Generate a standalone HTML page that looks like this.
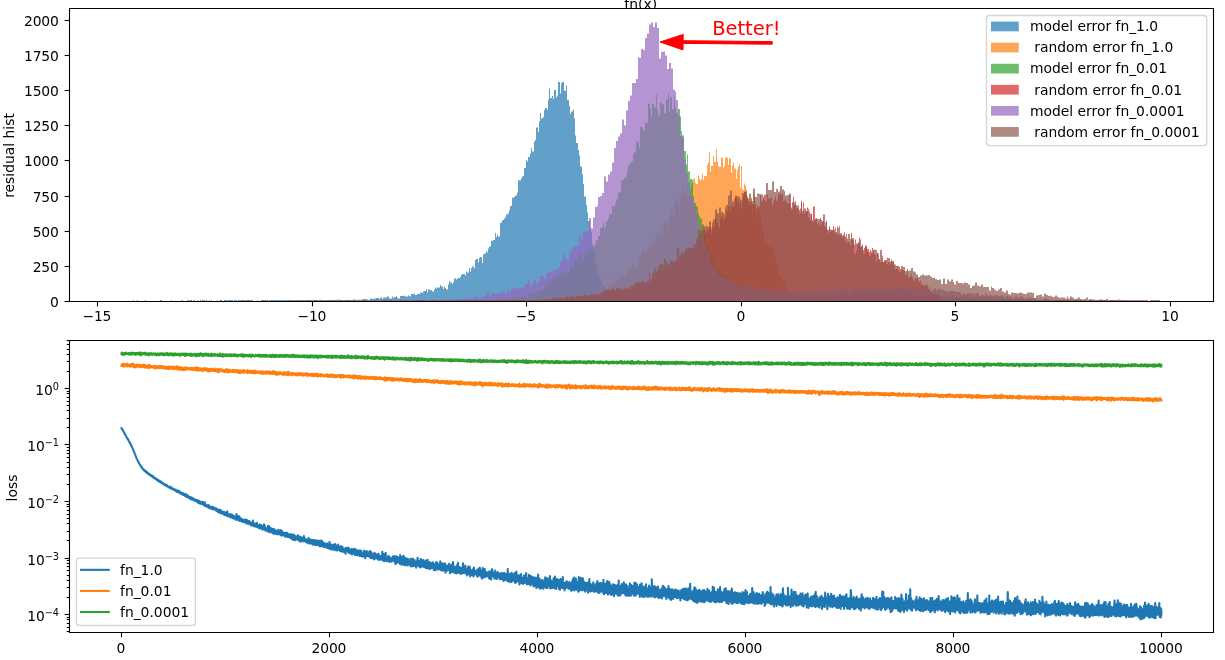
<!DOCTYPE html>
<html lang="en"><head><meta charset="utf-8"><title>residual hist / loss</title>
<style>
html,body{margin:0;padding:0;background:#fff}
svg{display:block}
text{font-family:"DejaVu Sans","Liberation Sans",sans-serif;font-size:13.89px;fill:#000}
.t{letter-spacing:-.15px}
.sp{fill:none;stroke:#000;stroke-width:1.1}
.tk{stroke:#000;stroke-width:1.1;fill:none}
.h{fill-opacity:.7;stroke:none}
.ln{fill:none;stroke-width:2.083;stroke-linejoin:round;stroke-linecap:square}
</style></head><body>
<svg width="1225" height="660" viewBox="0 0 1225 660">
<rect width="1225" height="660" fill="#fff"/>
<clipPath id="c0"><rect x="600" y="0" width="90" height="8"/></clipPath>
<g clip-path="url(#c0)"><text x="640.7" y="9.2" text-anchor="middle">fn(x)</text></g>
<clipPath id="c1"><rect x="69.5" y="8.5" width="1144" height="293"/></clipPath>
<g clip-path="url(#c1)">
<path class="h" fill="#1f77b4" d="M122 301.5H133V300H134V301.5H137V300H138V301.5H145V300H146V301.5H160V300H162V301.5H171V300H172V301.5H181V300H183V301.5H188V300H189V301.5H190V300H192V301.5H197V300H198V301.5H200V300H201V301.5H202V300H205V301.5H206V300H207V301.5H209V300H210V301.5H211V300H212V301.5H220V300H222V301.5H224V300H227V301.5H228V300H233V301.5H235V300H237V301.5H238V300H240V301.5H241V300H244V301.5H245V300H253V301.5H257V300H258V301.5H261V300H268V301.5H271V300H289V301.5H290V300H337V299.5H339V300H348V299.5H349V300H353V299.5H356V300H358V299.5H359V300H361V299.5H363V299H367V299.5H368V300H370V298.5H372V299H374V298.5H376V298H379V299H380V297.5H382V299H383V297.5H387V296.5H389V298.5H392V296.5H393V298H394V297H396V296H397V298H398V298.5H400V296H404V295.5H405V296.5H408V295.5H409V296H410V296.5H411V294H414V293.5H415V295H417V294H420V292.5H422V293H423V291.5H424V291H426V289H427V292.5H428V289.5H430V290.5H431V290H432V291.5H434V289.5H435V287.5H436V288.5H437V287.5H440V285H441V286.5H443V289H444V286.5H445V288H446V289.5H448V284.5H449V281H450V282.5H452V284H453V282.5H454V278.5H456V279.5H457V278.5H458V278H460V277H461V275H462V274H465V275.5H466V271.5H467V272.5H469V268H470V271.5H471V268H472V266.5H474V268.5H475V260H476V259H478V262.5H479V258H480V257H482V263H483V254.5H484V253.5H486V251H487V252.5H488V248.5H489V246.5H491V240.5H492V241H493V240H495V233H496V237H497V234.5H498V236.5H500V223H501V222.5H502V220H504V218.5H505V217.5H506V214.5H508V213H509V210H510V206H512V197.5H513V198H514V197H515V195.5H517V192.5H518V180H519V180.5H521V178.5H522V176.5H523V176H524V168H526V160H527V161.5H528V157H530V153.5H531V148H532V151.5H534V141.5H535V140H536V127.5H538V132H539V121.5H540V113H541V118.5H543V117H544V110H545V108H547V110H548V99.5H549V88.5H550V98H552V96H553V99H554V90H556V97.5H557V95.5H558V82H560V93.5H561V83.5H562V82H564V90.5H565V91H566V85.5H567V100H569V106H570V114H571V111.5H573V109.5H574V118.5H575V135.5H576V143H578V150H579V155.5H580V166.5H582V174.5H583V184H584V196.5H586V205H587V212.5H588V221H590V227H591V232H592V244H593V252.5H595V263.5H596V264.5H597V274H599V277H601V281.5H602V286H604V291H605V292H606V294H608V294.5H609V295H610V298H612V299.5H613V300H622V301.5Z"/>
<path class="h" fill="#ff7f0e" d="M200 301.5H209V300H210V301.5H217V300H218V301.5H240V300H241V301.5H244V300H246V301.5H257V300H258V301.5H269V300H270V301.5H281V300H282V301.5H284V300H285V301.5H289V300H290V301.5H293V300H294V301.5H295V300H299V301.5H302V300H303V301.5H308V300H309V301.5H314V300H315V301.5H318V300H319V301.5H320V300H322V301.5H324V300H325V301.5H338V300H339V301.5H340V300H341V301.5H342V300H347V301.5H351V300H355V301.5H357V300H363V301.5H364V300H368V301.5H370V300H371V301.5H372V300H373V301.5H374V300H377V301.5H378V300H380V301.5H381V300H383V301.5H385V300H387V301.5H388V300H389V301.5H391V300H392V301.5H393V300H397V301.5H399V300H402V301.5H403V300H406V301.5H407V300H419V301.5H420V300H424V301.5H425V300H432V301.5H433V300H498V299H499V300H501V299.5H502V300H504V299.5H506V300H510V299.5H514V299H516V300H519V299.5H522V299H523V300H524V299H527V298.5H529V299.5H531V299H532V300H533V299H534V299.5H537V300H538V299.5H539V299H540V298.5H541V298H542V299H545V299.5H546V298.5H548V298H549V296.5H550V298H552V299.5H553V298.5H554V299H556V296.5H557V297H558V299H560V296.5H561V295.5H562V297.5H564V297H565V296H566V295.5H568V295H569V294.5H571V294H572V295H573V297.5H575V295.5H576V295H577V295.5H578V293.5H579V295H580V295.5H581V292H583V293H584V293.5H585V292H587V292.5H588V296.5H590V293.5H591V293H592V293.5H593V291.5H594V289.5H595V292H596V292.5H598V287H599V290.5H600V291.5H601V288.5H602V288H603V289.5H604V286.5H606V288H607V288.5H608V286H609V284H610V286H611V283.5H612V284H614V277H615V284H616V278.5H617V281H618V280.5H619V277.5H621V276.5H622V274.5H623V276H624V277H625V276H626V272.5H627V271H629V267.5H630V269H631V266H632V263.5H633V266H634V269.5H636V267.5H637V267H638V256.5H639V262.5H640V254.5H641V255H642V250H644V251H645V253H646V252H647V249.5H648V247.5H649V248.5H650V245H652V237.5H653V248.5H654V239.5H655V242H656V236.5H657V232H658V234H660V229H661V237H662V224H663V229H664V222H667V232H668V222.5H669V216H670V208H671V212H672V210.5H673V216.5H675V201.5H676V198H677V205H678V204.5H679V210H680V196.5H682V185.5H683V194H684V189.5H685V191.5H686V198H687V184.5H688V196.5H690V189.5H691V185H692V179.5H694V178H695V183H696V184H698V175.5H699V178.5H700V180.5H701V179H702V173.5H703V180H704V176H706V176.5H707V165H708V162.5H709V152H710V171.5H711V166H713V156H714V162H716V149.5H717V161.5H718V166H719V167H721V157.5H722V158H723V168H724V166H725V157.5H728V165H729V158H730V159H731V173H732V165.5H733V162H734V168.5H736V179H737V170H738V166.5H739V164.5H740V188H741V166H742V190H744V183.5H745V185.5H746V189.5H747V195.5H748V204H749V197H750V205H752V215.5H753V192H754V204.5H755V202H756V217H757V209H759V211.5H760V214.5H761V224.5H762V232H763V231H764V242H765V243H767V239H768V246H770V248.5H771V244H772V249H774V256.5H775V255.5H776V264.5H777V266H779V275H780V275.5H782V281H783V280.5H784V279.5H785V286H787V289.5H788V291.5H790V293H791V290.5H793V294.5H794V297H795V296.5H796V298.5H799V299.5H800V300H805V301.5H806V300H807V301.5H808V301.5Z"/>
<path class="h" fill="#2ca02c" d="M250 301.5H288V300H290V301.5H291V300H292V301.5H298V300H300V301.5H306V300H308V301.5H314V300H315V301.5H327V300H329V301.5H330V300H332V301.5H344V300H345V301.5H346V300H350V301.5H351V300H352V301.5H358V300H366V301.5H370V300H383V301.5H384V300H386V301.5H388V300H390V301.5H391V300H394V301.5H396V300H416V301.5H417V300H420V301.5H422V300H428V301.5H429V300H446V301.5H447V300H495V299.5H496V300H500V299.5H501V300H502V299.5H506V299H507V298.5H510V299H513V298H514V297.5H518V298H519V296.5H520V294.5H522V296.5H524V295.5H525V295H526V297.5H528V294.5H530V295H531V292H532V293.5H536V292H537V291H540V290H542V290.5H543V288.5H544V286H546V283H548V284H549V283H550V280.5H552V279.5H554V277H555V276.5H556V277.5H558V275.5H560V274.5H561V273H562V272H564V272.5H566V274H567V270H568V272H570V266H572V265H573V268H574V261H576V259.5H578V260H579V255H580V253.5H582V260H584V253H586V252H588V248.5H590V251H591V249H592V247H594V244.5H596V239.5H597V240.5H598V236H600V228H602V227H603V222.5H604V227.5H606V221H608V218H609V214H612V206H614V207H615V203.5H616V199.5H618V192.5H620V192H621V181.5H622V180H624V178H626V175.5H627V170.5H628V165.5H630V162.5H632V161.5H633V154.5H634V152.5H636V141.5H638V142.5H639V147.5H640V127H642V129H644V131.5H645V123H646V122.5H648V103.5H650V109H651V117H652V104H654V107.5H656V94.5H657V109.5H658V115.5H660V103H662V104.5H663V104H664V113H666V99.5H668V93H669V112H670V97.5H672V109.5H674V96.5H675V108H676V113H678V109H680V116.5H681V131H682V135.5H684V151H686V164.5H687V154.5H688V171.5H690V179H692V182H693V196.5H694V203H696V206.5H698V213H699V216.5H700V218.5H702V228.5H704V230.5H705V235H706V245.5H708V246.5H710V254.5H711V253H712V258H714V262.5H716V268.5H717V267.5H718V271.5H720V270.5H722V273.5H723V276.5H724V274.5H726V276H728V279.5H729V278H730V281.5H732V282.5H735V284.5H736V285H740V283H741V284H742V287H744V284.5H746V287.5H748V287H750V288.5H752V286H753V289H754V291H756V288.5H758V291H760V294.5H762V290H764V290.5H765V291H768V290.5H770V293H771V292H772V294H776V292.5H777V293.5H778V295.5H780V293.5H782V294.5H783V295H784V294H786V294.5H788V296H789V295.5H790V292.5H792V296H794V294H798V295.5H800V295H801V294.5H802V294H804V295.5H806V296H807V294H808V293.5H810V294.5H812V295.5H813V294.5H816V294H818V296H819V295H822V296H824V294.5H825V295H826V295.5H828V294.5H830V296H831V295H832V294.5H836V294H837V296H838V296.5H840V294.5H843V293H844V294H846V295.5H848V294H849V295.5H850V296.5H852V292.5H854V294.5H855V294H856V294.5H858V293H860V294.5H861V293.5H862V296H866V293.5H868V294.5H872V295H873V295.5H874V293.5H876V294H878V294.5H880V294H882V294.5H884V294H885V296H886V294.5H888V293H890V295.5H891V295H892V294H897V296.5H898V294.5H900V296H902V295.5H903V294.5H904V295H906V294H908V292H909V294H910V294.5H912V296H914V295.5H915V296H916V295.5H918V296H921V295.5H922V296.5H927V295H928V295.5H930V294.5H933V296H934V295H936V297H938V294H939V295H940V296H942V297H944V295.5H945V298H946V297H948V295.5H950V296.5H951V297H952V295.5H954V297.5H956V296.5H957V297H958V297.5H960V296.5H962V297.5H963V295.5H964V297.5H966V295.5H968V298H969V296.5H970V298H972V298.5H974V297.5H975V297H976V298.5H978V296.5H980V298.5H981V297.5H986V299.5H987V297H988V297.5H990V298.5H992V299H993V299.5H996V298H998V298.5H999V299.5H1000V299H1002V297.5H1004V299H1005V299.5H1006V298H1008V298.5H1010V299H1011V299.5H1012V300H1016V299.5H1020V299H1022V299.5H1024V300H1035V299.5H1036V300H1044V299H1046V300H1077V301.5H1078V300H1086V301.5H1089V300H1092V301.5H1095V301.5Z"/>
<path class="h" fill="#d62728" d="M300 301.5H309V300H311V301.5H329V300H330V301.5H342V300H343V301.5H361V300H363V301.5H383V300H384V301.5H389V300H392V301.5H394V300H395V301.5H398V300H399V301.5H400V300H401V301.5H407V300H409V301.5H412V300H413V301.5H415V300H421V301.5H422V300H428V301.5H433V300H436V301.5H438V300H439V301.5H441V300H448V301.5H450V300H454V301.5H455V300H461V301.5H462V300H472V301.5H473V300H490V301.5H491V300H524V299.5H525V300H528V299.5H529V300H530V299.5H531V300H537V299H538V299.5H539V300H543V299H544V300H546V299H547V300H548V298.5H549V299.5H550V300H551V299H552V298.5H554V298H556V298.5H557V299H558V299.5H559V299H560V299.5H561V299H563V300H564V298.5H566V296.5H567V297.5H568V298.5H569V297.5H570V299H572V298.5H573V299.5H574V296.5H575V297H576V298.5H577V297.5H578V296.5H582V297.5H584V296.5H585V295.5H586V297H589V295H590V296.5H591V294.5H592V295H593V294.5H594V293H595V294H598V295.5H599V295H600V293H601V292H603V290.5H604V292.5H607V291H608V292H610V293H611V290H612V292.5H613V290H615V292.5H616V288.5H617V291.5H618V288.5H619V292H620V290H621V287.5H622V290.5H624V288.5H625V289.5H626V292H627V287.5H629V289.5H630V286.5H631V288.5H634V286.5H635V287.5H636V282H637V288H638V283.5H639V282.5H641V287.5H642V286.5H643V281.5H644V283H645V281H646V278.5H647V281H648V281.5H650V284.5H651V277.5H652V279H653V276H654V275H655V278H656V270H657V271H659V270.5H660V274.5H661V272H662V271.5H663V270.5H664V271.5H665V267H666V266.5H668V265.5H669V267H670V261.5H671V263.5H672V270.5H673V264H674V261.5H676V258H677V261H678V260H680V255.5H681V257.5H683V257H685V252H686V254.5H687V257H688V249.5H689V252.5H690V248.5H691V248H692V244.5H694V244H695V248H696V245.5H697V248H698V237H699V239.5H700V235H702V239H703V243.5H704V229.5H705V233H706V231.5H707V230.5H708V227.5H709V226.5H711V233.5H712V222.5H713V227.5H714V226H715V217H716V219H717V222.5H718V227.5H720V218.5H721V216H722V217H723V220.5H724V217.5H725V218H726V211H728V207H729V205.5H730V211.5H731V207H732V204.5H733V208H734V206H735V195.5H737V203H738V199.5H739V204.5H740V202H741V209.5H742V202H743V196.5H744V192.5H746V196H747V198H748V201H749V203.5H750V201.5H751V198H752V204H754V196.5H755V205H756V208H757V205H758V207.5H759V206H760V195.5H761V201H763V199H764V195H765V194.5H766V202H767V194H768V198H769V199.5H770V197.5H772V205.5H773V202.5H774V199.5H775V196.5H776V201H777V199.5H778V194.5H780V193H781V195.5H782V193.5H783V201H784V200.5H785V198.5H786V201.5H787V203.5H789V195H790V203.5H791V207.5H792V202H793V197H794V205H795V201H796V208H798V209H799V210H800V208.5H801V200.5H802V213.5H803V202.5H804V214H805V211.5H807V207.5H808V209H809V211.5H810V220.5H811V213.5H812V220H813V206.5H815V218.5H816V218H817V224H818V222.5H819V226H820V218H821V223.5H822V221H824V226.5H826V220.5H827V229.5H828V233.5H829V226H830V232H831V230.5H833V226H834V233H835V227.5H836V234H837V226.5H838V228H839V235H842V237.5H843V234.5H844V232H845V242H846V234H847V242.5H848V242H850V245.5H851V233H852V240.5H854V244.5H855V239.5H856V250.5H857V244H859V237.5H860V247H861V246H862V244.5H863V250H864V248H865V245.5H867V249H869V252H870V250H871V251.5H872V248H873V251H874V254.5H876V261.5H877V253H878V253.5H879V259H880V262.5H881V261H882V255.5H883V262H885V261H886V260H887V257.5H888V262H889V262.5H890V264.5H891V259.5H892V262H894V265.5H895V269.5H896V269H897V266H898V270H899V267H900V269H902V270H904V271H905V275H906V274.5H907V269H908V277.5H909V277H911V274H912V277.5H913V279.5H914V281.5H915V278H918V281.5H920V280.5H921V285H922V283.5H923V286H924V285H928V289.5H929V287H930V290.5H931V292H933V294.5H934V293.5H935V294H937V295H939V296.5H940V297H941V299H942V298.5H943V300H949V301.5Z"/>
<path class="h" fill="#9467bd" d="M170 301.5H187V300H189V301.5H193V300H195V301.5H220V300H222V301.5H234V300H236V301.5H242V300H244V301.5H248V300H249V301.5H261V300H263V301.5H269V300H271V301.5H273V300H275V301.5H285V300H286V301.5H288V300H290V301.5H292V300H294V301.5H296V300H298V301.5H302V300H304V301.5H308V300H310V301.5H314V300H318V301.5H329V300H337V301.5H341V300H343V301.5H347V300H355V301.5H361V300H450V299.5H452V300H456V299H458V299.5H462V299H464V298.5H466V298H468V299H470V298.5H474V296.5H476V297H478V298.5H480V297.5H483V296H485V295.5H487V292.5H489V296.5H491V293H493V293.5H495V294.5H497V293.5H501V292.5H503V291H505V294H507V289.5H509V291.5H511V288.5H513V289.5H515V288H517V288.5H519V286.5H520V287.5H522V288H524V284.5H526V283.5H528V280H530V286.5H532V283H534V280H536V283.5H538V281H540V275.5H542V276H544V279.5H546V273.5H548V272.5H550V272H552V271H554V269.5H556V270H558V267.5H560V262H561V261H563V254.5H565V258H567V261.5H569V253.5H571V249.5H573V247H575V245.5H577V246H579V235.5H581V239.5H583V231.5H587V231H589V218H591V228.5H593V217.5H595V207H597V205.5H598V197H600V196H602V193H604V176.5H606V181.5H608V174.5H610V171.5H612V162.5H614V148H616V141H618V136.5H620V133.5H622V119.5H624V125.5H626V110.5H628V101H630V95.5H632V83H636V79H638V57H639V58H641V49H643V50H645V38H647V33.5H649V24.5H651V22.5H653V27H655V22.5H657V28H659V58.5H661V52H663V51.5H665V55.5H667V69H669V63H671V68.5H673V89.5H675V91.5H676V100H678V116H680V136H682V138H684V160H686V173H688V182H690V195H692V197.5H694V207H696V213.5H698V224H700V236.5H702V241H704V244H706V253.5H708V250H710V263H712V267.5H714V266.5H716V270H717V274H719V276.5H721V277H723V277.5H725V278.5H727V281.5H729V281H731V281.5H733V282H735V289.5H737V286H739V286.5H741V286H745V285H747V286H749V287.5H753V285H754V289H756V288H758V286.5H760V288.5H762V292H764V289H766V290.5H770V289H772V290H774V291H776V289.5H778V290.5H780V291H786V291.5H788V292H790V291H792V292.5H794V293H795V289.5H797V291H805V290.5H809V291.5H811V289.5H813V291.5H815V289H817V293H819V291.5H821V288.5H823V290H825V290.5H827V289H829V291H831V289H832V292.5H834V289.5H836V290H838V288H840V287.5H842V290H844V286H846V289.5H848V291.5H850V292H852V286H854V288.5H856V289H860V289.5H862V286H864V288H866V285H868V288H870V291.5H872V286.5H873V288.5H877V285.5H879V288.5H881V286H883V288H885V289H887V287H889V289H891V286H893V286.5H895V287.5H897V287H901V288.5H903V286.5H905V288.5H907V287H909V289.5H910V288H912V287.5H914V289.5H916V289H918V289.5H920V287.5H922V290H924V288.5H926V287H928V289H930V292H932V289.5H934V288.5H936V290.5H938V288.5H940V289.5H942V290H944V291H946V291.5H950V291H955V292H961V294.5H963V293.5H965V294H967V293H969V293.5H973V294.5H975V293H977V293.5H979V296H981V294.5H983V295.5H985V293H987V295.5H990V295H992V295.5H996V294.5H998V296H1000V295.5H1004V297.5H1006V295.5H1008V296.5H1012V298H1014V296.5H1016V297H1018V298H1020V296H1022V297.5H1024V298.5H1026V298H1028V297.5H1031V298H1037V300H1039V299.5H1041V300H1043V299.5H1045V298.5H1047V299H1049V300H1082V301.5H1084V300H1086V301.5H1088V300H1107V301.5H1109V300H1117V301.5H1121V300H1123V301.5H1125V301.5Z"/>
<path class="h" fill="#8c564b" d="M300 301.5H314V300H316V301.5H320V300H322V301.5H339V300H341V301.5H364V300H366V301.5H377V300H379V301.5H384V300H388V301.5H390V300H392V301.5H394V300H396V301.5H400V300H402V301.5H404V300H407V301.5H413V300H415V301.5H417V300H424V301.5H430V300H438V301.5H440V300H441V301.5H445V300H449V301.5H451V300H542V299.5H544V299H546V299.5H548V300H550V299H552V298.5H555V297.5H557V298.5H559V298H561V297H563V298.5H565V296.5H569V297H571V296H573V296.5H574V298H576V296H578V296.5H580V296H584V294.5H586V295H588V296.5H590V295H592V294H593V295.5H595V295H597V294.5H601V292.5H603V291H605V289.5H607V290H609V289.5H611V289H612V288H614V290.5H616V288H618V288.5H622V289H624V288.5H626V288H628V289H630V285.5H631V286H633V285H635V283H637V281.5H639V282.5H641V280.5H643V282.5H645V283H647V281.5H649V272.5H650V279H652V272.5H654V268.5H656V272H658V265.5H660V263.5H662V264.5H664V259H666V262.5H668V264.5H670V259.5H671V261H673V262H675V260.5H677V248H679V255H681V252H683V252.5H685V248.5H687V248H688V247.5H690V248.5H692V248H694V244H696V238.5H698V229.5H700V230.5H702V224.5H704V226.5H706V226H708V229H709V221.5H711V228.5H713V219.5H715V209.5H717V213H719V207.5H721V212H723V213.5H725V207.5H726V205H728V195.5H730V190.5H732V201.5H734V198.5H736V196.5H740V199.5H742V193H744V191.5H747V198.5H749V193.5H751V201H753V188.5H755V197H757V193.5H759V194H761V194.5H763V196.5H764V200H766V183H768V190H772V181.5H774V192H776V189H778V191.5H780V186H782V189.5H784V191H785V195.5H787V195H789V193.5H791V210H793V202.5H795V205H797V205.5H799V213.5H801V202.5H802V210.5H804V208.5H806V211H808V217.5H810V214H812V222H814V220H816V219H820V220H822V222.5H823V214.5H825V222.5H827V230H829V229H831V230H833V229.5H835V232H837V234H839V226H840V233H842V235.5H844V236.5H846V238.5H848V234H850V239H852V238H854V254H856V243.5H858V242H860V239.5H861V247H863V253.5H865V247H867V252H869V256.5H871V253.5H873V249.5H875V250H877V253H878V259.5H880V250H882V262H884V260H886V264.5H888V258H890V261.5H892V261H894V264.5H896V266H899V272.5H901V266H903V267H905V271H909V270.5H911V268H913V271.5H915V272.5H916V274.5H918V277H920V275.5H922V274.5H924V275.5H928V275H930V276.5H932V278H934V277.5H935V279H937V280H939V279.5H941V284H943V278.5H945V284H947V279.5H949V281.5H951V279.5H953V282H954V284.5H956V281H958V283H962V283.5H964V282.5H966V283H968V284.5H970V288H972V286H973V285.5H975V282.5H977V285.5H979V286.5H981V284.5H983V287H989V290.5H991V286.5H992V288H994V289.5H996V291H998V289.5H1000V288H1002V291.5H1004V292.5H1006V290.5H1008V294H1010V295H1011V292.5H1013V293H1017V293.5H1019V292.5H1021V293H1023V294H1027V292.5H1032V293H1034V298H1036V295.5H1038V295H1040V294.5H1042V296.5H1044V293.5H1046V295H1048V296H1050V295.5H1051V296.5H1053V297H1055V295.5H1057V297H1059V298H1061V297.5H1065V298.5H1067V296.5H1068V298.5H1070V296.5H1072V297.5H1074V299H1076V298.5H1078V297.5H1080V299H1082V299.5H1084V299H1086V297.5H1088V300H1089V299H1091V299.5H1095V300H1099V299.5H1103V300H1106V299H1108V300H1118V299.5H1120V300H1148V301.5H1150V300H1160V301.5H1162V301.5Z"/>
</g>
<path fill="#f00" stroke="#f00" stroke-width="1" stroke-linejoin="miter" d="M772.2 41.6L683.1 40.7L683.2 34.4L660 42L683 49.9L683.1 43.4L772.2 44.2Z"/>
<text x="712.2" y="34.6" style="font-size:19.444px;fill:#f00">Better!</text>
<path class="sp" d="M69.5 8.5H1213.5V301.5H69.5Z"/>
<path class="tk" d="M97.5 301.5v4.86"/><text class="t" x="96.9" y="321" text-anchor="middle">−15</text>
<path class="tk" d="M312.5 301.5v4.86"/><text class="t" x="311.9" y="321" text-anchor="middle">−10</text>
<path class="tk" d="M526.5 301.5v4.86"/><text class="t" x="525.9" y="321" text-anchor="middle">−5</text>
<path class="tk" d="M741.5 301.5v4.86"/><text class="t" x="740.9" y="321" text-anchor="middle">0</text>
<path class="tk" d="M955.5 301.5v4.86"/><text class="t" x="954.9" y="321" text-anchor="middle">5</text>
<path class="tk" d="M1170.5 301.5v4.86"/><text class="t" x="1169.9" y="321" text-anchor="middle">10</text>
<path class="tk" d="M69.5 301.5h-4.86"/><text class="t" x="58.7" y="306.8" text-anchor="end">0</text>
<path class="tk" d="M69.5 266.5h-4.86"/><text class="t" x="58.7" y="271.8" text-anchor="end">250</text>
<path class="tk" d="M69.5 231.5h-4.86"/><text class="t" x="58.7" y="236.8" text-anchor="end">500</text>
<path class="tk" d="M69.5 196.5h-4.86"/><text class="t" x="58.7" y="201.8" text-anchor="end">750</text>
<path class="tk" d="M69.5 160.5h-4.86"/><text class="t" x="58.7" y="165.8" text-anchor="end">1000</text>
<path class="tk" d="M69.5 125.5h-4.86"/><text class="t" x="58.7" y="130.8" text-anchor="end">1250</text>
<path class="tk" d="M69.5 90.5h-4.86"/><text class="t" x="58.7" y="95.8" text-anchor="end">1500</text>
<path class="tk" d="M69.5 55.5h-4.86"/><text class="t" x="58.7" y="60.8" text-anchor="end">1750</text>
<path class="tk" d="M69.5 20.5h-4.86"/><text class="t" x="58.7" y="25.8" text-anchor="end">2000</text>
<text transform="translate(13.7 155.5) rotate(-90)" text-anchor="middle">residual hist</text>
<rect x="986.5" y="15.44" width="220.2" height="130.16" rx="2.78" fill="#fff" fill-opacity=".8" stroke="#ccc" stroke-opacity=".8" stroke-width="1.39"/>
<rect class="h" x="991" y="21.6" width="27.78" height="9.72" fill="#1f77b4"/><text x="1029.9" y="31.32" xml:space="preserve" style="white-space:pre">model error fn_1.0</text>
<rect class="h" x="991" y="42.69" width="27.78" height="9.72" fill="#ff7f0e"/><text x="1029.9" y="52.41" xml:space="preserve" style="white-space:pre"> random error fn_1.0</text>
<rect class="h" x="991" y="63.77" width="27.78" height="9.72" fill="#2ca02c"/><text x="1029.9" y="73.49" xml:space="preserve" style="white-space:pre">model error fn_0.01</text>
<rect class="h" x="991" y="84.86" width="27.78" height="9.72" fill="#d62728"/><text x="1029.9" y="94.58" xml:space="preserve" style="white-space:pre"> random error fn_0.01</text>
<rect class="h" x="991" y="105.94" width="27.78" height="9.72" fill="#9467bd"/><text x="1029.9" y="115.66" xml:space="preserve" style="white-space:pre">model error fn_0.0001</text>
<rect class="h" x="991" y="127.03" width="27.78" height="9.72" fill="#8c564b"/><text x="1029.9" y="136.75" xml:space="preserve" style="white-space:pre"> random error fn_0.0001</text>
<clipPath id="c2"><rect x="69.5" y="340.5" width="1144" height="292"/></clipPath>
<g clip-path="url(#c2)">
<path class="ln" stroke="#1f77b4" d="M121.5 428.18l0.42 0.74l0.1 0.09l0.42 0.53l0.1 0.16l0.21 0.63l0.31 0.63l0.31 0.38l0.21 0.35l0.31 0.75l0.21 0.38l0.42 0.41l0.2 0.45l0.32 0.88l0.1-0.15l0.42 0.67l0.1 0.15l0.42 0.92l0.2 0.14l0.32 0.61l0.1 0.43l0.42 0.88l0.1 0.14l0.42 0.65l0.2-0.24l0.21 0.93l0.21-0.09l0.42 1.4l0.1-0.13l0.42 0.8l0.1 0.4l0.42 0.71l0.2-0.43l0.32 1.67l0.1 0.01l0.42 0.5l0.1 0.29l0.31 0.62l0.21 0.27l0.31 1.02l0.31 0.12l0.32 0.68l0.2 0.63l0.32 0.8l0.1 0.41l0.42 1.08l0.1-0.44l0.31 1.38l0.42 0.44l0.21 1l0.2 0.4l0.21 0.85l0.21 0.43l0.42 0.67l0.1 0.7l0.31 0.85l0.21 0.17l0.42 0.98l0.1 0.4l0.31 0.77l0.21 0.26l0.42 0.88l0.2 0.46l0.32 0.73l0.1 0.15l0.42 0.83l0.1-0.14l0.31 1.1l0.21 0.22l0.31 0.53l0.21 0.08l0.42 1.07l0.1-0.39l0.42 1.27l0.1-0.05l0.31 0.95l0.52-0.39l0.11 1.13l0.1-0.19l0.42 0.9l0.2-0.21l0.32 0.52l0.31 0.49l0.21-0.17l0.1 0.29l0.21 0.22l0.31-0.03l0.1 0.79l0.42-0.27l0.31 1.01l0.21-0.3l0.42 0.67l0.2 0.17l0.11-0.83l0.41 0.73l0.21 0.67l0.42-0.64l0.21 1.26l0.1-0.39l0.1 0.5l0.42-0.24l0.42 0.89l0.1-0.28l0.1 0.42l0.42-0.11l0.21 0.83l0.31-0.81l0.42 0.83l0.1-0.2l0.42 0.87l0.2-0.71l0.32 0.94l0.31-0.34l0.1 0.89l0.31-0.59l0.21 0.43l0.21-0.2l0.42 0.79l0.2 0.41l0.32-0.69l0.1-0.12l0.21 1.27l0.31-0.89l0.31 1.25l0.42 0.28l0.1-0.44l0.52 0.12l0.11 0.68l0.1-0.33l0.42 0.79l0.2-0.5l0.21 0.73l0.31 0.23l0.21-0.33l0.21 0.27l0.31 0.69l0.52 0.36l0.11-0.87l0.1 0.58l0.42 0.57l0.41 0.75l0.11-1.13l0.31 0.26l0.21 0.75l0.1-0.29l0.31 1.08l0.31-1.05l0.32 0.72l0.2 0.01l0.32 0.67l0.2-0.92l0.32 1.4l0.1-0.88l0.31 0.85l0.21-0.46l0.31 0.77l0.31-0.04l0.32 0.64l0.31-0.9l0.1 1.37l0.31-0.35l0.11 0.52l0.41-0.37l0.32 0.59l0.1-0.01l0.31-0.11l0.21 0.64l0.1-0.76l0.52 0.5l0.21 0.98l0.52-0.61l0.11 0.66l0.31-0.84l0.21 0.78l0.2 0.3l0.32-0.59l0.1 1.05l0.31-0.48l0.42 0.88l0.1-0.51l0.21 0.37l0.31 0.41l0.31-0.32l0.21 0.86l0.42-0.67l0.21 0.75l0.1-0.53l0.42 0.89l0.1 0.29l0.21-1.6l0.41 1.47l0.11-0.83l0.52 0.66l0.21 0.92l0.2-0.76l0.32 1.11l0.2-0.88l0.21 0.68l0.52 0.43l0.11-0.61l0.31 0.02l0.21 0.93l0.1-0.66l0.31 0.63l0.31-0.12l0.32 0.83l0.31-0.45l0.21 0.36l0.2-0.82l0.11 1.07l0.62-0.34l0.11 1.25l0.31-0.91l0.21 0.88l0.31 0.36l0.21-1.3l0.41-0.05l0.11 1.5l0.1-0.01l0.42-1.27l0.1 0.84l0.42 1.01l0.41-1.15l0.11 1.32l0.2 0.3l0.21-1.12l0.42 0.24l0.21 0.8l0.1-0.66l0.31 1.1l0.31 0.49l0.32-0.89l0.31-0.1l0.1 1.04l0.31 0.51l0.11-0.67l0.31 0.85l0.31-1.44l0.42 1.23l0.21 0.6l0.1-0.79l0.31 0.73l0.31-0.66l0.21 1.08l0.21-1.39l0.1 1.52l0.42-1.84l0.1 2.64l0.52-1.15l0.21 1.03l0.21-0.55l0.31 1.21l0.42-1.27l0.21 1.46l0.1-2.09l0.31 2.21l0.21-1.41l0.21 0.76l0.41-0.32l0.32 1.89l0.1-1.38l0.1 1.26l0.63-0.93l0.21 1.13l0.1-1.06l0.31 1.66l0.21-1.56l0.21 1.51l0.41 0.71l0.32-2.17l0.1 1.59l0.1-1.51l0.42 1.16l0.42 0.98l0.41-0.94l0.11 0.81l0.31-0.97l0.1 0.71l0.42-0.08l0.1 1.17l0.31-0.93l0.11 1.28l0.31-1l0.42 1.35l0.2-0.53l0.21-0.73l0.31 0.54l0.11 0.54l0.31 0.35l0.21-1.35l0.52 2.02l0.21-1.5l0.1 0.2l0.21 1.92l0.31-0.3l0.31-1.61l0.42 2.38l0.1-0.91l0.42-0.94l0.1 1.52l0.21-1.4l0.42 1.5l0.2 1.06l0.32-1.08l0.1-0.84l0.42 1.37l0.41-0.11l0.11 0.76l0.31 0.12l0.1-0.93l0.21 0.78l0.1-1.97l0.73 0.36l0.11 1.85l0.2 0.56l0.21-0.23l0.31-0.33l0.21 1.13l0.31-0.05l0.11-1.77l0.31 2.14l0.1-3.08l0.63 3.89l0.21-2.08l0.2 0.77l0.32 0.75l0.2-0.56l0.21 1.38l0.31-0.34l0.32-0.95l0.2 1.21l0.11-0.77l0.41-0.29l0.32 2.29l0.2-0.98l0.21-1.62l0.42 2.59l0.1-1.19l0.31-0.43l0.32 2.18l0.1-0.08l0.42-1.55l0.2 0.12l0.21 1.36l0.21-1.38l0.31 1.89l0.21-0.11l0.42-1.01l0.41-0.72l0.11 2.54l0.1-1.62l0.1 1.64l0.52-0.24l0.11-1.66l0.52 1.92l0.1-1.96l0.21 1.51l0.42 0.61l0.31-0.88l0.21 0.95l0.41-1.29l0.11 1.36l0.1 0.03l0.21 0.63l0.41-0.17l0.21-1.59l0.21 0.83l0.21 1.46l0.31 0.18l0.21-1.82l0.41 2.4l0.11-1.91l0.52 2.67l0.21-2.47l0.2 0.4l0.32 1.63l0.31 0.56l0.21-2.81l0.1 1.45l0.1 1.58l0.52-1.17l0.32 1.48l0.31-2.65l0.1 2.62l0.21-1.33l0.21 1.15l0.31 0.82l0.1-1.71l0.52 0.42l0.21 1.02l0.42-1.69l0.1 1.77l0.31 0.61l0.11-0.99l0.52 0.21l0.1 1.66l0.31-0.6l0.21-2.28l0.42 0.93l0.1 2.06l0.52-1.38l0.11 1.28l0.41 0.74l0.11-2.78l0.31 2.68l0.21-1.33l0.2 1.13l0.11-3.99l0.31 1.61l0.31 3.31l0.52-0.83l0.11-0.81l0.1 0l0.1 0.87l0.42 0.92l0.31-2.14l0.52 2.56l0.11-2.77l0.2 1.37l0.32 1.95l0.2-2.45l0.11 2.16l0.41-0.51l0.32-2.15l0.2 0.65l0.21 2.16l0.42 0.66l0.1-1.66l0.31 1.56l0.11-2.48l0.52 0.86l0.21 2.5l0.1-2.49l0.31 1.74l0.42-0.13l0.1-1.32l0.52 0.85l0.11 1.08l0.31 0.5l0.21-1.91l0.2 2.77l0.21-1.8l0.31-4l0.21 5l0.31-3.34l0.32 3.89l0.2 0.03l0.32-3.56l0.2 0.32l0.11 3.73l0.52 0.39l0.1-1.9l0.42 1.17l0.1-3.55l0.31 3.68l0.11-1.36l0.31 2.51l0.42-2.41l0.31 0.7l0.1 1.09l0.52-1.89l0.11 0.42l0.2 0.84l0.11 1.74l0.52-0.23l0.21-1.82l0.2 2.61l0.21-2.04l0.52 0.08l0.11 1.8l0.31-0.46l0.21-1.63l0.41 0.03l0.11 2.26l0.1 0.17l0.21-1.54l0.62 1.82l0.11-1.16l0.2-1.97l0.32 2.74l0.2 1.24l0.11-2.55l0.52-0.68l0.21 2.29l0.1-1.66l0.21 1.76l0.31-1.54l0.31 2.82l0.21-0.91l0.1-2.02l0.52 2.69l0.32-2.55l0.1 2.66l0.1-1.23l0.42 1.84l0.21-2.38l0.41 0.63l0.32 2.6l0.2-1.24l0.32 1.41l0.2 0.02l0.21-2.14l0.21 0.53l0.42 1.42l0.41-4.7l0.11 4.93l0.1-2.15l0.21 2.48l0.31 0.25l0.31-2.67l0.42 2.36l0.21-1.01l0.41 0.3l0.11 1.6l0.1-3.08l0.21 2.7l0.52 0.28l0.1-2.34l0.52 2.56l0.11-1.95l0.31-1.99l0.21 4.25l0.1-0.36l0.21-2.03l0.31 0.61l0.1 2.03l0.52-1.1l0.11 1.5l0.52-1.59l0.21 1.53l0.31 0.76l0.21-3.93l0.31 1.02l0.21 2.35l0.1-1.88l0.1 2.38l0.52 0.15l0.11-3.49l0.31 3.56l0.42-2.62l0.31 3.32l0.21-3.23l0.2 0.93l0.11 2.76l0.31-1.11l0.31-1.58l0.31-0.2l0.32 2.22l0.2-4.74l0.32 4.95l0.31-0.56l0.1-0.99l0.31-1.06l0.32 4.18l0.31-2.35l0.21 1.42l0.2-0.13l0.11-1l0.31-0.42l0.31 1.91l0.31-2.03l0.32 2.39l0.31 0.92l0.21-5.69l0.2 1.7l0.21 2.12l0.21 2.05l0.21-0.97l0.31-4.39l0.42 5.78l0.31-0.65l0.21-2.9l0.2 2.77l0.11-3.37l0.31 4.03l0.21-1.92l0.62-1.44l0.11 1.88l0.31 1.6l0.21-2.72l0.1 3.5l0.21-3.1l0.31 0.82l0.1-1.9l0.63 0.59l0.1 4.46l0.31-1.01l0.32-3.5l0.31 0.67l0.21 3.27l0.1-3.17l0.1 3.86l0.63-3.27l0.1 2.32l0.52 0.53l0.11-1.63l0.2-0.45l0.32 1.38l0.1 1.49l0.21-3.4l0.41 1.22l0.21 0.64l0.21 1.54l0.31-4.36l0.52 4.07l0.11-2.87l0.31 3.05l0.21-3.53l0.2 2.95l0.11-1.69l0.41 2.3l0.21-1.86l0.21 2.65l0.21-5.01l0.52 5.59l0.1-3.62l0.52-0.79l0.11 3.98l0.1 0.43l0.21-3.06l0.62 2.99l0.11-2.68l0.1 2.19l0.21-2.12l0.41 2.43l0.32-1.73l0.2-0.7l0.32 2.09l0.1-0.2l0.1 1.13l0.42 0.88l0.21-3.89l0.52 1.38l0.21 1.77l0.2-1.77l0.11 2.15l0.52 0.4l0.1-4.05l0.52 3.44l0.11-2.72l0.31 3.6l0.21-2.78l0.1 1.89l0.21-1.88l0.31 0.76l0.1 0.8l0.42 0.03l0.21 1.21l0.31 0.65l0.1-2.8l0.52-0.87l0.11 3.8l0.31-1.83l0.42 2.09l0.31 0.75l0.21-4.1l0.1 1l0.21 2.4l0.41-1.55l0.11-1.71l0.31 4.53l0.1-2.13l0.42 2.66l0.1-5.53l0.63 1.07l0.1 2.67l0.42-2.33l0.1 2.74l0.42 1.64l0.21-3.11l0.2 1.57l0.32-1.94l0.31-0.23l0.21 2.72l0.1-2.87l0.21 2.52l0.31 0.49l0.21-3.21l0.41 2.54l0.11-3.32l0.52 5l0.21-2.76l0.41-1.17l0.11 4.56l0.41-0.96l0.11-3.09l0.1 3.09l0.42-3.29l0.1 3.45l0.21-2.19l0.31 3.56l0.1-2.31l0.42-1.79l0.1 3.44l0.63-2.67l0.1 2.46l0.42-2.54l0.21 2.15l0.41 0.16l0.11-3.32l0.2 4.21l0.32-5.25l0.1 4.93l0.31-1.04l0.21-1.63l0.1 2.8l0.42-2.38l0.42 2.54l0.1-2.07l0.31 2.51l0.21-1.57l0.21 1.6l0.41-2.28l0.11 2.79l0.52 0.52l0.21-2.64l0.31 0.36l0.21 1.08l0.31 0.4l0.21-4.15l0.1 5.46l0.21-4.48l0.41 1.69l0.21 2.77l0.52-1.32l0.11-2.01l0.31 0.15l0.21 3.17l0.1-3.88l0.42 4.08l0.1-0.83l0.42-2.46l0.2 3.06l0.21-3.23l0.31 1.33l0.21 3.09l0.21-1.68l0.31-2.01l0.31 3.93l0.32-5.03l0.1 1.8l0.31 3.31l0.31-1.55l0.32-2.54l0.2 1.4l0.21-1.12l0.21 2.9l0.31-3.53l0.21 4.91l0.21-4.76l0.52-0.08l0.21 4.44l0.31-2.05l0.21 1.51l0.1-0.77l0.31 1.2l0.21-2.28l0.21 2.15l0.41-4.12l0.32 4.91l0.31-4.02l0.21 2.98l0.1-1.26l0.1 3.11l0.63-0.21l0.1-3.74l0.21 3.11l0.1-4.89l0.63 5.61l0.21-4.59l0.2 4.8l0.11-5.57l0.41 4.01l0.21-3.02l0.21 1.04l0.1 3.18l0.42-2.28l0.42 2.13l0.1 1.4l0.31-4.2l0.42 3.14l0.1-2.65l0.21 0.57l0.42 2.61l0.2-1.34l0.11 1.66l0.52-2.87l0.21 3.3l0.2 0.12l0.21-4.31l0.31 0.48l0.11 2.46l0.31-1.3l0.31 3.02l0.31-0.94l0.11-2.46l0.31 0.76l0.31 1.63l0.42-2.32l0.1 4.16l0.21-6.96l0.31 5.54l0.21-3.37l0.42 3.09l0.1-0.6l0.31 2.88l0.31-0.32l0.21-4.37l0.31 4.42l0.21-2.36l0.31 2.65l0.32-4.04l0.41 0.31l0.11 2.6l0.1-0.88l0.42 2.15l0.41-4.87l0.11 5.32l0.31-3.27l0.1 1.32l0.42 1.09l0.21-5.09l0.2 4.24l0.11-2.26l0.52-0.71l0.1 3.28l0.31 1.95l0.21-3.03l0.31-0.84l0.11 2.83l0.52-1.98l0.1 2.79l0.42-2.22l0.1-3.45l0.21 2.65l0.1 1.86l0.52-2.42l0.21 3.13l0.21-1.81l0.21 1.68l0.41-0.31l0.11 1.52l0.31-2.94l0.21 3.21l0.31-5.05l0.21 3.46l0.41 1.8l0.21-4.39l0.31 3.6l0.11-2.27l0.31-1.33l0.42 4.17l0.1 0.69l0.21-2.98l0.31 0.67l0.21 1l0.31 0.93l0.1-2.33l0.52 2.97l0.21-3.55l0.21 1.31l0.21 1.98l0.31 1.92l0.1-5.49l0.42 2.87l0.31-3.22l0.31 0.42l0.21 2.92l0.21 0.02l0.42-2.95l0.1-0.53l0.42 4.12l0.2-4.04l0.21 4.78l0.42 0.07l0.1-4.41l0.21 1.36l0.1 2.9l0.52-3.23l0.21 3.34l0.31 0.85l0.11-2.63l0.31 0.32l0.42 2.37l0.31-0.57l0.21-3.99l0.31 5.31l0.21-4.96l0.2 4.01l0.11-2.14l0.62-1.86l0.11 4.14l0.2-3.81l0.11 2.89l0.41-3.88l0.32 4.68l0.41-1.72l0.11 3.25l0.41-5.6l0.11 4.35l0.2-4.27l0.11 4.83l0.52-0.31l0.21-2.89l0.1 0.18l0.31 3.83l0.42-0.62l0.1-4.24l0.31 5.04l0.11-4.3l0.31 3.44l0.31-2.22l0.42-1.53l0.1 4.02l0.52-4.09l0.11 5.43l0.41-0.08l0.11-3.91l0.41 3.05l0.11-3.89l0.2 3.79l0.11-4.46l0.52 0.94l0.1 4.66l0.21-3.17l0.42 2.14l0.31-0.9l0.1 2.65l0.21-0.96l0.31-2.63l0.21 2.65l0.42-3.49l0.31 3.74l0.1-5.53l0.42 3.96l0.1 1.75l0.42-3.3l0.1 5.13l0.21-5.83l0.31 3.19l0.21-1.94l0.1 2.47l0.52-4.99l0.21 5.47l0.52-1.41l0.11-2.26l0.41-1.01l0.11 4.03l0.1-0.27l0.31-2.4l0.31 0.35l0.11 2.71l0.31-1.7l0.31 2.15l0.31-0.51l0.32-1.14l0.1-3.93l0.21 6.44l0.52-3.87l0.1 2.7l0.21 1.83l0.42-6.02l0.2 5.34l0.11-1.14l0.41 1.37l0.32-2.51l0.2 2.84l0.21-3.85l0.42-0.05l0.21 3.55l0.41-3.99l0.11 5.73l0.2-2.2l0.21-4.37l0.21 4.84l0.1-4.39l0.63 5.1l0.1-4.06l0.21 3.3l0.1-3.69l0.73 4.3l0.11-2.82l0.2 1.09l0.32 1.34l0.41-1.78l0.11 3.01l0.2-4.89l0.32 4.39l0.2-4.98l0.21 6.31l0.21-0.22l0.1-3.15l0.42 2.05l0.21-2.9l0.41 3.29l0.21-2.58l0.42 2.16l0.21-2.02l0.1 3.16l0.42-3.58l0.1-0.24l0.42 3.76l0.1-1.94l0.31-5.93l0.21 5.45l0.21 2.32l0.62 1.04l0.11-4.36l0.1 4.54l0.1-6.71l0.42 0.09l0.1 7.07l0.42-3.52l0.21 1.98l0.52-2.57l0.1 1.43l0.21-5.9l0.42 8.08l0.31-2.36l0.1 2.84l0.21-0.31l0.42-3.18l0.2 2.15l0.21-2.16l0.21-0.44l0.31 3.69l0.21-4.86l0.31 4.84l0.31-2.12l0.32 3.03l0.1-5.37l0.42 4.17l0.2 0.2l0.11-1.96l0.31 0.1l0.21 2.05l0.41-2.81l0.32 3.38l0.2 0.07l0.21-2.88l0.52-1.03l0.11 2.91l0.1-0.44l0.42-4.03l0.1 3.24l0.42-2.15l0.2 3.3l0.32-2.88l0.31 2.27l0.21-2.01l0.1-1.67l0.31 5.76l0.21-5.72l0.1 5.79l0.52 1.92l0.32-5.73l0.2 4.86l0.11-6.91l0.31 1.8l0.42 4.51l0.31-4.78l0.21 3.29l0.1 1.13l0.1-5.27l0.63 4.35l0.21-1.57l0.2-1.5l0.32 4.04l0.1-0.2l0.31-3.11l0.42 4.88l0.21-8.74l0.41 5.99l0.11 2.48l0.1-7.4l0.31 6.69l0.31 1.62l0.32-7.45l0.41 6.92l0.11-4.21l0.41 0.04l0.11 4.72l0.1-4.31l0.21 3.56l0.41-7.96l0.32 6.12l0.31 0.9l0.21-2.1l0.1 4.12l0.42-6.21l0.1-1.18l0.42 7.63l0.1-3.71l0.21 4.03l0.31-5.78l0.21 4.91l0.31-0.37l0.31-4.94l0.21-0.68l0.1 4.88l0.42-3.95l0.42 5.93l0.2-1.9l0.11-4.59l0.41 1.7l0.11 2.7l0.52 0.91l0.1-2.69l0.21 2.02l0.21-2.39l0.31-0.49l0.1 4.27l0.52-6.13l0.11 7.32l0.62-6.97l0.11 6.35l0.1-5.68l0.21 1.73l0.31 4.74l0.21-4.06l0.31-3.7l0.31 6.68l0.21-3.24l0.42 3.95l0.1-6.24l0.21 4.56l0.41 1.41l0.32-5.34l0.2 1.54l0.11 2.3l0.41-2.65l0.11 4.65l0.31-2.68l0.31 4.09l0.42-5.38l0.21 3.5l0.1-1.01l0.31-3.02l0.42-3.93l0.21 6.6l0.41-3.02l0.11 4.34l0.2-3.03l0.32 3.5l0.1-5.24l0.31 4.08l0.21 1.6l0.42-4.77l0.1 1.88l0.21 3.75l0.41-8.31l0.21 6.48l0.42 0.94l0.1-7.2l0.31 2.07l0.21 4.53l0.21 0.6l0.21-2.22l0.31 0.97l0.42-3.35l0.2 2.79l0.32-4.66l0.2 4.78l0.32 2.18l0.31-4.11l0.21 2.9l0.2 1.18l0.11-5.13l0.41 4.85l0.21-2.95l0.21 4.19l0.31-7.43l0.31 6.13l0.32-2.9l0.1 4.42l0.31-5.03l0.52-3.42l0.11 6.42l0.41-3.51l0.11 4.42l0.2 1.2l0.11-3.36l0.52 2.32l0.21-5.28l0.1 7.11l0.42-5.71l0.1 1.92l0.21 2.71l0.52-5.12l0.1 5.51l0.42-2.17l0.21-3.27l0.2 1.29l0.11 3.88l0.41-0.41l0.32-4.67l0.31 4.55l0.21-4.46l0.2-0.93l0.11 2.51l0.31-0.19l0.31 5.55l0.21-3.94l0.1 3.04l0.52-0.82l0.21-2.96l0.21 1.12l0.31-2.85l0.21 6.65l0.31-5.05l0.42-3.12l0.21 5.14l0.41-2.22l0.11 3l0.2-2.8l0.32 3l0.1-5.21l0.42 6.52l0.2-4.88l0.11 4.07l0.31-2.76l0.42 2.83l0.2-3.08l0.21 3.55l0.31-3.73l0.21 3.79l0.21-8.14l0.42 7.95l0.1-0.12l0.42-2.78l0.1 4.18l0.1-5.9l0.52-1.23l0.11 6.36l0.31-5.9l0.21 4.9l0.31-4.8l0.1 6.71l0.42-5.33l0.42 4.99l0.31-3.74l0.1 3.5l0.31-0.63l0.21-6.08l0.31 3.98l0.21-3.6l0.21 9.07l0.31-4.33l0.31-2.61l0.11 3.09l0.62-2.36l0.11 4.34l0.1-3.5l0.1 2.76l0.73-4.61l0.11 3.93l0.41-0.48l0.11-1.42l0.31 1.36l0.1-5.26l0.42 6.4l0.1-4.08l0.42 6.89l0.21-7.88l0.1 8.28l0.31-7.29l0.52 5.38l0.11-2.59l0.2-3.69l0.32 5.78l0.1-0.34l0.31-6.14l0.31 7.71l0.11-7.33l0.31 6.85l0.31-9.47l0.42 6.16l0.1 3.11l0.42-4.61l0.21 4.17l0.1-0.19l0.31 2.13l0.31-6.01l0.11 4.58l0.41-4.21l0.21 4.01l0.21 1.83l0.21-6.26l0.52 1.72l0.21 4.96l0.1-1.84l0.21-6.62l0.52 6.59l0.1-3.31l0.21-5.45l0.1 9.53l0.63-4.2l0.21 3l0.1-4.39l0.31 6.01l0.31-4.09l0.32 2.41l0.1-2.11l0.1 4.4l0.63 0.48l0.1-6.46l0.31 2.35l0.11 3.81l0.52-3.03l0.1 2.67l0.21-5.04l0.42 4.24l0.1-1.39l0.42-7.71l0.2 7.03l0.32 2.69l0.1-4.58l0.21 2.99l0.62 0.54l0.11-1.45l0.1-2.22l0.21 3.97l0.41-6.81l0.32 6.41l0.1 1.42l0.42-3.43l0.2 1.01l0.11 3l0.31-3.76l0.21 1.69l0.31 3.68l0.31-6.98l0.42 5.55l0.21-7.54l0.31 7.25l0.1-3.4l0.52 2.23l0.11-4.39l0.1 4.57l0.21-6.35l0.31 1.79l0.31 8.2l0.21-5.55l0.42 3.74l0.1-2.56l0.31 2.74l0.42-4.34l0.1 4.31l0.31 0l0.32-4.46l0.1-0.91l0.31 4.77l0.31-4.14l0.11 3.42l0.31 3.02l0.31-9.03l0.31 3.18l0.32 3.99l0.31-3.8l0.1 2.8l0.42-1.75l0.1 2.37l0.42-0.86l0.21-1.3l0.1 1.35l0.42-3.05l0.31 1.36l0.21 3.57l0.41 1.35l0.11-3.93l0.2-2.97l0.32 5.13l0.31-6.43l0.1 5.8l0.52 1.04l0.11-2.43l0.2 2.25l0.11-5.17l0.41-2.32l0.21 7.94l0.31-0.24l0.11-2.47l0.41 3.05l0.32-3.48l0.31 5.32l0.1-7.42l0.21 2.15l0.21 6.11l0.41-1.87l0.21-8.75l0.31 8.22l0.32-4.97l0.31-2.08l0.1 8.23l0.31-1.39l0.32-4.65l0.31 5.64l0.1-8.08l0.42 6.8l0.1-4.2l0.42 2.94l0.21 2.24l0.1-3.14l0.42 2.27l0.1-0.74l0.1-2.65l0.63 1.01l0.21 1.77l0.2-0.11l0.11-2.83l0.52 1.73l0.1 3l0.31-5.51l0.32 5.58l0.2 1.22l0.11-4.33l0.52-2.22l0.21 2.82l0.1 4.37l0.42-4.16l0.2-3.05l0.32 3.71l0.1 4.07l0.21-9.14l0.62-1.15l0.11 5.82l0.2 1.06l0.11-5.82l0.62 5.92l0.11-1.29l0.1 1.46l0.42-3.34l0.41 3.34l0.11-3.48l0.2 5.67l0.21-5.01l0.42 3.17l0.21-6.14l0.2 7.78l0.21-5.95l0.42 1.65l0.1 3.38l0.52 1.01l0.11-3.36l0.1 3.86l0.31-4.82l0.42 2.12l0.21-4.14l0.31 4.56l0.1-2.55l0.21 2.74l0.21-3.55l0.62 1.85l0.11 3.16l0.31-2.12l0.1 2.9l0.21-4.63l0.31 3.45l0.42-4.7l0.1 5.86l0.42 0.17l0.1-5.37l0.21-0.92l0.1 5.73l0.52-0.25l0.21-3.99l0.42 1.87l0.1 3.12l0.21-6.11l0.42 7.71l0.2-7.33l0.11 5.64l0.31-0.94l0.1-5.41l0.73 1.51l0.11 5.34l0.41-6l0.11 5.27l0.41-4.09l0.11 3.85l0.2-4.47l0.32 3.42l0.1 0.14l0.31-3.63l0.21 6.93l0.42-12.29l0.1 7.53l0.31 2.65l0.52 1.86l0.11-5.13l0.1-1l0.1 5.33l0.63 1.81l0.1-8.18l0.31 2.44l0.32 4.05l0.2-5.21l0.21 4.91l0.31-3.69l0.32 5.61l0.1-5.01l0.21-4.3l0.31 3.31l0.31 4.43l0.21-0.03l0.31-5.21l0.21 4.86l0.42-4.62l0.2 5.35l0.11-5.98l0.62-1.35l0.11 8.37l0.1-0.1l0.21-5.47l0.41 6.61l0.21-9.94l0.21 3.64l0.42 5.97l0.31-10.95l0.1 9.03l0.21 0.24l0.31-3.58l0.42-0.83l0.21 3.21l0.1-2.59l0.42 4.26l0.2-0.83l0.11-5.36l0.52 6.26l0.1-2.82l0.21-1.02l0.1 7.02l0.42-1.32l0.21-7.65l0.31 6.59l0.42-5.41l0.31-2.66l0.21 8.73l0.2-3.15l0.32 3.12l0.31-4.48l0.1 4.56l0.31-1.04l0.11-4.11l0.41 6.26l0.11-5.45l0.31-0.55l0.31 4.37l0.21-6.71l0.42 6.69l0.31 0.48l0.21-4.05l0.1 3.3l0.1-6.84l0.42 2.52l0.31 5l0.31-9.78l0.32 8.67l0.2-3.82l0.21 6.7l0.31-6.22l0.11 5.35l0.31-0.08l0.21-4.28l0.31 4.54l0.1-6.08l0.63 6.29l0.1-9.17l0.31 1.76l0.32 4.7l0.2-3.02l0.21 3.85l0.42 3.23l0.21-9.6l0.1 3l0.31 5.19l0.42-7.41l0.21 6.88l0.41-6.42l0.11 6.56l0.1 0.34l0.1-5.62l0.42 4.92l0.1-5.93l0.52 9.18l0.21-5.68l0.21-3l0.1 5.6l0.42-4.53l0.21 6.91l0.52-8.28l0.1 6.46l0.52-1.53l0.11 3.17l0.2-3.36l0.32 5.81l0.41-10.32l0.11 6.63l0.31 1.72l0.21-4.55l0.41 5.2l0.11-6.22l0.2-5.91l0.32 9.93l0.2-3.97l0.11 5.11l0.31-3.01l0.42 5.87l0.2-9.69l0.32 9.05l0.1-5.86l0.31 3.51l0.31-4.73l0.32 3.64l0.1 3.93l0.21-6.79l0.62 4.02l0.11-5.28l0.31 6.95l0.1-7.45l0.21 0.83l0.21 6.15l0.41 1.86l0.32-6.44l0.1-0.67l0.31 2.01l0.31 3.32l0.11-5.71l0.31 4.06l0.42-7.88l0.31 4.89l0.21 4.58l0.31-5.66l0.1 6.85l0.21-3.13l0.42-6.76l0.1 8.22l0.21-4.85l0.52 6.38l0.1-8.74l0.21 5.83l0.21-5.57l0.41 0.72l0.21 3.7l0.31 0.69l0.21-6.57l0.42 8.64l0.21-10.53l0.1 3.16l0.31 9.32l0.31-3.37l0.21-5.07l0.21 2.29l0.21 4.68l0.31-4.98l0.1 3.54l0.42 2.33l0.42-5.4l0.2-1.19l0.21 5.38l0.42 0.85l0.1-8.24l0.31 7.79l0.11-9.14l0.31 6.95l0.1 1.71l0.42 1.65l0.42-11.69l0.1 10.61l0.1-3.25l0.52-5.21l0.32 6.28l0.2 3.82l0.21-7.97l0.21-0.09l0.1 5.39l0.42-0.85l0.1-6l0.63 0.17l0.21 5.5l0.1 0.31l0.31-3.4l0.31 6.7l0.11-4.85l0.41-3.64l0.21 8.89l0.31 0.7l0.21-7.95l0.42 4.37l0.21-7.24l0.31 4.85l0.1 3.98l0.31-1.09l0.21-4.02l0.21 4.25l0.31-6.88l0.52-2.93l0.11 11.14l0.2-0.7l0.11-5.03l0.62 1.36l0.11 2.67l0.1 1.41l0.21-4.3l0.31-0.03l0.1 6.91l0.42-7.73l0.1 4.79l0.42 0.79l0.1-2.27l0.73 0.83l0.11-5.65l0.1 6.19l0.31-5.81l0.21 5.17l0.31-4.36l0.42 0.45l0.21 4.77l0.31-4.23l0.1 5.25l0.42-5.55l0.1 3.86l0.31-0.08l0.11-4.77l0.31 6.12l0.42-4.29l0.1 2.9l0.1-2.91l0.42 6.35l0.1-6.79l0.52-0.51l0.21 7.7l0.31-8.75l0.21 5.01l0.31 2.39l0.21-9.57l0.42 1.74l0.21 7.39l0.31-11.27l0.1 10.92l0.42-10.98l0.21 12.95l0.2-2.96l0.32-4.5l0.1-3.24l0.1 9.74l0.42-0.55l0.42-10.51l0.1 10.98l0.31-8.46l0.31 8.65l0.32-7.71l0.1 1.4l0.42 4.88l0.41 1.34l0.11-2.58l0.2-1.07l0.21 5.86l0.21-3.49l0.21-11.25l0.31 14.01l0.1-5.65l0.73-0.19l0.11 2.69l0.1 2.01l0.31-9.59l0.42-2.64l0.1 11.86l0.42-3.7l0.1 3.72l0.21-11.16l0.1 10.6l0.42-5.24l0.1 6.75l0.42-0.4l0.1-11.96l0.73 10.38l0.11-7.3l0.1 1.57l0.1 6.79l0.73-0.32l0.11-6.76l0.1 2.32l0.31 6.75l0.31-1l0.11-5.53l0.41 5.13l0.32-7.48l0.1 1.62l0.31 3.48l0.21 2.29l0.21-6.36l0.62 7.1l0.11-6.71l0.2 8.54l0.21-10.52l0.31 1.17l0.32 5.06l0.2 2.02l0.32-11.45l0.1 11.6l0.42-6.38l0.2-0.75l0.32 8.29l0.1-0.82l0.42-6.38l0.2 5.42l0.32-5.18l0.2 6.18l0.21-6.38l0.31 5.8l0.11-6.11l0.31-0.28l0.1 6.02l0.42 0.61l0.21-8.3l0.31 2.27l0.21 3.91l0.31 3.4l0.42-3.32l0.31-3.05l0.21 5.39l0.1 0.41l0.31-3.45l0.21 1.41l0.21-5.1l0.41 4.28l0.21-4.77l0.42-1.14l0.21 9.02l0.1-10.55l0.31 11.12l0.21 0.52l0.31-7.84l0.52 5.97l0.11-3.52l0.2-3.91l0.32 7.97l0.1 1.58l0.21-3.08l0.62 2.07l0.11-9.19l0.2 7.95l0.11-4.06l0.62-1.82l0.11 4.03l0.1 0.78l0.1-6.21l0.73 0.58l0.11 7.78l0.31-0.29l0.1-3.11l0.52 4.68l0.11-13.18l0.1 5.62l0.42 8.81l0.1-9.46l0.42 6.09l0.1-3.76l0.1 3.95l0.63 1.74l0.1-9.25l0.21 9.11l0.1-7.97l0.52 1.91l0.32 6.2l0.1-0.79l0.21-6.11l0.31-4.98l0.31 12.06l0.21-8.26l0.31 9.92l0.21-9.19l0.21 4.95l0.41 1.57l0.32-10.19l0.31 3.8l0.21 7.25l0.31-0.74l0.21-8.03l0.1 3.74l0.31 6.34l0.21-1.44l0.21-6.46l0.41 8.68l0.11-9.15l0.41 7.91l0.21-7.06l0.42-0.77l0.21 5.32l0.2-6.87l0.11 9.97l0.41-7.55l0.11 3.11l0.31-1.72l0.1 8.03l0.63-11.5l0.21 7.62l0.31 0.14l0.1-4.4l0.21-1.19l0.1 5.14l0.42 1.42l0.31-7.95l0.42 3.57l0.1 4.54l0.31-5.16l0.11 4.99l0.52 1.99l0.21-10.55l0.2 2.17l0.21 5.66l0.31-12.02l0.11 14.72l0.52-0.77l0.21-5.13l0.41 3.31l0.11-6.73l0.2 9.31l0.21-7.02l0.21 5.95l0.1-8.1l0.52 1.88l0.11 4.13l0.31-8.22l0.31 8.87l0.21-6.64l0.42 5.18l0.1 1.12l0.21-6.81l0.31 2.61l0.1 4.95l0.42-10.94l0.31 10.26l0.21 0.02l0.31-4.59l0.42-0.36l0.21 7.33l0.31-1.45l0.21-7.23l0.2-2.01l0.32 9.74l0.1-5.53l0.1 7.44l0.63-0.85l0.21-9.14l0.1 2.7l0.21 4.79l0.52 1.49l0.1-6.12l0.52 1.99l0.11 5.11l0.41-7.33l0.11 5.97l0.41-11.35l0.11 10.47l0.41-2.67l0.11-5.43l0.1 5.4l0.42 4.62l0.1-10.46l0.21 8.93l0.31-8.04l0.42 6.7l0.1-6.98l0.1 7.83l0.42-0.96l0.42-5.13l0.1 6.05l0.31-4.03l0.31 6.08l0.32-7.23l0.31-5.92l0.21 7.36l0.2 5.23l0.11-7.01l0.31-0.8l0.42 8.49l0.1-12.67l0.21 9.55l0.52-7.81l0.21 8.9l0.31-9.03l0.21 9.18l0.2-7.29l0.21 6.27l0.42-0.79l0.21-4.99l0.1 3.27l0.31 3.53l0.31-5.32l0.32 4.61l0.1-3.83l0.42 7.57l0.1-12.32l0.1 9.13l0.52-0.3l0.32-2.97l0.1 4.72l0.1-3.98l0.52-7.73l0.21 8.57l0.31 4.75l0.11-4.62l0.31-2.34l0.42 4.7l0.1-4.12l0.42 3.71l0.31-7.42l0.21 8.82l0.2 1.63l0.32-6.58l0.2-0.72l0.32 2.87l0.1-4.6l0.42 7.72l0.1-0.66l0.42-10.83l0.2 11.35l0.11-3.96l0.41-3.14l0.32 8.07l0.41-5.87l0.11 5.35l0.2-2.46l0.21-5.29l0.31 0.94l0.21 7.56l0.21-0.89l0.31-10.42l0.21 10.67l0.1-9.29l0.52 5.33l0.11 1.71l0.31 0.72l0.1-6.2l0.52-1.12l0.21 9.23l0.52 0.06l0.11-17.36l0.2 15.91l0.11-5.36l0.52-0.54l0.1 2.55l0.52 2.25l0.11-4.66l0.41-3.01l0.11 9.82l0.2 0.25l0.21-6.25l0.21 6.95l0.42-10.82l0.41 0.42l0.11 10.5l0.31-8.36l0.1 5.4l0.31-5.94l0.21 6.87l0.21-7.45l0.42 8l0.2-7.1l0.32 7.89l0.2-1.46l0.21-8.64l0.21 10.21l0.1-7.9l0.42 2.99l0.1 6.41l0.42-1.11l0.21-7.6l0.41 0.41l0.21 7l0.21-1.26l0.21-5.89l0.52 0.54l0.21 4.11l0.1 3.51l0.42-7.86l0.2 8.36l0.32-7.14l0.1-3.64l0.1 9.17l0.52-10.92l0.21 7.02l0.21 3l0.42-9.43l0.41 1.46l0.11 7.07l0.31 0.41l0.21-7.56l0.31 8.67l0.1-5.92l0.52 5.94l0.11-5.17l0.31-1.73l0.21 9.27l0.2-6.02l0.11 3.04l0.62 0.2l0.11-6.24l0.2 6.73l0.11-7.78l0.62 7.72l0.11-10.48l0.2 3.63l0.11 7.26l0.31-6.05l0.21 7.56l0.31-2.33l0.31-7.05l0.21 9.07l0.31-7.72l0.42 3.76l0.1 5.76l0.21-10.15l0.1 7.45l0.52-5.42l0.21 3.62l0.21-6.22l0.21 8.58l0.62-4.4l0.11 5.59l0.2-7.64l0.11 2.52l0.31-1.8l0.42 4.37l0.2 0.22l0.32-7.1l0.1 7.47l0.31-7.13l0.21 7.03l0.21-4.47l0.52-2.67l0.1 5.25l0.31-3.98l0.32 7.05l0.31-7.52l0.21 5.55l0.1-4.82l0.31 5.15l0.42 1.38l0.1-7.23l0.52-0.1l0.11 6.44l0.1-0.22l0.1-4.23l0.63-0.1l0.1 5.03l0.42-4.23l0.21 7.18l0.31-3.34l0.1-4.48l0.42-2.55l0.1 7.47l0.31-7.5l0.21 7.92l0.31-0.32l0.11-7.1l0.31 6.39l0.42-8.24l0.1 2.11l0.31 6.09l0.21-3.59l0.21 5.74l0.31-6.41l0.21 4.92l0.41-0.09l0.11-8.87l0.41 2.55l0.32 8.92l0.1-3.9l0.1-2.23l0.52 2.5l0.32-7.83l0.1 0.97l0.21 4.88l0.41-4.65l0.32 10.69l0.1-1.25l0.1-6.04l0.73-2.28l0.11 3.08l0.1-5.54l0.1 10.5l0.63-2.21l0.1-9.08l0.31 9.17l0.21-12.96l0.31 11.63l0.21 2.74l0.42-5.36l0.21 6.41l0.31-6.46l0.21 4.72l0.41-0.46l0.11-2.52l0.1-3.09l0.31 5.4l0.21 3.28l0.42-9.99l0.1 10.92l0.31-10.29l0.31 7.12l0.32-10.65l0.2 3.28l0.11 9.39l0.31 1.98l0.31-13.94l0.21 13.79l0.31-9.4l0.21 7.11l0.31-9.43l0.21 8.2l0.31-6.42l0.21 11.09l0.1-7.57l0.42 2.58l0.1-6.85l0.63 10.74l0.21-10.79l0.1 0.48l0.21 3.99l0.31-5.67l0.31 10.16l0.52-8.37l0.11 8.52l0.1-9.32l0.1 10.35l0.42-7.72l0.42 8.18l0.31-2.21l0.1-4.76l0.21-3l0.1 8.66l0.63-1.39l0.1-3.79l0.21-4.9l0.31 11.72l0.21-8.45l0.42 4.43l0.1 0.56l0.31-8.34l0.21 12.11l0.42-11.29l0.31 2.75l0.1 7.42l0.52-3.34l0.11-4.46l0.1-1.45l0.31 8.14l0.31-3.98l0.21-4.61l0.52 5.88l0.11-8.62l0.1 5.16l0.31 5.59l0.31 1.54l0.11-6.69l0.52 3.66l0.1-5.44l0.31-2.06l0.32 10.4l0.31 0.69l0.21-6.88l0.1 6.52l0.21-5.92l0.41 6.71l0.32-6.3l0.41-3.37l0.11 8.94l0.31-2.85l0.21-5.49l0.2 6.89l0.32-7.18l0.1-5.96l0.42 9.95l0.2 3.84l0.21-5.72l0.31-7.31l0.32 14.35l0.1-6.06l0.1 3.67l0.73 2.86l0.11-8.57l0.2 6.31l0.11-8.35l0.31 9.12l0.21-2.68l0.31-5.53l0.1 9.57l0.52-3.19l0.11-5.28l0.31-0.34l0.1 5.89l0.42-9.94l0.42 12.11l0.2-0.54l0.11-6.18l0.41 6.47l0.21-7.15l0.31 8.29l0.21-7.65l0.31-7.59l0.11 13.3l0.41-5.51l0.11 4.5l0.62-7.6l0.11 9.8l0.2 0.62l0.21-5.41l0.31-2.83l0.21 5.26l0.52-5.85l0.11 7.34l0.1-1.22l0.21-5.38l0.62-2.62l0.11 8.06l0.31-0.59l0.1-9.91l0.21 10.99l0.21-5.45l0.62 1.53l0.11 5l0.2-12.84l0.32 10.95l0.31-3.96l0.1 8.07l0.21-8.72l0.21 7.05l0.31-6.73l0.31 6.14l0.42-10.08l0.21 10.3l0.31 2.69l0.1-6.19l0.42-0.1l0.21 4.04l0.2-5.87l0.32 5.22l0.31-0.12l0.1-9.65l0.31 7.58l0.32 2.28l0.2-8.22l0.32 7.55l0.1 3.33l0.31-15.3l0.31 5.25l0.11 8.31l0.62-7.37l0.11 8.73l0.2-10.27l0.21 9.29l0.31-8.37l0.21 6.12l0.31-1.1l0.21-5.82l0.31-0.82l0.32 9.71l0.2-9.77l0.11 7.77l0.41 0.4l0.32-5.07l0.31 1.25l0.21 6.15l0.41-3.35l0.11-6.68l0.2 9.71l0.32-8.56l0.41 8.92l0.11-8.9l0.1 3.68l0.42 4.89l0.1-0.88l0.21-8.04l0.62-0.4l0.11 8.42l0.2-1.04l0.32-7.34l0.31 3.86l0.1 4l0.42-6.89l0.1 9.19l0.21-0.9l0.42-6.14l0.2 7.18l0.32-6.79l0.1 4.63l0.1-9.35l0.52 1.57l0.21 7.41l0.31 3.03l0.32-6.08l0.1-5.14l0.21 8.12l0.52 3.04l0.1-6.5l0.52 3.77l0.11-8.16l0.1-3.11l0.1 9.44l0.42-5.35l0.21 7.69l0.41 0.67l0.32-10.37l0.2 9.43l0.11-4.57l0.41-1.21l0.32 6.66l0.41 0.83l0.11-6.74l0.1-0.29l0.1 4.3l0.63-3.4l0.21 4.01l0.41 1.49l0.11-8.65l0.1 7.45l0.31-7.19l0.31 6.23l0.32-2.79l0.2 4.62l0.21-9.04l0.52 5.45l0.11-10.64l0.2 14.85l0.21-5.45l0.31-3.67l0.21 5.36l0.21 1.66l0.31-8.73l0.31 3.8l0.21 5.99l0.21-4.96l0.21 6.99l0.31-2.29l0.31-6.59l0.21 5.94l0.21-5.88l0.31 1.27l0.1 6.34l0.42-9.72l0.42 7.44l0.2-3.55l0.11 7.08l0.41-0.56l0.21-9.76l0.21 9.92l0.21-6.49l0.31-1.08l0.42 7.4l0.2-1.61l0.11-8.03l0.41 2.65l0.21 5.85l0.31-0.22l0.11-1.62l0.31 2.61l0.42-5.53l0.1-1.68l0.21 8.21l0.41-9.06l0.21 4.33l0.42-4.11l0.21 7.26l0.1-2.03l0.1-8.33l0.63 9.31l0.1-4.6l0.21-2.47l0.21 7.46l0.52-3.97l0.21 8.26l0.41-7.71l0.11 3.76l0.41-5.8l0.11 7.69l0.1-3.08l0.42-7.66l0.31 9.47l0.1-4.61l0.52-6.2l0.11 10.6l0.1-0.6l0.21-3.25l0.52 1.74l0.1-7.95l0.31 4.66l0.32 5.6l0.31-2.07l0.1-6.87l0.31 9.09l0.21-4.67l0.31 1.67l0.32 3.61l0.2-16.55l0.11 17.28l0.52-6.96l0.1 3.46l0.21-7.64l0.21 11.4l0.62-0.34l0.11-4.88l0.41-3.5l0.11 6.98l0.1 1.13l0.31-9.37l0.42 9.85l0.21-5.53l0.1 7.63l0.1-6.47l0.63-1.47l0.1 4.5l0.21 0.66l0.31-6.5l0.21 6.15l0.21-2.7l0.62-6.16l0.11 11.45l0.41-4.21l0.11-4.88l0.1 5.41l0.1-6.93l0.63-1.18l0.21 8.74l0.1-5.21l0.1 6.06l0.52 0.52l0.11-5.58l0.52 6.27l0.21-9.43l0.31 9.63l0.1-7.38l0.42 2.76l0.21-6.35l0.1 0.72l0.31 7.64l0.31 3.09l0.11-8.48l0.31 4.71l0.42-4.81l0.31 9.5l0.1-13.03l0.21-5.17l0.42 14.94l0.31-9.05l0.1 10.04l0.31-4.38l0.32 3.5l0.2-1.29l0.32-5.42l0.2 7.15l0.32-6.49l0.2-1.29l0.21 8.17l0.31 1.33l0.21-6.84l0.52 6.68l0.11-7.84l0.1 7.55l0.1-5.41l0.63 3.69l0.1-15.54l0.42 17.52l0.21-8.7l0.2 7.69l0.32-5.04l0.1-1.97l0.21 7.22l0.31-8.25l0.1 6.56l0.63-2.27l0.21 3.63l0.1 2.95l0.21-9.84l0.31 7.55l0.21-15.33l0.52 11.29l0.1 3.82l0.21-10l0.31 9.4l0.52 1.83l0.11-7.96l0.1 4.86l0.42-4.03l0.1-7.04l0.31 11.82l0.21-4.26l0.21-6.36l0.31 2.06l0.1 9.21l0.42-0.14l0.1-11.98l0.42 5.95l0.1 7.73l0.52-5.55l0.21 4.45l0.21-9.1l0.31 7.16l0.21 2.7l0.31-6.69l0.42-2.57l0.21 6.71l0.1-2.97l0.1 5.41l0.73-1.48l0.11-8.41l0.31 0l0.1 6.6l0.52 1.16l0.11-9.68l0.2 4.78l0.11 3.12l0.31-5.69l0.21 9.18l0.31 0.3l0.1-10.27l0.73 10.76l0.11-12.27l0.1 3.66l0.21 8.09l0.31-5.93l0.31 7.3l0.31-3.61l0.32-5.06l0.1 6.87l0.21-3.54l0.52-5.65l0.1 7.56l0.21-7.96l0.42 8.29l0.41-8.53l0.11 8.78l0.1-9.17l0.31 12.92l0.31-10.76l0.21 7.69l0.31 0.85l0.21-11.66l0.31 11.67l0.11-3.9l0.31-0.61l0.1 7.32l0.42-8.64l0.1 5.74l0.42-3.95l0.31 3.78l0.31-6.24l0.11 5.21l0.31-6.63l0.1 8.68l0.42-0.89l0.42-6.33l0.2-2.2l0.21 9.9l0.52-0.94l0.11-7.73l0.1 6.18l0.42-5.11l0.41-2.74l0.11 8.59l0.31 1l0.1-7.9l0.31 5.58l0.32-4.93l0.1 5.33l0.31-9.8l0.21 13.15l0.1-9.27l0.42-6.13l0.1 14.64l0.42-1.87l0.21-8.6l0.41 0.57l0.21 8.15l0.21 1.85l0.42-6.28l0.1 5.55l0.42-5.75l0.2 2.06l0.32 4.38l0.1-3.86l0.42-4.08l0.1 9.15l0.1-10.38l0.42 7.69l0.31-2.31l0.42 0.28l0.21-5.51l0.1 7.48l0.21-5.58l0.41-3.57l0.21 10.53l0.21 2.78l0.21-11.13l0.62 2.13l0.11 3.43l0.2-5.1l0.32 8.14l0.2-2.4l0.21-2.79l0.52-3.64l0.11 8.51l0.31-7.95l0.1 8.7l0.31-14.31l0.11 11.9l0.52-4.62l0.21 3.31l0.31-5.27l0.1 5.49l0.21-5.8l0.21 5.49l0.31-3.61l0.21 9.64l0.41-4.28l0.21-11.11l0.42 4.51l0.1 6.78l0.31-0.69l0.21-7.47l0.31 7.47l0.32-4.58l0.2-0.98l0.32 7.84l0.2-0.52l0.32-10.29l0.2 9.71l0.32-11.76l0.31 4.78l0.21 7.94l0.41-1.14l0.11-3.83l0.41 5.71l0.11-5.65l0.31 3.11l0.1-6.31l0.31-2.53l0.32 8.38l0.31-8.52l0.1 10.15l0.31-6.05l0.21 4.03l0.52-5.5l0.11 6.57l0.1 1.36l0.1-7.51l0.42 1.17l0.42 7.79l0.1-0.59l0.21-3.33l0.62 1.86l0.11-3.75l0.1-4.67l0.21 10.65l0.31-3.45l0.1-6.52l0.73 9.6l0.11-8.55l0.41 7.77l0.11-8.64l0.41-3.21l0.11 7.63l0.2 3.23l0.21-4.31l0.21 7.44l0.21-12.6l0.52 5.2l0.1 2.23l0.42-2.98l0.1 2.1l0.31-1.3l0.11 4.46l0.31-9.76l0.1 9.38l0.52-1.12l0.32-6.19l0.1 0.83l0.21 9.85l0.41-9.45l0.21 5.59l0.31-8.75l0.32 8.68l0.1-2.87l0.1 3.8l0.42-1.04l0.31-7.89l0.31-2.86l0.32 11.88l0.1 2.5l0.1-7.65l0.63 7.49l0.21-6.01l0.41 6.1l0.11-7.11l0.1-2.89l0.42 7.12l0.1-0.22l0.42-6.2l0.1-0.84l0.31 10.92l0.42-9.82l0.1 6.6l0.31-2.05l0.11-14.07l0.41 3.34l0.32 14.01l0.2 0.12l0.32-8.05l0.1-0.83l0.31 8.8l0.52-2.08l0.11-1.64l0.2-2.3l0.32-4.34l0.31 0.84l0.1 11.44l0.21-8.24l0.31 4.46l0.21-7.19l0.42 7.17l0.31-4.35l0.21 7.5l0.2-8.72l0.21 5.36l0.31 0.58l0.32-9.22l0.31 4.18l0.1 4.26l0.52 2.02l0.11-5.43l0.31-2.88l0.1 4l0.31-2.27l0.32 8.29l0.31-0.17l0.21-4.82l0.31-2l0.1 3.81l0.31-2.24l0.11-4.5l0.31 4.86l0.31 6.8l0.31-6.72l0.32-6.45l0.31-3.11l0.1 13.5l0.21-8.12l0.42 7.87l0.1-5.85l0.42 4.3l0.1-8.61l0.31 7.72l0.31-1.8l0.21 3.51l0.31-0.51l0.32-6.15l0.1 8.26l0.21-5.36l0.31 1.46l0.31-6l0.21 0.29l0.31 6.97l0.21-7.13l0.1 8.81l0.42-2.26l0.21-2.27l0.31 2.94l0.31-8.07l0.42 8.89l0.1-6.32l0.42 8.01l0.21-8.74l0.1 4.01l0.42 5.29l0.31-7.85l0.21 6.28l0.2 0.07l0.21-9.09l0.31 9.54l0.32-6.17l0.2 5.86l0.21-6.77l0.31 2.6l0.11 3.43l0.62 0.04l0.11-5.1l0.2 5.28l0.11-5.06l0.52-4.08l0.21 10.17l0.31-0.62l0.21-8.59l0.1 5.35l0.42-5.17l0.41 6.72l0.11-4.59l0.2 1.21l0.32 6.51l0.1-7.43l0.42 6.52l0.2-0.48l0.32-10.75l0.41 12.84l0.11-8.83l0.2 7.56l0.21-8.46l0.21 7.31l0.21-6.02l0.31 1.36l0.31 4.64l0.21 2.35l0.21-9.81l0.31-0.56l0.21 5.76l0.52-6.77l0.21 8.91l0.1-0.52l0.42-6.98l0.31 1.03l0.21 9.74l0.1-3.6l0.21-8.24l0.31 4.42l0.21 5.63l0.31-16.91l0.31 15.77l0.31-10.23l0.11 10.43l0.31-15.44l0.1 11.98l0.63 2.03l0.21-4.83l0.1 4.9l0.21-8.89l0.31 3.63l0.21 8.93l0.31-2.88l0.1-3.84l0.52-1l0.32 6.85l0.31-10.5l0.1 9.86l0.21-1.84l0.42-8.36l0.2 8.42l0.21-4.86l0.31 0.74l0.21 4.63l0.21-9.02l0.42 8.44l0.1-5.62l0.31 4.56l0.21 3.48l0.31-7.85l0.31 5.99l0.32-7.68l0.2 12.89l0.11-13.58l0.52 6.88l0.1-8.16l0.31 5.4l0.32 8.09l0.2-8.9l0.32 7.59l0.31-0.76l0.1-7.6l0.42 6.36l0.21-6.61l0.2 2.29l0.32 4.59l0.2-5.14l0.32 4.5l0.2 1.13l0.32-11.34l0.41 5.3l0.11 6.06l0.1-8.93l0.42 5.38l0.31-1.87l0.1 4.55l0.21 0.17l0.21-9.09l0.31 10.32l0.31-4.74l0.21 3.08l0.21-8.53l0.31 12.23l0.42-12.76l0.2 4.54l0.32 5.92l0.1-7.76l0.1 7.39l0.63-8.65l0.1 12.41l0.42-9.66l0.1 8.76l0.21-2.59l0.42-13.96l0.41 6.36l0.11 5.89l0.1-3.58l0.42 6.5l0.1-10.87l0.21 7.97l0.41-3.83l0.21 7.18l0.42-4.64l0.21 6.44l0.1-10.24l0.1 6.3l0.52-2.04l0.32-2.79l0.2-2.11l0.21 8.08l0.31-0.29l0.32-14.85l0.31 6.54l0.21 9.28l0.1-4.47l0.42 5.36l0.1-8.16l0.1 3.57l0.42-3.56l0.21 5l0.52-6.81l0.1 7.44l0.21 0l0.21-12.75l0.41 7.36l0.11 5.03l0.41-0.93l0.32-17.76l0.2 20.27l0.11-11.64l0.41 11.55l0.21-10.86l0.21 3.21l0.21 5.02l0.52 4.09l0.21-6.54l0.1 0.99l0.31-4.2l0.52 4.12l0.11-3.15l0.2 5.47l0.11-5.57l0.31-0.17l0.42 5.79l0.31-2.8l0.21 3.27l0.31-3.24l0.1-4.29l0.21-0.66l0.31 10.39l0.31-2.08l0.32-11.37l0.2 11.31l0.11-7.75l0.52 8.83l0.21-6.6l0.41 5.49l0.11-5.35l0.41-2.45l0.11 8.58l0.1-5.32l0.31 6.33l0.42-2.51l0.21-10.08l0.1 10.28l0.42-3.12l0.1 0.08l0.21 6.49l0.52-8.01l0.21 6.46l0.1-3.29l0.31-7.47l0.52 5.69l0.11 6.27l0.2-7.86l0.32 5.74l0.2 0.99l0.21-6.43l0.31 8.13l0.11-8.88l0.41-4.04l0.11 9.24l0.31 0.29l0.31-6.2l0.21 0.2l0.21 8.27l0.41-3.84l0.11-5.66l0.31 5.3l0.21 3.94l0.41-0.62l0.21-9.12l0.42 5.85l0.21-3.97l0.1 6.57l0.21-5.31l0.41 0.99l0.21 4.81l0.42 1.06l0.21-8.79l0.2 7.88l0.21-7.43l0.31 0.53l0.32 3.9l0.31 6.03l0.1-14.1l0.21 11.47l0.1-4.31l0.73 5.65l0.11-11.62l0.2 6.38l0.21-6.68l0.31-1.03l0.11 12.43l0.52-3.18l0.1-5.32l0.42 7.83l0.1-7.78l0.21 5.86l0.42-5.77l0.1-0.62l0.1 8.27l0.52 2.58l0.32-11.82l0.2 1.34l0.21 7.07l0.42-0.87l0.21-6.09l0.41 4.19l0.11-7.04l0.31 10.54l0.21-6.47l0.2 7.34l0.11-9.76l0.31 3.09l0.1 5.8l0.42-0.27l0.21-13.39l0.41 13.66l0.21-9.27l0.31 7.61l0.11-4.05l0.52 4.4l0.1-6.67l0.31 7.52l0.21-7.31l0.42 6.63l0.21-5.57l0.2 8.11l0.21-5.41l0.21 3.38l0.42-8.55l0.31 6.79l0.1-5.56l0.31 8.66l0.32-8.95l0.31-1.2l0.1 8.05l0.52-7.09l0.11 7.33l0.1-7.66l0.42 9.26l0.1 2.11l0.42-7.32l0.1 3.77l0.31-9.67l0.52 6.03l0.11 4.95l0.2-9.5l0.21 7.06l0.21-6.67l0.31 9.85l0.31-0.44l0.11-12.26l0.62 11.3l0.11-5.05l0.31 7.42l0.21-9.14l0.31 2.66l0.21 3.99l0.41 4.97l0.11-12.83l0.31 9.92l0.1-8.56l0.52 6.31l0.11-4.92l0.1-7.64l0.21 14.65l0.31-6.75l0.42 3.83l0.31 3.41l0.1-10.25l0.21 10.25l0.21-13.61l0.31 5.95l0.31 5.24l0.52-3.97l0.11 4.42l0.41-12.16l0.11 7.69l0.2 7.52l0.21-11.2l0.42 5.96l0.21-3.79l0.41 6.69l0.11-5.22l0.2 3.23l0.32-4.15l0.41-8.79l0.11 14.47l0.2 0.35l0.21-7.82l0.42 2.63l0.1 4.87l0.31-7.79l0.32 7.56l0.2 2.81l0.21-13.83l0.42 6.41l0.21 4.85l0.1 3.75l0.42-7.55l0.1 2.15l0.21-5.07l0.31-1.03l0.42 7.31l0.2 1.82l0.11-4.74l0.62-2.17l0.11 4.32l0.1-5.77l0.1 9.02l0.42-10.54l0.21 11.48l0.52-9.4l0.1 7.17l0.21 2.34l0.1-6.42l0.52-3.02l0.32 9.04l0.1-7.75l0.42 6.14l0.2-3.09l0.11-7.07l0.31 12.26l0.31-7.43l0.52-1.29l0.11 7.91l0.41-19.1l0.11 17.93l0.31-10.15l0.21 7.81l0.31 0.89l0.1-9.47l0.42 5.07l0.1 3.33l0.52-0.66l0.11-4.71l0.2 1.28l0.21 8.3l0.21-13.31l0.21 8.48l0.62 1.36l0.11-5l0.1-2.94l0.21 10.29l0.41 0.63l0.11-8.67l0.31 5.51l0.42-3.01l0.31 5.51l0.21-3.54l0.1-2.33l0.42 3.82l0.41-1.59l0.11-7.13l0.2-1.5l0.21 13.17l0.21-8.58l0.42 7.97l0.41-2.63l0.11-3.31l0.2 3.27l0.11-3.98l0.31 4.57l0.42-14.13l0.2 7.46l0.11 7.28l0.62 0.18l0.11-5.72l0.1 5.73l0.31-4.83l0.42-2.8l0.21 6.11l0.1-2.24l0.1 3.52l0.42 0.48l0.1-7.45l0.42 2.78l0.1 6.74l0.73-0.94l0.11-8.57l0.2 7.98l0.32-3.73l0.1-2.62l0.42 6.94l0.1-5.41l0.42 1.42l0.31-4.24l0.21 7.42l0.2-8.62l0.11 9.88l0.62-0.04l0.11-11.86l0.2 10.26l0.11-6.54l0.52-2.03l0.1 9.95l0.52-9.74l0.11 6.9l0.2-10.72l0.21 12.11l0.21-3.96l0.1 3.95l0.42-7.28l0.21 10.87l0.31-8.66l0.1 3.94l0.42 3.35l0.31-4.37l0.52-0.03l0.11-13l0.1 18.41l0.31-12.77l0.52 1.27l0.11 9.9l0.41-0.75l0.11-4.71l0.31 4.75l0.1-6.45l0.52 6.11l0.11-8.3l0.1-2.42l0.21 9.19l0.31 1.41l0.42-9.54l0.1 1.49l0.42 7.59l0.2-2.24l0.11 4.34l0.31-11.6l0.42 7.91l0.1-4.78l0.1 5.43l0.42-1.35l0.31-7.8l0.52 6.7l0.11-7.42l0.1 13.53l0.31-10.45l0.31 7.22l0.32-6.51l0.41-3.99l0.11 10.19l0.1 1.51l0.42-14.81l0.1 11.21l0.21 2.75l0.41 3.27l0.11-8.65l0.52-0.38l0.21 5.85l0.2-8.34l0.11 7.1l0.31-6.85l0.1 9.54l0.42 0.43l0.21-10.88l0.31 2.54l0.31 9.45l0.21-3.91l0.1-4.16l0.42 0.22l0.1 4.7l0.52-8.94l0.11 9.39l0.52-6.09l0.1 5.87l0.21-4.85l0.42 8.66l0.2-3.27l0.32-3.45l0.2 0.34l0.32 5.11l0.2 0.65l0.32-10.89l0.1 9.34l0.42-7.94l0.1 1.2l0.31 6.67l0.21-7l0.21 5.93l0.52-19.09l0.21 21.04l0.2-7.24l0.21 6.43l0.21 1.29l0.21-7.46l0.41-5.77l0.11 12.42l0.52 0.62l0.1-11.87l0.21 9.17l0.1-9.75l0.42 11.72l0.21-9.83l0.31 7.62l0.21-5.53l0.41 4.56l0.11 3.63l0.41-10.38l0.11 10.53l0.62-6.73l0.11 3.63l0.31 3.63l0.21-6.15l0.2 4.89l0.21-12.1l0.21 7.04l0.42 8.1l0.1-1.26l0.21-16.24l0.31 4.49l0.1 6.24l0.42 3.29l0.21-5.8l0.62-2.56l0.11 9.15l0.2-2.95l0.32-13.5l0.31 15.62l0.21-7.09l0.31-1.48l0.1 5.2l0.31 0.59l0.21-5.37l0.42 6.6l0.21-10.09l0.41 1.78l0.11 10.57l0.1-8.35l0.42 8.23l0.1-7.91l0.21 9.46l0.41-2.02l0.21-8.63l0.31 2.21l0.11 8.02l0.31-9.44l0.42 7.66l0.2 1.36l0.32-6.85l0.1-1.22l0.1 3.91l0.52 2.29l0.21-4.94l0.21 4.41l0.42-4.83l0.31-4.48l0.1 7.33l0.42-0.13l0.21-9.54l0.2 7.76l0.21 4.87l0.31-8.2l0.21 7.03l0.21-3.75l0.1 7.59l0.73-4.78l0.11-3.61l0.31-3.95l0.1 10.21l0.21-7.78l0.1 8.87l0.52 0.66l0.11-9.43l0.52-0.26l0.21 9.54l0.31-2l0.21-4.3l0.41-5.53l0.11 8.65l0.2 4.41l0.32-7.87l0.1 0l0.1 7.06l0.42-7.98l0.1 6.24l0.42-1.91l0.42-8.87l0.41 6.07l0.11 4.89l0.1 1.22l0.21-10.81l0.31 6.97l0.42-3.67l0.2 5.25l0.32-12.3l0.2 6.32l0.21 7.14l0.21 0.78l0.31-11.01l0.21 6l0.31 3.55l0.42-0.19l0.21-8.08l0.31 3.03l0.1 4.2l0.42-6.67l0.21 5.67l0.2 1.66l0.32-3.3l0.31-3.58l0.1 8.22l0.21-1.54l0.1-10.96l0.52 12.63l0.11-7.33l0.52 8.34l0.21-11.78l0.31 1.66l0.1 5.46l0.21-3.05l0.31 5.43l0.21-1.97l0.31-3.42l0.21-9.92l0.31 13.9l0.21-7.69l0.31 8.06l0.31-0.1l0.21-8.26l0.31 9.89l0.11-8.14l0.41 7.84l0.32-7.14l0.1 2.03l0.21 9.2l0.62-11.77l0.11 6.07l0.2 3.2l0.21-12.51l0.31 3.82l0.11 5.57l0.52-2.75l0.21 7.23l0.1-9.53l0.42 8.28l0.31 0.72l0.21-10.12l0.1 1.77l0.21 7.1l0.31-7.57l0.21 2.49l0.31-1.69l0.31 5.46l0.31 2.6l0.11-9.88l0.62 6.71l0.11-5.03l0.2 4.74l0.11-4.37l0.41-2.98l0.11 9.62l0.31 0.15l0.21-7.05l0.31 2.05l0.42-3.57l0.31 8.19l0.21-2.43l0.2 2.03l0.21-10.87l0.42 2.74l0.21 7.91l0.1-11.94l0.21 11.61l0.62 2.79l0.11-10.4l0.1 10.72l0.21-9.7l0.52 7.99l0.21-10.23l0.1 1.54l0.1 7.88l0.52-0.59l0.21-7.25l0.52 0.39l0.11 9.46l0.1-4.82l0.1-9.23l0.63 3.07l0.21 7.66l0.1-6.3l0.31 8.6l0.21 1.28l0.1-5.1l0.63 3.8l0.21-8.67l0.2 6.22l0.21-9.17l0.31 0.68l0.11 6.45l0.41 1.84l0.32-8.65l0.31 11.75l0.1-9.02l0.52-1.53l0.11 9.39l0.1-0.05l0.1-7.66l0.63 0.41l0.1 7.59l0.21-7.73l0.31 8.49l0.31-0.61l0.11-6.08l0.31 6.54l0.1-8.09l0.52 7.13l0.32-7.25l0.41 0.29l0.11 9.47l0.1-11.73l0.21 9.3l0.31 1.41l0.21-8.94l0.62 0.08l0.11 5.67l0.1-5.39l0.31 6.6l0.21-0.17l0.1-6.13l0.52-3.36l0.32 5.91l0.1-2.63l0.42 5.4l0.1-6.1l0.31 8.23l0.42-2.01l0.1-3.51l0.31 5.06l0.32-6.96l0.1 0.69l0.42 5.53l0.1-3.11l0.42 4.82l0.1 0.59l0.1-6.56l0.73-1.83l0.11 9.27l0.1-2.34l0.42-11.24l0.41 6.24l0.11 5.01l0.31 0.49l0.1-8.7l0.21 8.06l0.31-5.25l0.21-3.68l0.31 8.76l0.21-5.8l0.42 5.49l0.1-7.98l0.31 8.52l0.21-9.84l0.31 9.48l0.31-5.29l0.32 6.41l0.2-8.17l0.21 9.5l0.31-2.45l0.21-4.61l0.31 7.69l0.11-9.75l0.41 8.63l0.32-5.3l0.31 3.48l0.21-6.5l0.31 9.28l0.21-6.52l0.2-2.93l0.21 7.62l0.21 1.45l0.31-6.37l0.21 0.85l0.42 1.98l0.31-5.63l0.21 5.55l0.1-2.78l0.42 8.44l0.2-14.66l0.21 13.5l0.21-5.59l0.1 5.86l0.42-14.08l0.21 12.34l0.62-0.25l0.11-8.11l0.41 8.41l0.11-5.43l0.2-6.47l0.21 9.76l0.31-8.01l0.11 6.36l0.31 2.4l0.31-6.62l0.21-1.26l0.21 11.33l0.31-8.58l0.31 7.68l0.31-0.22l0.32-9.73l0.2-0.84l0.11 5.86l0.31 1.28l0.21-6.64l0.52-1.92l0.21 10l0.1-4.28l0.1 5.13l0.42-8.24l0.21 8.96l0.52-10.04l0.1 6.78l0.31-0.41l0.11-2.97l0.52-1.57l0.21 7.79l0.1-8.05l0.42 7.79l0.31-3.4l0.1 3.34l0.21-5.74l0.21 4.41l0.31-8.59l0.42 10.13l0.2-9.92l0.21 9.4l0.21-8.14l0.1 7.1l0.52-1.45l0.11-6.82l0.41-4.69l0.21 12.1l0.21 2.88l0.21-8.21l0.52 1.11l0.1 5.88l0.31-9.01l0.32 8.62l0.1-4.09l0.21 3.91l0.31-8.11l0.42 6.67l0.1 3.13l0.42-9.35l0.2 7.27l0.11-8.67l0.41 6.02l0.32 3.96l0.2-2.66l0.32-7.91l0.1 2.46l0.1 5.35l0.42-9.9l0.1 14.92l0.52-3.84l0.21-5.62l0.21 6.5l0.21-11.9l0.31 13.96l0.31-3.61l0.21-6.49l0.21 7.91l0.62-0.64l0.11-5.49l0.1 9.01l0.1-9.34l0.63 9.52l0.1-10.45l0.31-2.94l0.11 12.83l0.52-9.12l0.21 9.18l0.31-14.5l0.1 12.34l0.31-7.27l0.21 6.02l0.42-6.57l0.21 3.98l0.1-2.57l0.1 7.13l0.42 0.97l0.31-8.47l0.52-0.26l0.11 7.22l0.1-5.04l0.31 2.88l0.52-4.12l0.11 5.2l0.1-4.6l0.1 5.59l0.73-13.91l0.11 15.02l0.1-3.3l0.1 3.75l0.42-2.63l0.42-9.38l0.2 3.24l0.21 9.35l0.52-2.99l0.11-4.37l0.2-2.36l0.21 5.87l0.21 1.35l0.42-13.78l0.31 13.58l0.1-6.54l0.21 8.58l0.42-13.26l0.31 3.41l0.1 9.89l0.21-1.06l0.31-9.29l0.31 0.06l0.11 8.65l0.41 2.28l0.32-13.01l0.1 12.44l0.31-6.83l0.31 4.99l0.21-3.97l0.31 5.12l0.21-4.02l0.42 2.47l0.21-5.64l0.31-2.81l0.21 9.88l0.2-2.31l0.32-8.15l0.2-0.09l0.32 9.23l0.2-8.01l0.32 9.48l0.31 0.09l0.1-4.54l0.42-2.72l0.21 9.19l0.1-1.9l0.21-10.71l0.62 8.84l0.11-1.6l0.1-6.82l0.31 9.48l0.21-3.38l0.42 3.08l0.2-3.39l0.21 5.8l0.21-0.97l0.1-8.23l0.63 2.28l0.1 6.92l0.21-1.3l0.31-5.09l0.52-2.51l0.11 9.13l0.31-13.25l0.1 9.59l0.21-0.44l0.1-2.79l0.52-2.53l0.32 8.56l0.2-8.03l0.11 8.78l0.52-7.63l0.21 5.12l0.2-8.01l0.32 8.14l0.41-8.27l0.11 9.77l0.31-4.21l0.21-7.59l0.41 1.88l0.11 5.75l0.2 3.62l0.32-2.32l0.31-0.71l0.1-8.66l0.52 5.27l0.11 5.65l0.2 0.92l0.11-7.38l0.41 0.2l0.21 6.39l0.31 1.4l0.11-5.77l0.31-0.55l0.42 7.57l0.2-7.35l0.21 7.66l0.21-3.94l0.42-7.49l0.1 8.27l0.21-4.14l0.31 8.89l0.21-12.33l0.41 9.48l0.32-5.47l0.41 2.84l0.11-3.64l0.31 0.57l0.1 7.9l0.52-1.71l0.11-8.37l0.1 8.11l0.31-7.98l0.21 9.44l0.21-12.19l0.41-0.46l0.32 11.38l0.2-1.54l0.11-12.82l0.52 5.59l0.1 7.48l0.52-7.4l0.11 3.88l0.1 3.63l0.21-9.29l0.31 3l0.21 5.78l0.41-9.74l0.21 10.09l0.21-8.11l0.42 9.53l0.1-2.82l0.21-10.47l0.41 8.28l0.32-3.77l0.31 9.61l0.21-8.93l0.1-2.94l0.1 9.58l0.42 1.09l0.42-10.42l0.31 4.37l0.21 1.95l0.1 1.45l0.42-7.94l0.31 11.09l0.1-8.48l0.52 7.22l0.11-8.7l0.1 9.76l0.21-4.48l0.41-0.75l0.21 6.37l0.42-6.02l0.1 3.49l0.52 0.51l0.11-13.06l0.2 2.68l0.21 12.49l0.21-5.49l0.21-2.33l0.41 4.97l0.21-8.1l0.31 6.8l0.11-6.48l0.52 0.27l0.1 6.47l0.31 0.42l0.21-3.91l0.21 1.71l0.42-5.43l0.2 6.93l0.32-10.83l0.2 8.39l0.21 5.37l0.31-6.72l0.21 4.73l0.31-5.27l0.21 7.74l0.31-9.22l0.11 7.41l0.31-3.27"/>
<path class="ln" stroke="#ff7f0e" d="M121.5 365.79l0.1-1.36l0.21 1.48l0.94-1.99l0.21 2.36l0.62 0.19l0.31-2.36l0.63 0.24l0.1 2.04l0.31-2.39l0.42 1.56l0.31-0.03l0.62-1.32l0.42 0.9l0.52 1.43l0.1-3.03l0.52 2.72l0.42-1.34l0.31 0.9l0.52-1.11l0.42 1.8l0.31-0.49l0.21-1.34l0.62 1.99l0.31-2.41l0.52-0.23l0.42 1.8l1.04-2.32l0.1 3.06l0.21 0.29l0.52-2.11l0.73 2.72l0.1-2.7l0.21 0.01l0.63 2.12l0.52-1.78l0.1 2.16l0.73-0.65l0.41-2.19l0.11 2.16l0.73-1.34l0.41 1.56l0.42-1.02l0.31-0.94l0.1 1.92l0.63-1.08l0.41 1.57l0.32-2.34l0.1 2.31l1.04-1.79l0.31 1.16l0.42 0.26l0.41-1.19l0.42-1.01l0.31 2.34l0.42 0.3l0.21-1.75l0.62-0.35l0.42 2.28l0.62-1.95l0.1 1.99l0.73-1.78l0.11 2.01l0.72-1.96l0.11 1.35l0.73-2.12l0.2 3.1l0.52-0.82l0.32-2.3l0.31 1.33l0.62 1.21l0.31 0.23l0.32-1.62l0.83-0.02l0.1 1.07l0.52 0.31l0.11-1.23l0.72 0.16l0.11 0.91l0.83-1.61l0.42 2.81l0.2-0.92l0.11-1.06l0.93-0.23l0.32 1.17l0.31 1.01l0.52-2.25l0.31-0.07l0.31 1.19l0.42 0.09l0.73-1.16l0.1 1.92l0.73-1.84l0.1-0.56l0.63 2.12l0.52-0.14l0.1-2l0.73 1.76l0.1-1.17l0.73 2.03l0.42-2.25l0.2 1.83l0.32-1.02l0.93-0.32l0.21 1.47l0.52 0.64l0.1-1.91l0.63 0.34l0.21 1.19l0.31-0.28l0.21-1.21l0.62 2.15l0.21-2.35l1.04 2.32l0.1-2.71l0.31 0.88l0.32 1.97l0.72-2.08l0.32 1.56l0.41-0.36l0.63-1.69l0.41 0.67l0.31 0.7l0.21-0.72l0.31 1.78l0.63 0.14l0.21-2.5l0.83 0.44l0.31 1.56l0.52 0.27l0.1-2.14l0.42 0.12l0.42 1.66l0.62 0.32l0.21-2.63l0.41 1.43l0.21 1.71l0.83-2.57l0.42 2.15l0.62 0.82l0.21-2.63l0.52 2.26l0.31-1.78l0.52-0.52l0.32 1.97l0.2 0.33l0.11-1.9l0.73 2.7l0.52-2.32l0.31 1.89l0.62-1.66l0.52 2.11l0.11-2.09l1.04 1.4l0.1-2.15l0.42 1.79l0.2-1.82l0.63 1.48l0.1-0.94l0.52 1.74l0.52-1.7l0.31 0.86l0.42-0.92l0.52 0.04l0.42 1.44l0.72-0.25l0.11-1.18l0.73 1.94l0.2-2.13l0.42 1.99l0.21-1.63l0.93 2.02l0.11-1.73l0.62-0.62l0.21 1.65l0.1-1.37l0.11 1.38l0.73-1.37l0.52 2.29l0.41-0.92l0.63-2.23l0.41 1.41l0.31 1.45l0.21-2.46l0.52 3.02l0.94-2.31l0.1 1.12l0.11-0.98l0.62 1.81l0.21-2.18l0.31 2.23l0.52-0.68l0.62-1.13l0.32 2.05l0.2-1.65l0.84 2.15l0.1-2.41l0.42-0.09l0.62 1.51l0.21-0.12l0.73-2.08l0.31 2.66l0.52-1.99l0.41 1.38l0.21-0.88l0.63 0.07l0.1 1.46l0.42-2.18l0.2 1.65l0.73 1.44l0.11-2.4l0.83-0.06l0.31 1.13l0.31 1.25l0.52-2.6l0.73 0.6l0.1 1.44l0.42-1.98l0.52 1.73l0.42-1.54l0.52 1.81l0.41 0.08l0.21-1.26l0.83-0.62l0.11 2.11l0.31-2.53l0.31 2.47l0.94-0.8l0.2-0.72l0.11 1.19l0.73-1.98l0.1 0.27l0.52 3.33l0.62-1.06l0.11-1.64l0.41-0.6l0.42 1.75l0.42 0.86l0.2-2.55l1.04 1.57l0.11-1.36l0.31-0.25l0.1 1.65l0.73-0.73l0.42 1.33l0.83-1.39l0.31 1.64l0.21-1.69l0.52 1.82l0.52 0.58l0.31-2.61l0.73 0l0.21 2l0.52-0.18l0.21-2.58l0.31 2.79l0.31-2.05l0.42 2.88l0.1-2.49l0.83 1.51l0.52-1.94l0.63 2.14l0.1-1.39l0.73 0.17l0.21 0.97l0.2 0.17l0.63-1.38l0.62 1.44l0.21-1.94l0.42 1.97l0.31-1.25l0.31 1.59l0.62-2.08l0.42 0.3l0.42 1.44l0.72 0.18l0.21-2.04l0.52 0.52l0.11 1.78l0.41-2.14l0.11 1.82l0.93 0.9l0.11-2.23l0.93 2.3l0.21-2.39l0.42 2.36l0.2-1.87l0.42-0.59l0.52 2.23l0.21-1.73l0.52 1.53l0.62-0.02l0.21-2.09l0.52 1.87l0.52-1.8l0.1 2.21l0.42-2.34l0.94 0.7l0.1 1.42l0.31-0.27l0.21-1.21l0.94 0.06l0.2 1.15l0.52-2.04l0.32 3.05l0.62-2.04l0.21 0.88l0.21-0.19l0.72 0.86l0.11 0.06l0.31-2.2l0.94 0.99l0.2 1.42l0.52-1.73l0.21 1.73l0.94-2.2l0.1 2.16l0.63-1.56l0.2 1.96l0.32-2.23l0.41 2.09l0.52 0.09l0.31-2.78l0.21 2.83l0.31-2.1l0.73 1.6l0.21-1.32l1.04 0.98l0.1-1.12l0.63 1.7l0.1-1.32l0.52 1.26l0.21-1.42l0.83 0.06l0.11 1.85l0.72-1.21l0.11 1.08l0.52-2.11l0.31 2.4l0.42-0.13l0.31-2.01l0.31 2.36l0.21-2.29l0.73 2.02l0.41-1.71l0.83 0.75l0.21-1.12l0.11 1.21l0.41 1.13l0.94-2.14l0.21 1.88l0.52-2.1l0.2 1.52l0.32-1.51l0.52 2.06l0.31 0.27l0.31-2.19l0.94-0.04l0.1 2.04l0.31-1.61l0.63 1.59l0.31-1.43l0.52 1.79l0.62-2.66l0.21 2.65l0.1-0.68l0.21-0.93l1.04-1.08l0.31 2.69l0.21 0.1l0.11-1.75l0.62 1.86l0.52-2.03l0.42 2.82l0.62-2.45l0.1 1.12l0.11-0.78l0.93 1.68l0.42-2.03l0.52-0.38l0.21 1.54l0.31-0.78l0.1 1.3l0.94-1.93l0.42 1.68l0.52-1.11l0.2 1.32l0.32 0.15l0.72-1.51l0.52 2.43l0.21-2.96l0.42 2.35l0.21-2.3l0.93 1.99l0.21-1.29l0.31-0.37l0.52 2.37l0.42-0.88l0.1-1.3l0.52-0.74l0.31 2.45l0.52 0.63l0.11-2.23l0.62-1.03l0.21 2.56l1.14 0.27l0.11-1.53l0.41 0.11l0.52 1.25l0.11-1.53l0.73 2.3l0.1-2.31l0.42 1.52l0.41-0.25l0.11-1.38l0.72 0.32l0.32 1.43l0.72 0.36l0.32-1.23l0.31 1.36l0.52-1.94l0.52 0.35l0.1 1.65l0.52-0.57l0.73-1.43l0.42 2.17l0.1-1.89l0.42 1.4l0.31-1.27l0.73-0.45l0.31 2.03l0.31-0.67l0.21-1.48l1.04 0.23l0.21 1.76l0.83 0.68l0.1-1.89l0.63-0.2l0.1 1.46l0.52 0.39l0.42-1.6l0.1 1.27l0.52-1.46l0.31 1.06l0.63-1.29l0.2 0.15l0.63 2.09l0.21-2.55l0.52 2.2l0.62-1.23l0.21 1.67l0.41-0.74l0.32-0.88l0.93 1.15l0.11-1.1l0.52-0.44l0.41 1.93l0.31-1.18l0.42 1.09l0.62-1.85l0.21 2.13l0.21-2.02l0.42 1.79l0.52-1.86l0.52 2.54l0.2-1.69l0.11 0.82l1.04-0.02l0.31-1.78l0.21 0.1l0.73 1.79l0.31 0.93l0.52-2.58l0.1 0.47l0.11 2.14l0.93-0.37l0.31-1.64l0.84 0.21l0.2 1.19l0.42-1.5l0.1 1.95l0.52-2.28l0.11 1.3l0.62-0.91l0.73 1.71l0.62-0.49l0.21-0.38l0.42 0.92l0.1-1.27l0.42 1.4l0.31-1.68l0.62 0.16l0.42 1.62l0.52-2.01l0.52 1.71l0.52-1.58l0.31 1.99l0.11-2.04l0.41 2.45l0.94-1.77l0.1 1.36l0.73 0.06l0.21-1.86l0.73 2.19l0.1-2.37l0.31 0.97l0.42 1.46l0.21-0.92l0.62-1.46l0.31 0.34l0.42 1.62l0.41-1.5l0.11 1.88l0.73-1.83l0.2 2.17l0.73-0.07l0.11-1.57l0.52-0.23l0.31 1.34l0.93 0.15l0.11-1.63l0.52 1.25l0.1-0.54l0.73-1.03l0.52 1.87l0.52-1.95l0.1 1.85l0.52-1.02l0.32 2.14l0.41-2.82l0.11 1.61l0.62 0.57l0.42-2.54l0.83 0.86l0.21 1.15l0.31-1.34l0.1 2.34l0.63-0.79l0.1-1.45l0.83 1.49l0.52-1.2l0.73-0.08l0.21 1.07l0.73-0.31l0.1 0.95l0.21-1.93l0.41 1.41l0.52-1.64l0.21 1.99l0.83 0.14l0.32-1.49l0.31 0.06l0.41 1.83l0.32-1.3l0.41 1.14l0.42-1.68l0.62 1.78l0.21-2l0.62 2.78l0.21-0.21l0.52-3.09l0.21 1.48l0.73 1.42l0.52-2.14l0.1 1.36l0.73 0.46l0.21-1.92l0.41 0.58l0.42 1.88l0.52 0.28l0.42-1.73l0.2-0.71l0.11 2.14l0.73-2.25l0.62 2.74l0.1-0.65l0.11-1.66l0.83-0.14l0.1 2.6l0.63-2.5l0.21 1.4l0.62 0.33l0.21-1.44l0.83 1.91l0.1-1.74l0.84 2.14l0.1-2.4l0.42-0.3l0.72 2.39l0.42-0.6l0.42-1.09l0.72 1.45l0.11-1.77l0.41 1.88l0.42-1.86l0.1 0.32l0.11 1.91l0.93-0.4l0.52-1.38l0.11-0.07l0.73 1.42l0.31-1.81l0.31 1.78l0.31-1.2l0.63 1.89l0.52-0.52l0.31-1.6l0.31 0.32l0.52 1.5l0.42-1.75l0.1 2l0.52 0.35l0.73-2.43l0.1 2.13l0.42-1.31l0.52 0.98l0.21-0.99l0.62 1.18l0.52-1.54l0.31-0.21l0.11 1.78l0.72-0.6l0.52-1.34l0.42 0.5l0.21 1.72l0.62-1.35l0.21 0.99l0.52-1.07l0.31 1.37l0.73-1.16l0.42 1.47l0.41-0.02l0.42-1.33l0.1 2.29l0.73-3.27l0.21 3.34l0.1-2.02l1.04 1.36l0.11-1.94l0.31-0.08l0.31 2.36l0.73-2.24l0.1 1.69l0.52 0.1l0.21-2.15l0.83 0.84l0.31 1.14l0.42-0.16l0.42-1.48l0.41 2.45l0.52-2.28l0.31 1.57l0.11-1.24l0.62-0.49l0.42 2.82l0.93-0.74l0.11-0.98l0.52 0.75l0.31-1.58l0.21 0.78l0.21 1.16l0.62-1.53l0.1 1.02l0.73 0.48l0.63-0.71l0.31-1.16l0.62 1.99l0.11-1.08l0.52 1.38l0.31-1.84l0.31 1.23l0.62 0.46l0.52-2.06l0.32 1.85l0.31-1.9l0.41 0.65l0.73 1.17l0.11 0.52l0.1-1.6l1.04 1.49l0.42-1.51l0.41 1.17l0.42-1.81l0.21 1.11l0.31 1.76l0.52-1.87l0.41 1.44l0.73-2.06l0.11 1.82l0.52 0.76l0.52-2.48l0.31-0.16l0.21 1.53l0.62-1.08l0.1 2.03l0.63-1.61l0.52 1.17l0.21-1.72l0.62 1.48l0.21-0.94l0.41 1.89l0.94-1.74l0.21 2.33l0.21-0.95l0.1-1.69l0.83 2.09l0.11-1.9l0.83 2.62l0.31-2.99l0.62-0.03l0.21 2.51l0.21-1.92l0.62 1.74l0.32-0.43l0.41-1.39l0.52 2.25l0.52-2.24l0.63-0.7l0.1 2.28l0.21-1.18l0.41 1.64l0.63-1.71l0.1 1.23l0.94 0.39l0.21-1.56l0.2 1.67l0.42-1.6l0.73 1.51l0.41-1.39l0.52-0.52l0.21 1.4l0.21 0.13l0.62-1l0.52-0.25l0.21 1.5l0.31 0.48l0.11-1.94l0.73 1.83l0.41-1.93l0.42 0.2l0.1 1.47l0.94-0.86l0.1 1.43l1.04-1.51l0.21 1.65l0.1-0.04l0.32-1.3l0.52 1.27l0.31-1.67l0.73 1.32l0.41-1.82l0.31 0.51l0.21 2.42l0.73-2.83l0.42 2.14l0.31-0.14l0.31-1.66l0.42 1.52l0.52-0.95l0.52-1.15l0.1 1.63l0.94 1.05l0.31-1.78l0.21 0.25l0.41 1.84l0.42-0.31l0.41-1.48l0.94 1.79l0.1-1.99l0.32-0.12l0.52 1.89l0.31-1.42l0.41 1.32l0.42-1.8l0.52 1.45l0.21 0.42l0.62-1.33l0.21-0.36l0.31 1.8l0.63-1.53l0.2 2.32l0.42-2.12l0.1 1.87l0.73 0.04l0.52-2.57l0.63 0.14l0.41 2.83l0.42-0.81l0.1-1.13l0.83 1.53l0.32-1.55l0.41-1.02l0.31 2.93l0.63-0.2l0.31-1.8l0.21 1.59l0.31-1.81l0.62 1.55l0.52-1.48l0.32 1.83l0.41-1.53l0.31 1.56l0.21-1.81l0.83 1.24l0.21-1.73l0.31 0.04l0.73 2.38l0.52-2.1l0.21 1.57l0.31 0.95l0.11-1.28l0.62 1.45l0.73-2.74l0.31 0.79l0.1 2.4l1.15-3.38l0.1 2.5l0.73-1.98l0.1 2.41l0.52-2.21l0.32 1.68l0.1 0.17l0.73-1.46l0.31-0.07l0.42 1.57l0.2 0.18l0.42-1.96l0.62 0.37l0.11 1.88l0.73-0.41l0.1-1.42l0.52 1.77l0.62-1.56l0.21 1.42l0.63-2.27l0.52 0.94l0.41 1.49l0.11-0.32l0.41-0.75l0.94-1.05l0.1 2.55l0.21-0.34l0.52-1.37l0.52-0.58l0.31 2.3l0.31-0.14l0.11-1.69l0.83-0.3l0.31 2.2l0.42-1.96l0.21 1.16l0.83 1.46l0.21-3.5l0.41 2.33l0.52-1.06l0.42 0.04l0.62 1.17l0.31 0.18l0.11-1.85l1.14 0.26l0.11 1.41l0.31-0.01l0.1-2.44l1.04 0.3l0.21 2.65l0.52-1.8l0.21 1.75l0.21-1.76l0.62 2.69l0.52 0.53l0.31-3.71l0.21 0.73l0.62 0.72l0.73-0.65l0.21 1.05l0.1 0.57l0.21-2.25l0.73 2.12l0.42-1.91l0.31 0.43l0.31 1.67l0.73-1.82l0.52 1.44l0.41-2.09l0.42 2l0.42-1.91l0.1 2.65l0.94-0.37l0.2-2.58l0.42 2.75l0.21-1.57l0.83 1.32l0.21-1.74l0.1 2.08l0.11-1.57l0.72 1.07l0.52-1.14l0.42-0.36l0.52 2.15l0.31-2.35l0.21 1.67l0.83-0.99l0.31 1l0.42-0.15l0.52-1.09l0.21 2.55l0.62-2.58l0.52-0.41l0.11 1.93l0.52-0.12l0.2-1.4l0.42-0.13l0.31 2.13l0.73 0.35l0.42-2.21l0.72 1.99l0.21-2.34l0.11 0.55l0.2 2.7l0.63-2.27l0.62 1.17l0.52-1.18l0.21 1.99l0.52-0.6l0.52-2.26l0.21 1.12l0.21 1.34l0.52-1.94l0.72 1.69l0.32 0.97l0.41-3.09l0.21 2.46l0.52-1.79l0.31-0.26l0.21 1.66l1.25 0.48l0.1-1.08l0.42 1.08l0.41-1.85l0.63-0.19l0.1 1.45l0.42-0.8l0.1 1.17l0.94 0.05l0.21-1.68l0.2 1.83l0.52-1.25l0.63 1.47l0.1-1.97l0.52 1.77l0.52-1.08l0.21-0.29l0.62 1.55l0.32-0.08l0.1-1.21l1.04-0.69l0.21 2.14l0.31-2.81l0.21 3.17l0.83-0.34l0.21-1.21l0.83-0.41l0.21 1.84l0.52-1.74l0.1 1.16l0.63-1.84l0.41 2.18l0.52-1.82l0.21 1.8l0.31-2.6l0.42 2.13l0.62 1l0.11-2.12l0.72 0.98l0.32-1.36l0.31-0.12l0.1 1.64l0.63-0.17l0.41-1.39l0.52 1.9l0.21-1.1l0.52 1.12l0.73-2.15l0.21 0.44l0.41 2l0.31-0.17l0.21-1.53l0.63 1.4l0.2-1.31l0.73-0.33l0.21 2.02l0.52 0.15l0.1-2.58l0.84 1.91l0.31-2l0.93 0.52l0.21 1.84l0.31 0.1l0.32-1.17l0.62 0.88l0.1-1.04l0.94 2.34l0.21-3.41l0.1 2.71l0.21-1.57l0.62 1.22l0.63-2.77l0.31 2.95l0.52-1.73l0.62 1.61l0.21-1.49l0.52-0.02l0.11 0.86l0.41 0.51l0.52-1.56l0.31 0.07l0.21 1.46l0.63-0.98l0.1 1.14l0.73 0.6l0.52-1.47l0.52-1.4l0.41 2.72l0.21 0.76l0.73-2.39l0.73 1.55l0.1-2.16l0.31-0.47l0.42 3.2l0.31-2.39l0.31 1.74l1.04-1.5l0.11 1.35l0.1-1.64l0.52 2.17l0.63-0.49l0.41-0.86l0.11 0.65l0.72-1.25l0.42-0.19l0.21 1.81l0.62-1.26l0.42 1.27l0.73 0.62l0.1-1.85l0.21 1.17l0.41-1.84l0.32 1.93l0.62-1.88l0.31-0.4l0.31 2.7l0.63-1.78l0.21 1.18l0.72-0.23l0.11-1.61l0.93 2.16l0.11-1.83l0.52 0.39l0.41 1.53l0.63-1.79l0.1 2.32l0.31-0.28l0.32-1.41l0.41-0.32l0.73 1.66l0.31-1.99l0.42 2.1l0.31-2.25l0.62 1.67l0.21-1.68l0.11 3.05l0.72-2.49l0.32 2.78l0.41-1.2l0.52-2.02l0.94-0.72l0.1 2.35l0.11-1.32l0.72 1.52l0.11 1.14l0.1-3.11l0.73 1.2l0.52 1.41l0.73 0.39l0.1-3.02l0.42 2.54l0.62-1.58l0.21-0.22l0.21 1.09l0.62-0.97l0.11 1.8l1.04-2.7l0.1 2.78l0.62 0.55l0.32-2.58l0.31 2.07l0.52-2.34l0.31 0.52l0.52 1.12l0.31 0.07l0.63-1.13l0.72 1.72l0.11-2.16l0.52 1.76l0.31-1.12l0.31 1.94l0.42-1.95l0.52 1.43l0.1-1.53l0.52 1.14l0.52-1.66l0.21 0.51l0.31 1.45l1.04-1.09l0.21 1.22l0.21 0.6l0.52-3.45l0.41 2.83l0.11-1.5l0.73 0.15l0.52 1.47l0.1 0.04l0.73-2l0.21 0.74l0.31 1.61l0.73-2.39l0.1 1.48l0.83 0.03l0.11-1.02l0.62-1.01l0.31 1.96l0.52 0.69l0.31-2.05l0.32-0.21l0.41 2.15l0.52-1.46l0.42 1.54l0.41-2.72l0.42 2.6l0.31-0.36l0.42-1.35l0.62 1.6l0.21-1.39l0.73 0.2l0.31 1.34l0.42 0.38l0.2-2.1l0.42 2.24l0.62-2.79l0.11 0.29l0.21 1.68l1.24-1.3l0.11 2.3l0.41-2.6l0.42 2.29l0.21-1.77l0.52 1.88l0.31-0.41l0.52-0.87l0.21 0.57l0.31-1.05l0.62-0.72l0.52 2.38l0.42-0.49l0.42-0.84l0.31-0.45l0.62 1.59l0.31-0.2l0.11-1.62l0.73 0.2l0.2 1.24l0.84-1.5l0.2 2.23l0.32-0.33l0.62-1.39l0.52-0.11l0.31 2.39l0.42-0.81l0.21-1.49l0.41 0.08l0.31 1.83l0.63-3.06l0.21 2.37l0.41-1.43l0.11 1.22l1.04 0.87l0.31-1.76l0.31 1.09l0.31-1.05l0.83 1.77l0.21-1.74l0.42 1.68l0.31-2l0.73 1.15l0.31-1.28l0.21 0.44l0.31 1.67l0.62-2.15l0.42 1.81l0.42-1.54l0.41 2.09l0.42 0.26l0.21-1.56l0.72-0.74l0.42 1.65l0.21 0.9l0.62-2.76l0.11-0.17l0.62 1.8l0.21-0.15l0.21-1.44l1.14 0.2l0.1 2.01l0.73-2.28l0.21 2.09l0.1-1.94l0.42 1.7l0.42 0.95l0.62-2.37l0.31 0.34l0.63 1.78l0.31-1.69l0.41 1.22l0.21-1.93l0.21 1.8l0.62-1.07l0.21 0.92l0.83 0.53l0.42-1.69l0.42 1.03l0.41-1.28l0.21 2.24l0.62-2.54l0.73 0.58l0.11 1.68l0.41-1.45l0.21 1.02l0.52 0.28l0.21-1.65l0.93 0.25l0.11 1.56l0.93-1.94l0.11 2.12l0.41-0.34l0.11-2.38l0.93 1.03l0.11 1.78l0.21-1.46l0.41 1.37l0.63-1.89l0.1 2.14l0.73 0.03l0.52-1.97l0.41-0.38l0.21 1.75l0.52-1.98l0.11 1.97l0.62 0.11l0.31-2.61l0.73 2.82l0.1-1.86l0.42 2.14l0.1-1.54l1.04 1.98l0.32-2.51l0.31 0.11l0.31 1.89l0.52-2.28l0.1 2.89l0.94-1.1l0.42-1.33l0.2 1.84l0.32-1.69l0.93 0.14l0.11 1.97l0.62-0.65l0.21-2.22l0.31 0.47l0.52 1.42l0.31-0.84l0.21 1.5l0.52-2.49l0.1 2.24l0.94-2.39l0.31 2.66l0.63-2.93l0.2 2.54l0.73-0.1l0.31-1.52l0.21 2.18l0.63-2.65l0.2 0.81l0.21 1.77l0.73-2.06l0.31 1.8l0.42 0.21l0.52-2l0.21 1.29l0.52-1.39l0.31 0.16l0.62 1.83l0.31-1.61l0.32 1.29l0.52-1.14l0.62 1.56l0.73 0.38l0.1-2.03l0.31-0.08l0.52 1.8l0.32-0.72l0.31-1.18l0.62 1.71l0.11-1.82l0.72 0.1l0.11 1.57l0.73-1.14l0.1 1.3l0.42-1.16l0.1 1.32l0.73-2.24l0.62 2.49l0.31 0.35l0.52-1.82l0.21 1.11l0.21-1.72l0.62 0.76l0.21 1.38l0.73-1.4l0.42 0.66l0.31 0.88l0.1-2.35l0.83 1.67l0.32-1.74l0.62 2.46l0.42-1.88l0.41 2.04l0.52-2.22l0.42 0.39l0.41 1.33l0.42-0.3l0.21-1.21l0.93-0.75l0.11 2.75l0.21-0.37l0.2-1.18l0.63 0.99l0.52-0.92l0.31 1.54l0.52-2.76l0.21 2.47l0.52-2.3l0.31 1.02l0.73 1.07l0.41 0.12l0.42-1.78l0.1 0.73l0.32 0.94l0.52-1.84l0.1 2.3l1.25-1.29l0.21 0.86l0.1-2.06l0.73 1.35l0.31 0.93l0.52-1.65l0.52-1.37l0.31 3.11l0.31-0.44l0.11-1.45l0.73 0.21l0.31 1.49l0.31 0.92l0.73-2.14l0.21-0.23l0.41 1.79l0.42-0.48l0.41-1.36l0.32-0.62l0.2 2.42l1.04-2.09l0.21 1.6l0.73-1.31l0.21 1.64l0.52-1.28l0.21 1.22l0.2-1.81l0.52 1.81l0.63-0.09l0.21-1.35l0.31-0.34l0.41 2.33l0.84-0.31l0.1-2.31l0.52 2.38l0.31-1.5l0.42-0.87l0.62 1.88l0.11-1.51l0.72 2.14l0.52 0.89l0.11-2.68l0.73 0.65l0.1 0.76l0.62-0.31l0.11-1.69l0.41 0.39l0.73 2.31l0.52-1.95l0.31 0.73l0.32-1.38l0.52 2.54l0.1 0.35l0.31-2.09l0.73-1.19l0.21 2.38l0.62-1.85l0.21 1.81l0.42-1.36l0.62 1.51l0.42 0.8l0.41-2.13l0.21 1.6l0.42-1.28l0.52-1.01l0.62 1.91l0.42-1.59l0.1 1.53l0.62-0.17l0.32-0.87l0.41 1.86l0.11-1.42l0.62 0.93l0.73-1.99l0.52 1.74l0.21-1.69l0.62 1.69l0.1-0.97l0.42 1.47l0.42-2.59l0.83 1.15l0.21 1.41l0.2-0.13l0.21-1.74l0.73 1.89l0.21-2.3l0.41 3l0.21-2.69l1.15 1.84l0.1-1.72l0.31 1.35l0.42-1.05l0.52 2.88l0.1-2.9l0.73-0.33l0.52 2.08l0.1-0.49l0.52-1.67l0.42 2.72l0.52-2.13l0.73-0.14l0.21 1.47l0.41 0.37l0.11-1.6l1.04-0.51l0.1 1.69l0.1 1.19l0.63-2.84l0.52 0.11l0.21 1.98l0.83-1.71l0.21 2.44l0.41-2.55l0.31 1.56l0.32-1.73l0.62 1.89l0.73 0l0.1-1.51l0.42-0.27l0.31 1.61l0.31 0.31l0.63-0.95l0.2-1.08l0.52 2.09l0.32-0.22l0.62-1.74l0.62 1.89l0.21-1.25l0.31 1.28l0.11-1.73l0.62 2.19l0.63-1.81l0.31 1.65l0.21-1.35l0.41 1.8l0.42-2.36l0.62 0.2l0.11 1.69l0.52-1.18l0.2 0.94l0.63-1.78l0.21 1.64l0.72-1.6l0.11 2.16l0.73-1.51l0.2 1.1l0.84-0.12l0.1-1.84l0.52 0.83l0.31 1.45l0.94-1.76l0.21 1.57l0.1-1.56l0.1 2.13l0.73-0.83l0.31-0.71l0.94-0.97l0.31 2.11l0.11-2.07l0.52 2.46l0.31-2.27l0.31 1.68l0.62-1.57l0.63 2.03l0.1-0.03l0.73-1.66l0.62 1.48l0.21-1.56l0.31 1.69l0.32-1.88l0.41 1.89l0.21-1.71l0.73-0.09l0.1 1.51l0.52-0.35l0.31-1.02l0.84 1.99l0.31-2.04l0.31 1.78l0.1-1.54l1.15 0.87l0.1-1.26l0.31 0.04l0.11 1.85l0.62-1.35l0.63 1.36l0.41-0.6l0.11-1.24l1.04 1.93l0.2-1.75l0.32 1.59l0.41-1.5l0.42 1.89l0.21-2.91l0.41 0.66l0.63 3.15l0.2-1.88l0.73 0.95l0.52 0.72l0.21-3.29l0.52 0.31l0.21 2.61l0.31-0.33l0.73-1.83l0.1 1.49l0.52-1.17l0.31-0.09l0.42 2.48l0.73-0.96l0.21-0.85l0.83-0.56l0.1 1.54l0.31-0.18l0.32-1.66l0.72-0.64l0.32 2.98l0.2-1.9l0.52 1.08l0.52-0.09l0.42-1.07l0.52 1.41l0.42-1.58l0.1 1.76l0.62-1.44l0.32 2.18l0.31-2.45l0.93-0.14l0.21 1.83l0.52-1.67l0.21 1.06l0.42 0.96l0.2-2.77l0.42 2.18l0.21-1.53l0.93 1.78l0.32-1.7l0.52 0.24l0.41 1.95l0.31-0.02l0.32-1.42l0.62-0.27l0.21 1.22l0.41 0.08l0.63-1.65l0.52 2.05l0.31-1.59l0.52 1.17l0.1-1.16l0.73-0.79l0.11 2.55l0.72-1.98l0.21 2l0.21-1.8l0.31 1.26l0.73-1.49l0.42 1.7l0.2-1.5l0.73 1.45l0.11-1.67l0.31 1.8l0.52 0.38l0.31-1.9l0.52 1.96l0.52-2.24l0.31 1.91l0.21-1.44l0.62-0.04l0.32 1.22l0.83 0.55l0.41-1.98l0.11 1.89l0.41-1.76l0.94 0.01l0.21 1.56l0.1-1.23l0.52 0.99l0.73 0.02l0.1-1.74l0.32 0.44l0.2 1.29l0.73 0.29l0.21-1.45l0.73 1.09l0.41-1.39l0.63 1.41l0.1-1.02l0.83-0.15l0.21 2.06l0.21-1.52l0.52 1.58l0.52-2.03l0.1 1.7l0.63 0.68l0.41-1.96l0.32-1.19l0.31 2.68l0.83-0.09l0.21-1.52l0.73 0.85l0.2-0.6l0.32 1.96l0.2-2.65l0.42-0.66l0.73 2.14l0.21 0.17l0.62-2.1l0.52 0.69l0.1 1.18l0.32-1.26l0.72 2.1l0.11-0.23l0.21-1.94l0.93 1.48l0.42-1.18l0.21 0.39l0.52 0.82l0.41-1.12l0.42 0.83l0.83 2.74l0.1-3.65l0.11 0.02l0.1 1.35l1.04-0.76l0.31 1.48l0.32 0.11l0.1-2.13l1.04-0.83l0.21 2.19l0.21 0.27l0.1-1.77l1.35 1.91l0.11-1.29l0.1-0.19l0.31 1.18l0.52 0.53l0.52-1.7l0.42 1.28l0.21-1.73l0.83 2.11l0.31-1.79l0.52 2.15l0.21-2.24l0.73 1.57l0.1-1.97l0.52 0.64l0.1 1.5l0.63-0.08l0.1-1.27l0.73 0.12l0.52 1.97l0.52-0.77l0.21-2.26l0.73 0.14l0.1 1.95l0.31-1.75l0.73 1.82l0.42 0.5l0.2-2.68l0.32 0.91l0.72 1.55l0.42-1.15l0.1 1.24l1.04 0.88l0.11-2.14l0.41 1.7l0.42-1.81l0.31-0.06l0.31 2.08l0.52-0.32l0.32-1.63l0.41-0.24l0.42 1.59l0.41-1.86l0.63 2.37l0.62-2.36l0.11 2.23l0.31-1.45l0.52 1.33l0.21 0.84l0.52-2.29l0.72-0.07l0.11 1.5l0.41-1.59l0.63 2l0.41-0.62l0.11-1.72l0.41-0.28l0.63 2.27l0.41-1.83l0.52 1.87l0.73 0.2l0.11-1.74l0.1-0.16l0.73 1.94l0.73-1.41l0.1 1.74l0.1-0.39l0.52-2.09l0.52 2.2l0.42-1.47l0.42 0.12l0.2 1.52l0.52-2.15l0.52 1.85l0.32-0.61l0.62-1.25l0.31 2.08l0.31-2.36l0.73 0.58l0.21 1.34l0.73-0.1l0.21-0.87l0.41 1.55l0.21-1.64l0.31-0.91l0.21 2.06l0.83-1.68l0.21 1.3l0.62-0.91l0.32 1.69l0.72-0.59l0.11-1.14l0.31 0.05l0.62 1.34l0.21-0.35l0.31-0.96l0.94 0.13l0.31 1.53l0.31 0.4l0.42-1.89l0.21 1.3l0.1-1.29l1.04 0.15l0.11 1.54l0.62-2.07l0.1 2.42l0.73-2.3l0.11 2.1l1.14-0.37l0.1-1.12l0.42 1.62l0.31-1.94l0.73 1.37l0.21-1.27l0.31-0.77l0.42 2.22l0.62 0.2l0.1-2.32l0.32 0.45l0.41 1.67l0.83-1.92l0.21 2.01l0.21-1.17l0.31 1.43l0.94-0.17l0.21-1.25l0.2 0.94l0.11-1.76l0.73-0.07l0.72 1.77l0.11-1.4l0.41 1.74l0.73-0.31l0.42-1.41l0.21 0.02l0.31 2.21l0.52-2.25l0.1 1.82l0.94 0.03l0.31-1.51l0.83-0.29l0.11 1.82l0.41-1.29l0.42 1.47l0.62 0.17l0.21-2.26l0.52 2.73l0.31-1.92l0.42-0.21l0.31 1.25l0.31-1.81l0.11 1.72l0.62 0.14l0.1-1.69l0.94 1.92l0.31-1.44l0.42-0.32l0.62 2.27l0.21-0.74l0.62-1.62l0.11 1.95l0.31-1.83l0.83 1.46l0.11-1.94l0.93 2.2l0.21-2.21l0.42 2.12l0.41-1.23l0.11-0.73l0.52 1.97l0.31 0.19l0.21-1.54l0.93 1.54l0.21-1.41l0.31-0.26l0.63 2.15l0.2-1.85l0.52 1.06l0.52-1l0.42 1.44l0.21 0.47l0.41-2.83l1.04 1.43l0.11 0.95l0.41-1.51l0.11 0.68l0.93 0.8l0.11-1.55l0.52 2.01l0.21-1.57l0.72 1.17l0.32-2.05l0.1 2.12l0.1-1.96l1.15 1.67l0.1-0.89l0.42 0.46l0.52 1.18l0.62 0.04l0.11-2.11l0.93 1.62l0.11-1.04l0.41-0.74l0.11 1.98l0.52-0.39l0.2-1.89l0.73 0.38l0.42 1.94l0.31-2.02l0.62 2.15l0.21-1.39l0.52 0.98l0.63 0.13l0.2-1.35l0.32 1.48l0.31-1.52l0.62-0.47l0.11 1.49l0.52-0.75l0.72 1.33l0.11-1.1l0.62 0.84l0.52 0.18l0.31-1.86l0.21 1.81l0.11-1.28l0.93 1.68l0.31-2.39l0.32 2.24l0.1-1.66l0.83 2.77l0.63-2.36l0.41 1.58l0.11-1.58l0.52-0.55l0.41 1.9l0.63-1.7l0.1 1.78l0.62-1.38l0.32 1.05l0.41 0.86l0.42-2.29l0.41 2.09l0.21-1.9l1.15 1.79l0.1-2.82l0.21 0.3l0.62 1.51l0.31-1.14l0.21 2.19l0.73-1.78l0.42 1.84l0.31-0.74l0.31-0.81l0.31-0.69l0.63 1.94l0.41-1.97l0.52 2.13l0.31-0.07l0.11-1.95l1.04 0.28l0.21 1.38l0.31-1.27l0.41 1.47l0.42-1.1l0.31 1.08l0.94-0.06l0.1-1.97l0.21 2.02l0.1-1.47l1.15 0.16l0.21 1.1l0.41 0.39l0.31-1.31l0.32-0.46l0.62 1.67l0.21 0.35l0.1-1.76l0.73 2.48l0.1-2.31l0.73 0l0.42 1.9l0.52-2.03l0.52 1.15l0.21 0.8l0.62-1.72l0.42-0.1l0.2 2.3l0.73-2.12l0.11 1.21l0.41-1.22l0.63 1.13l0.62 0.23l0.21-1.4l0.21 1.77l0.52-2.08l0.31 0.73l0.31 1.46l0.73-2.33l0.41 1.73l0.32 0.01l0.1-1.22l0.62 1.59l0.21-2.6l0.83 2.5l0.21-1.54l0.31-0.08l0.32 1.21l0.72 0.43l0.21-1.85l0.73 1.55l0.1-0.94l0.52 1.51l0.21-1.64l0.83 2.23l0.21-2.25l0.42 1.46l0.31-1.64l0.73 0.32l0.21 1.67l0.52-1.03l0.2-1.33l0.42 0.43l0.62 1.37l0.32 0.32l0.2-1.6l0.63 2.18l0.31-2.72l0.73-0.11l0.21 2.92l0.62-0.42l0.1-1.17l0.73-0.86l0.31 1.53l0.42-1.42l0.1 1.77l0.52-0.37l0.52-1.29l0.63 0.99l0.1-1.11l0.73-0.23l0.1 1.68l0.52-1.37l0.11 1.61l1.04-1.56l0.1 2.24l0.52-0.46l0.42-2.25l0.31 2.5l0.1-1.42l1.04 1.06l0.21-1.57l0.21 1.84l0.62-2.27l0.21 1.79l0.21-1.19l0.73 2.56l0.41-2.04l0.42 1.44l0.21-2.09l0.62 2.12l0.42-1.86l0.93-0.19l0.11 1.44l0.21 0.3l0.1-1.47l1.04 1.88l0.21-2.48l0.21 2.62l0.1-2.38l1.04-0.57l0.21 2.53l0.41-2.01l0.63 2.45l0.21-2.33l0.2 2.11l0.73-1.92l0.11 1.91l0.83 0.16l0.31-2.22l0.21 1.84l0.31-1.56l0.73 1.8l0.41-1.75l0.42 1.62l0.42-1.62l0.2 0.35l0.32 1.41l0.52-0.31l0.1-1.6l1.25 2.21l0.1-1.86l0.31 1.43l0.63-1.34l0.21 1.22l0.41-1.43l0.52 1.39l0.31-1.4l0.52-0.27l0.11 1.9l0.52-0.51l0.21-1.01l0.83 1.19l0.31-1.66l0.83 1.85l0.21-1.48l0.21 0.1l0.52 1.9l0.21-2.41l0.52 2.47l0.62-1.49l0.31 0.85l0.31-2.63l0.52 3.34l0.52-0.04l0.21-2.32l0.52 1.73l0.21-1.27l0.62 1.74l0.42-2.06l0.31 2.2l0.21-2.67l0.62 2.22l0.21-1.58l0.63 0.28l0.2 1.93l0.52-0.17l0.52-3.45l0.94 3.07l0.1-1.84l0.21 1.98l0.21-1.88l0.52 1.42l0.73-1.17l0.1-0.61l0.63 1.79l0.31-0.82l0.1 1.26l1.25-1.62l0.1 1.61l0.32-1.82l0.52 2.18l0.1-2l0.31 1.5l1.04-1.28l0.11 1.48l0.52-2.04l0.31 2.12l0.21-2.19l0.62 2.1l0.21-1.64l0.62 1.59l0.83 0.59l0.11-2.55l0.21 0.03l0.2 1.97l0.84 0l0.2-1.32l0.32-0.14l0.41 1.14l0.73 0.39l0.42-0.99l0.2 1.13l0.63-1.55l0.52-0.28l0.21 2.18l0.62-2.17l0.1 1.85l0.84-1.42l0.2 2.07l0.32-3.04l0.52 2.35l0.2 0.38l0.42-2.04l0.83 0.19l0.21 1.34l0.42-1.5l0.41 1.53l0.31 0.04l0.32-0.81l0.62 0.41l0.31-0.71l0.21 1.04l0.1-1.74l0.94 1.87l0.52-1.18l0.1 0.39l0.73 1.38l0.11-2.38l0.62 2.23l0.21-1.35l0.73 1.4l0.1-0.33l0.73-1.71l0.31 1.64l0.1-2.03l0.73 0.49l0.11 1.98l0.52 0.16l0.2-2.16l0.84 0.29l0.31 1.42l0.83-1.29l0.21 1.43l0.41-0.04l0.42-1.72l0.1 0.45l0.21 1.73l0.63-0.63l0.41-1.62l0.94 0.45l0.21 1.39l0.1-1.75l0.1 1.79l0.73-1.75l0.11 1.24l0.72 1.27l0.11-2.94l1.14 1.83l0.11-1.06l0.52 1.34l0.1-1.83l0.73 0.54l0.21 1.91l0.62 0.29l0.52-2.3l0.1-0.16l0.63 1.44l0.62 0.56l0.31-1.51l0.52 1.92l0.11-2.49l0.52 2.05l0.1-1.75l0.94 2.26l0.1-2.66l0.42-0.26l0.62 1.8l0.31-1.09l0.32 1.67l0.52-1.12l0.31 1.28l0.52-1.76l0.31 1.1l0.62 0.04l0.42-1.15l0.73 1.73l0.1-1.98l0.11 0.42l0.52 1.18l0.31 0.1l0.62-1.71l0.21 0.37l0.31 2.15l0.73-0.6l0.21-2.19l0.83 2.65l0.1-1.96l0.42-0.12l0.1 1.65l0.84-1.97l0.1 2.19l0.73-0.27l0.52-1.53l0.1 1.57l0.52-1.73l0.42 1.36l0.31-1.55l0.52 2.43l0.42-1.59l0.72-0.27l0.32 1.33l0.31-2.39l0.52 2.55l0.21-1.1l0.62 1.34l0.31 0.52l0.31-3.45l0.73 2.52l0.31-1.6l0.32 1.33l0.31-1.06l0.41 1.56l0.21-1.72l0.83 1.57l0.32-1.74l0.41 0.25l0.52 1.62l0.11-0.03l0.2-2.03l1.04 0.54l0.32 1.54l0.31-1.21l0.31 1.22l0.52 0.1l0.31-1.26l0.52-0.48l0.52 2.03l0.52-2l0.31 1.5l0.42 0.41l0.1-1.85l0.52-0.67l0.11 3.18l0.73-2.96l0.1 2.49l0.73-2.04l0.1 2l0.83-0.27l0.11-2.27l0.62 2.75l0.63-2.71l0.2 0.69l0.63 2.27l0.52-2.51l0.1 1.82l0.83-1.89l0.11 1.94l0.52-2l0.31 1.95l0.73 0.68l0.1-2.24l0.73 1.46l0.1-1.74l0.21 1.79l0.11-1.26l0.72-0.24l0.21 1.98l0.63 0l0.52-1.51l0.31 1.22l0.1-1.9l0.83-0.23l0.11 2.29l0.73-0.2l0.52-1.44l0.2 1.59l0.21-2.03l1.15 0.04l0.2 2.22l0.42-1.94l0.21 1.39l0.41 0.1l0.42-1.07l0.42 2.22l0.62-2.28l0.42 1.5l0.2-2.36l0.63 0.82l0.21 1.03l0.62 0.02l0.21-1.63l0.93 1.74l0.11-1.95l0.21 2.13l0.62-1.86l0.21 2.77l0.41-3.23l0.42 0.89l0.52 1.42l0.42-0.13l0.1-1.68l0.62 0.43l0.42 1.23l0.31-0.06l0.11-2.05l0.83 0.09l0.1 2.85l0.94-0.24l0.41-2.11l0.21 0.22l0.21 1.41l0.83-0.1l0.21-1.35l0.31-0.18l0.21 1.16l0.62-0.89l0.32 1.19l0.52-1.11l0.31 0.87l0.62-0.96l0.21 2.08l0.83-0.89l0.31-1.72l0.52 2.88l0.21-2.27l0.63 1.25l0.41-1.74l0.21 0.53l0.21 1.51l1.04 1.03l0.21-2.43l0.52-0.84l0.1 2.24l0.52-1.26l0.31 0.91l0.42-1.15l0.52 2.12l0.31-2.14l0.1 2.1l1.25-0.18l0.11-1.56l0.41-0.15l0.42 0.91l0.31-0.01l0.31-1.08l0.63 0.09l0.1 1.75l0.52-0.43l0.21-0.92l0.62-0.18l0.52 0.91l0.31-1.3l0.63 1.79l0.1-0.05l0.73-1.38l0.21-0.79l0.31 1.49l0.42-0.58l0.72 1.07l0.11 0.21l0.1-1.98l0.73 1.93l0.52-1.64l0.31-0.01l0.42 1.28l0.73-0.04l0.2-1.57l0.63 2.32l0.21-1.85l0.41 0.04l0.21 1.53l1.04-1.44l0.1 1.88l0.42-2.17l0.21 1.84l0.41-0.02l0.63-1.43l0.21-0.04l0.72 1.21l0.52-1.8l0.11 2.48l0.73-0.91l0.2-1.49l0.32 0.48l0.1 1.39l0.73-1.93l0.52 2.51l0.21-0.66l0.62-1.09l0.31 1.29l0.31-1.72l0.84 1.98l0.1-1.46l0.73-0.57l0.31 2.39l0.42-2.37l0.2 1.55l0.32-1.11l0.1 1.01l0.73-0.81l0.21 1.36l1.24-0.46l0.11-1.45l0.21 0.46l0.2 0.85l0.94-1.02l0.31 2.45l0.73-0.42l0.1-1.65l0.11 0.02l0.73 1.11l0.1 0.33l0.62-1.94l0.63 1.58l0.1-1.97l0.52 0.19l0.11 2.38l0.62-2.55l0.1 2.52l1.04-0.22l0.32-1.52l0.31-0.64l0.21 2.51l0.72-0.95l0.11-1.25l0.41 1.79l0.32-1.01l0.72-0.63l0.21 1.98l0.94 0.6l0.1-2.35l0.73 1.39l0.21-1.14l0.21-0.75l0.52 2.37l0.2-0.05l0.63-2.77l0.31 0.47l0.21 1.88l1.14-1.84l0.11 2.36l0.2-0.42l0.52-1.28l0.52 0.07l0.32 1.44l0.72-2.36l0.11 1.68l0.52 0.11l0.1-1.89l0.63 0.57l0.31 1.21l0.31 0.2"/>
<path class="ln" stroke="#2ca02c" d="M121.5 353.25l0.1 1.12l0.42-1.8l0.62 1.66l0.21-0.93l0.31 0.23l0.11 1.37l0.73-0.19l0.31-1.56l1.04 1.15l0.1-1.51l0.42 0.99l0.21-1.22l0.62 1.31l0.21-0.63l0.73 0.16l0.2 0.78l0.63 0.18l0.21-1.25l0.52 1.46l0.1-1.33l0.62-0.28l0.42 1.55l0.31-0.38l0.31-1.17l0.73 1.74l0.31-2.08l0.32 1.59l0.52-0.97l0.83 0.94l0.1-1.46l0.73 1.49l0.1-1.29l0.52 1.93l0.32-1.87l0.31 1.94l0.31-1.5l0.42-0.37l0.2 1.21l0.73-1.31l0.21 1.14l0.94-1.32l0.1 1.57l0.52-1.73l0.21 2.12l0.52-1.9l0.62 1.62l0.31 1.02l0.32-2.86l0.31 0.38l0.31 1.3l1.14-1.01l0.11 1.01l0.31-1.17l0.21 1.17l0.52-0.41l0.52-1.17l0.31 1.65l0.42-1.63l0.41 1.92l0.31-0.68l0.94-0.63l0.1 1.32l0.21-1.1l0.42 1.14l1.04-1.42l0.1 2.1l0.11-0.02l0.1-2.29l0.73 0.44l0.73 0.6l0.62-1.06l0.21 1.3l0.21 0.42l0.1-1.57l0.73 1.52l0.1-0.81l0.63 0.59l0.31-1.08l0.62 0.25l0.31 1.15l0.84-1.43l0.31 0.96l0.31-0.73l0.42 1.42l0.2 0.34l0.63-1.83l0.62 0.13l0.31 1.33l0.21-0.73l0.42-0.74l0.31 1.6l0.62-1.54l0.32 1.59l0.2-1.98l0.94 1.53l0.1-1.33l0.94-0.05l0.1 0.94l0.32-0.78l0.41 1.61l0.31 0.02l0.21-1.52l0.52-0.26l0.31 1.93l1.04-0.54l0.21-1.18l0.21 1.24l0.42-0.74l0.41 0.78l0.52-2.03l0.21 0.35l0.31 1.83l1.15-1.37l0.1 1.88l0.52-1.95l0.1 1.1l0.63-0.03l0.31-1.12l0.62 0.21l0.21 1.27l0.21-1.78l0.21 1.95l0.73 0.25l0.31-1.32l0.41 0.87l0.42-1.48l0.42 2.05l0.52-2.06l0.83-0.01l0.21 1.85l0.1-1.74l0.52 1.62l0.42-0.24l0.41-1.11l0.42 1.24l0.21-1.41l0.52 1.31l0.41-0.68l1.04 1.14l0.11-1.96l0.1 0.14l0.42 1.33l0.41 0.64l0.31-1.82l0.63 0.51l0.62 0.77l0.11-1.6l0.72 1.28l0.21-1.19l0.63 1.7l0.31-0.14l0.21-1.4l0.62-0.06l0.31 2.42l0.73-2.28l0.31 1.53l0.11-0.13l0.31-1.52l0.62 1.63l0.42-1.54l0.93 0.16l0.11 1.21l0.73 0.33l0.1-1.59l0.1 1.46l0.42-1.15l0.83-0.5l0.31 2.33l0.32-0.73l0.31-1.2l0.31 0.38l0.1 1.24l0.94-0.29l0.42-1.19l0.31-0.37l0.41 1.55l0.32-1.65l0.1 1.43l1.14 0.88l0.11-2.1l0.41 2.18l0.52-2.37l0.21 0.26l0.52 1.39l0.52 0.37l0.21-1.99l0.42 0.32l0.2 1.76l0.73-0.8l0.11-1.63l0.62 1.82l0.31-2.04l0.63 2.26l0.41-1.48l0.94 0.27l0.1 1.85l0.42-0.24l0.31-1.54l0.42-0.39l0.41 1.49l0.52-0.14l0.42-1.64l0.31 1.91l0.52-1.9l0.1 1.67l0.21-1.28l0.63 1.49l0.2-1.25l0.73-0.67l0.11 1.66l0.62 0.7l0.73-1.36l0.41 1.1l0.42-1.2l0.73-0.91l0.1 1.31l0.21 0.89l0.21-1.78l0.52 2.16l0.41-2.16l0.42 1.42l0.1-0.99l1.15 1.23l0.1-1.71l0.73 0.24l0.21 1.17l0.41 0.31l0.11-0.89l1.14-0.04l0.11 1.02l0.2 0.04l0.11-1.64l0.73 1.61l0.31-1.1l0.62 1.38l0.42-2.22l0.62 1.68l0.31-1.74l0.11 0.93l0.21 1.21l0.83-1.08l0.52 1.43l0.21-0.66l0.52-1.72l0.2 0.31l0.21 2.51l0.73-1.23l0.1-0.99l0.94 1.5l0.1-1.39l0.52 0.99l0.63-1.43l0.73 0.42l0.1 1.51l0.62 0.04l0.21-1.66l0.42 0.06l0.41 1.3l0.21-0.31l0.42-0.67l0.31-0.67l0.52 1.36l0.52-1.01l0.21 1.85l0.73-2.02l0.1 1.5l0.83-1.27l0.11 0.92l0.62 0.41l0.31-1.04l0.63 1.1l0.2-1.68l0.32 1.35l0.62-1.33l0.52 0.28l0.21 1.19l0.52-0.96l0.21 1.57l0.62-1.56l0.31 1.48l0.42-0.22l0.41-0.84l0.21 0.13l0.11-0.64l0.93 0.26l0.11 0.7l0.72-1.27l0.42 1.69l0.21-1.16l0.52 0.97l0.41-1.96l0.32 1.67l0.62 1.14l0.1-2.06l1.04 1.53l0.11-1.57l0.41 0.22l0.52 0.74l0.11-0.88l0.73 1.53l0.2-1.41l0.42 0.99l0.73-0.88l0.31 1.03l0.31-1.06l0.52 1.49l0.31-1.77l0.42 1.14l0.21 0.04l0.41-1.28l0.52 0.25l0.42 2.08l0.31-1.09l0.73-0.64l0.1-0.76l0.11 1.39l0.73-0.87l0.2 1.3l0.94-0.97l0.21 0.9l0.52 0.21l0.31-1.22l0.52 0.86l0.1-1.31l0.94 1.02l0.1-0.44l0.32-0.11l0.52 1.08l0.31-0.06l0.21-1.37l1.04-0.17l0.31 1.61l0.1-0.37l0.31-1.2l0.63 2.13l0.31-1.5l0.83 0.76l0.21-1.04l0.62 0.19l0.21 1.2l0.31-1.37l0.21 0.98l0.73 0.76l0.1-1.69l0.52 1.37l0.52-1.7l0.73 0.15l0.21 1.6l0.31-1.58l0.42 1.6l0.41-1.08l0.42 1.07l0.31-1.18l0.31 1.14l0.94-0.1l0.21-1.13l0.41-0.28l0.11 1.46l0.62-1.33l0.21 1.83l0.62-1.79l0.11 1.9l1.04-2.52l0.1 1.92l0.31-1.45l0.73 1.58l0.21-1.33l0.1 1.9l0.84-0.8l0.1-1.34l0.83 1.83l0.21-2.15l0.31 2.33l0.63-1.49l0.31-0.27l0.41 0.85l0.73-0.89l0.21 1.58l0.52 0.05l0.42-1.92l0.62 1.79l0.21-1.25l0.1 1.2l0.73-1.98l0.31 1.9l0.21-1.39l0.42-0.12l0.72 1.62l0.73-0.15l0.11-1.18l0.2 1.35l0.32-2.02l0.52 0.86l0.52 1.12l0.52 0.09l0.1-1.74l0.52 1.31l0.52-1.54l0.62 1.48l0.21-0.81l0.52-0.27l0.21 1.34l0.42 0.2l0.52-1.12l0.2 1.07l0.63-1.6l0.52 1.7l0.21-1.14l0.31 0.92l0.73-1.53l0.31 1.48l0.41-2l0.21 0.73l0.42 1.67l0.83-0.36l0.1-1.29l0.32-0.14l0.52 1.7l0.62 0.28l0.31-1.72l0.42 1.45l0.1-1.48l0.63 1.34l0.1-1.38l1.25 0.06l0.1 1.26l0.11 0.37l0.52-1.24l0.31-0.05l0.73 0.96l0.2 0.36l0.21-1.53l1.04 0.22l0.21 0.72l0.21 0.28l0.52-1.16l0.21 0.06l0.72 1.53l0.32-0.38l0.2-1.56l0.52 0.6l0.42 1.42l0.31-1.63l0.52 1.51l0.42-1.68l0.31 1.34l0.52 0.05l0.21-1.36l0.52 2.19l0.62-1.87l0.21 1.18l0.52-0.75l0.31-0.77l0.52 2.32l0.52-0.62l0.11-2.03l0.72 1.67l0.32-0.76l0.31 0.72l0.41-1.29l0.42 1.12l0.21-1.18l0.62 2.15l0.73-1.62l0.31-0.51l0.21 1.92l0.52-0.44l0.21-1.25l0.83-0.09l0.31 1.86l0.21-0.43l0.21-1.21l0.62 2.24l0.42-2.26l0.52-0.01l0.31 1.41l0.73-1.6l0.41 1.45l0.32-1.28l0.52 0.94l0.1 0.78l0.31-1.28l0.52 0.98l0.11-1.7l1.14 1.51l0.31-0.85l0.11-0.21l0.31 0.89l0.83 0.5l0.1-1.2l0.42-0.03l0.31 1.17l0.52-1.41l0.63 1.19l0.41 0.57l0.31-1.36l0.52 1.49l0.11-2.14l0.62 0.23l0.42 1.52l0.93-0.22l0.11-1.09l0.21-0.19l0.1 1.53l0.62 0.21l0.52-2.11l0.63 0.64l0.21 1.88l0.52-0.18l0.1-1.37l0.83 0.35l0.21-1.01l0.83 1.27l0.21-1.39l0.52 2l0.1-1.61l0.42 1.69l0.1-1.96l0.73-0.09l0.42 1.18l0.83 0.57l0.1-0.54l0.52 0.59l0.11-1l0.52-0.81l0.41 2.19l0.42 0.04l0.52-1.65l0.52-0.37l0.42 1.91l0.31-0.08l0.21-1.97l0.62 0.31l0.52 1.53l0.62-0.42l0.21-1.22l0.11 0.14l0.2 1.44l0.63 0.44l0.21-1.53l0.93-0.21l0.42 1.34l0.21 0.14l0.62-1.04l0.21-1.42l0.31 2.24l1.04 0.36l0.1-1.64l0.32 0.32l0.2 1.06l0.73 0.17l0.42-1.69l0.41 2.17l0.21-2.36l0.52 2.33l0.21-1.94l0.42 0.25l0.2 0.96l0.63 0.03l0.31-1.12l0.83 0.65l0.31 1.1l0.52 0.15l0.11-2.7l1.04 0.52l0.1 1.41l0.42-0.94l0.41 1.48l0.32-1.74l0.41 1.65l0.31-0.43l0.21-1.13l0.63 0.24l0.41 0.92l0.83 0.51l0.21-1.52l0.21 1.32l0.52-1.71l0.42 1.38l0.31-0.74l0.41-0.41l0.21 1.74l0.73-1.49l0.52 1.71l0.1-1.82l0.11 1.81l0.83 0.01l0.52-1.66l0.21 1.39l0.73-1.23l0.31-0.08l0.31 1.87l0.52-2.84l0.21 1.98l0.73 0.25l0.1-1.1l0.52 1.19l0.62-0.86l0.42 0.99l0.42-1.02l0.52-0.18l0.2 1.54l0.32-1.16l0.52 1.07l0.2-1.62l0.11 1.28l0.83-0.42l0.31 1.14l0.52-0.04l0.21-1.94l0.62 1.31l0.63-1.22l0.1 1.74l0.42-2.23l0.41 1.79l0.42-1.32l0.42 0.21l0.62 1.32l0.52 0.47l0.42-1.75l0.1 0.08l0.31 1.85l0.94-0.94l0.1-1.04l0.52 0.27l0.31 1.12l0.32-0.74l0.52 0.59l0.41 0.25l0.11-1.59l0.62 0.42l0.31 1.57l0.63-1.75l0.2 2.31l0.63-2.35l0.31 1.36l0.52-0.29l0.52-1.15l0.31 1.46l0.52-1.04l0.42-0.23l0.41 1.83l0.21-1.17l0.11 0.96l0.72-1.85l0.52 1.79l0.73-1.08l0.21 1.21l0.52-0.01l0.31-1.35l0.73 1.76l0.21-1.15l0.21-1.02l0.52 1.99l0.31-0.35l0.62-0.87l0.63-0.4l0.1 2.03l0.42-0.8l0.31-1.26l0.52 1.84l0.52-1.27l0.52-0.56l0.31 1.33l0.31-1.39l0.52 1.53l0.21-0.93l0.1 1.27l1.04-1.27l0.11 0.99l0.62-1.14l0.42 1.26l0.1-1.54l0.42 1.53l0.41-1.49l0.63 1.25l0.62 0.34l0.31-0.91l0.11-0.33l0.62 1.15l0.73-0.03l0.1-1.45l0.32 1.78l0.41-1.4l0.31-0.49l0.42 2.06l1.04 0.16l0.1-1.65l0.21 1.27l0.31-1.65l0.73 1.78l0.31-1.48l0.52 2.55l0.32-2.43l0.41 1.2l0.31-2.1l0.42 0.52l0.1 1.54l0.84 0.59l0.41-1.27l0.63-0.39l0.31 1.06l0.52 0.47l0.21-2.02l0.2 1.85l0.32-1.74l0.72 1.71l0.11-1.6l0.73 0.26l0.1 1.11l0.94 1.33l0.31-2.2l0.31-0.81l0.42 2.26l0.83-1.69l0.1 1.41l0.11-1.18l0.72 1.37l0.32-1.65l0.41 1.9l0.21-1.81l0.42 1.66l0.83-1.91l0.1 1.61l0.73-1.11l0.21 1.18l0.41-1.21l0.42 1.47l0.31-1.53l0.21 1.55l0.62 0.02l0.42-1.11l0.83 0.03l0.21 0.95l0.1 0.21l0.11-1.21l0.83 0.28l0.62 1.57l0.32-1.5l0.52 1.02l0.1-0.53l0.42-1.11l0.52 1.31l0.62-0.97l0.52 0.68l0.1-0.85l0.42-0.21l0.52 1.6l0.31-1.14l0.11 0.8l0.93 0.67l0.11-1.8l0.72 0.89l0.32-0.82l0.52 0.43l0.2 1.37l0.73-1.39l0.11 0.84l0.83-1.02l0.1 1.29l0.21-0.32l0.1-1.05l0.94 0.05l0.31 1.13l0.31 0.06l0.63-1.31l0.21 1.67l0.62-1.24l0.62 0.76l0.11-1.1l0.62 1.68l0.21-1.12l0.52-0.46l0.21 1.19l0.62 0.21l0.21-1.53l0.62 0.36l0.11 1.31l0.62-0.94l0.11 0.79l1.14-1.19l0.21 1.12l0.62-1.25l0.21 1.1l0.31-0.91l0.52 1.49l0.73 0.03l0.1-1.74l0.42 0.11l0.31 1.15l0.42-1.12l0.41 1.9l0.21-2.13l0.73 2.17l0.1-1.72l0.52 1.23l0.42-1.22l0.21 0.87l0.93-0.98l0.21 1.63l0.31-0.11l0.21-1.68l0.63 0.21l0.52 1.18l0.2-1.22l0.63 1.34l0.31 0.08l0.31-1.42l0.52-0.17l0.52 1.49l0.31-0.07l0.11-1.25l0.73 1.75l0.41-1.61l0.42-0.05l0.41 1.45l0.63-0.51l0.1-1.16l0.42 0.24l0.52 1.61l0.31-0.3l0.52-1.2l0.52 0.08l0.31 1.34l0.63 0.26l0.1-1.51l0.52 0.4l0.42 0.59l0.41 0.13l0.52-0.76l0.52 1.59l0.31-2.21l0.21 0.3l0.52 1.28l0.31-0.09l0.63-1.4l0.73 2.02l0.2-2.17l0.21 2.22l0.31-1.55l0.52-0.06l0.21 1.57l0.52 0.15l0.52-1.81l0.63 1.26l0.31-1.06l0.21-0.35l0.72 1.5l0.32 0.44l0.1-1.94l0.52 1.22l0.73-1.01l0.31 0.35l0.1 0.69l0.84 0.32l0.41-1.08l0.63 0.91l0.1-0.91l0.42 1.57l0.1-2.44l0.94 1.75l0.1-1.08l0.42-0.48l0.41 2.28l0.63-0.45l0.41-1.04l0.52 1.72l0.31-1.95l0.52 0.3l0.32 1.38l0.2-2.14l0.52 1.54l0.52-0.98l0.11 1.28l0.41-0.33l0.52-1.19l0.42 0.21l0.31 1.45l0.73-1.94l0.21 1.88l0.52-0.06l0.52-0.78l0.41 0.77l0.21-1.3l0.31 0.4l0.52 0.76l0.32 0.04l0.52-1.47l0.41 0.18l0.11 1.41l0.72-1.51l0.52 1.46l0.21 0.21l0.52-1.47l0.31-0.03l0.32 1.46l0.62-1.39l0.21 1.45l0.62-0.15l0.21-1.31l0.52 0.54l0.73 1.03l0.31-1.33l0.21 1.24l0.41 0.14l0.73-1.49l0.11 0.16l0.52 1.3l0.62-0.27l0.1-1.1l0.42 1.17l0.62-1.42l0.42-0.04l0.21 1.25l0.41-1.39l0.11 1.44l1.35-1.33l0.1 1.27l0.73-1.64l0.11 2.08l0.1-0.48l0.31-1.15l0.73 1.62l0.1-1.37l0.63 0.21l0.21 0.84l0.62-1.11l0.21 2.18l0.83-2.2l0.31 1.46l0.83-1.73l0.11 1.37l0.41-0.04l0.42-0.87l0.31-0.25l0.42 1.26l0.21-0.12l0.41-1.37l0.83 1.6l0.32-1.57l0.41 0.57l0.21 0.66l0.42 0.13l0.41-0.66l0.52-0.3l0.21 1.43l0.42 0.34l0.52-1.69l0.93 0.01l0.11 1.19l0.72-1.95l0.11 2.11l0.1-0.44l0.11-1.62l0.72 1.54l0.32-0.6l0.83 1.06l0.31-1.56l0.52 1.29l0.1-1.22l0.63 1.66l0.52-1.58l0.62 1.46l0.11-1.31l0.62 1.52l0.31-2.27l0.52 1.73l0.11-0.6l0.83-0.46l0.1 2.03l0.63-0.64l0.31-1.42l0.21-0.78l0.62 2.69l0.73 0.36l0.1-1.77l0.11-0.29l0.31 0.83l0.52-1.21l0.31 2.27l0.83-0.93l0.42-1.28l0.1 0.16l0.21 1.68l0.94-1.6l0.1 1.37l0.52 0.37l0.1-1.47l0.63 0.01l0.31 1.2l0.73-0.92l0.41 0.77l0.84-1.41l0.1 1.5l0.52-1.39l0.31 0.97l0.31 0.09l0.11-0.78l1.04 1.48l0.1-1.31l0.21-0.03l0.31 1.3l0.94-0.39l0.31-1.43l0.52 0.56l0.1 0.7l0.32-1.15l0.72 0.94l0.11 0.54l0.31-1.03l0.73-0.05l0.52 2l0.21-2.67l0.1 2.07l0.62-1.63l0.21 1.3l0.63-1.65l0.31 1.52l0.62 0.23l0.63-1.68l0.31 0.52l0.1 0.77l1.04-0.62l0.21 1.39l0.1-1.99l0.73 1.35l0.21 0.09l0.1-1.13l0.94 0l0.21 2.06l0.31-1.56l0.62 0.69l0.21 0.18l0.31-1.35l0.63-0.22l0.41 1.4l0.63 0.23l0.21-1.48l0.72 0.51l0.32 1.45l0.1-0.85l0.73-0.72l0.52 1.22l0.21-1.37l0.2-0.59l0.42 2.18l0.42-1.98l0.62 1.76l0.62-1.81l0.11 1.73l0.73-1.07l0.31 1.65l0.62-1.96l0.11 1.49l0.31-1.63l0.31 1.68l0.42-1.22l0.52 0.96l0.93-1.05l0.11 1.24l0.2-1.36l0.11 1.02l0.83 0.13l0.52-1.48l0.52 0.11l0.1 1.37l0.32 0.36l0.41-1.24l0.52 1.24l0.21-1.78l0.73 0.27l0.21 1.47l0.72-1.25l0.21 0.86l0.42 0.27l0.21-1l0.83 1.11l0.41-1.32l0.11 1.58l0.52-1.66l0.73 1.28l0.1-1.46l0.62 1.31l0.11-0.89l0.73 0.72l0.2-1.27l0.84 2.02l0.2-2.25l0.32 1.29l0.52-0.74l0.2-0.21l0.32 1.32l0.62-1.47l0.42 1.51l0.72 0.28l0.21-0.99l0.21-0.48l0.62 0.91l0.11-1.18l0.52 1.53l0.83 0.16l0.1-1.79l0.32 1.52l0.52-1.26l0.52 1.41l0.41-1.17l0.21 0.06l0.62 0.8l0.42-1.06l0.1 1.64l0.52 0.09l0.32-1.43l0.52-0.24l0.62 1.54l0.42 0.1l0.31-1.72l0.21 0.08l0.31 1.18l0.52 0.85l0.31-1.7l0.73-0.36l0.41 1.09l0.32 0.05l0.41-1.61l0.31 1.67l0.42-1.14l0.42 1.64l0.41-1.7l0.63 0.13l0.2 0.94l0.63 0.78l0.41-2.02l0.42 1.47l0.31-1.06l0.42-0.56l0.62 1.91l0.11-0.42l0.52-1.27l0.41 0.54l0.11 0.67l1.04-0.45l0.1 0.36l0.62-0.83l0.11 1.33l0.62-1.41l0.52 1.6l0.11-1.34l0.41 1.36l0.83 0.05l0.32-1.59l0.2-0.4l0.42 1.43l0.42-0.93l0.52 0.93l0.31-1.06l0.41 1.2l0.94-0.98l0.1 1.62l0.11-1.63l0.62 1.33l0.63-1.08l0.2 0.8l0.42-0.23l0.31-1.15l0.52 0.23l0.31 1.32l0.63-1.59l0.1 1.41l0.63-0.78l0.31 0.65l0.83 1.03l0.21-1.85l0.41 0.4l0.32 1.04l0.52-1.29l0.2 0.94l0.42-1.12l0.1 1.15l0.84-1.52l0.52 1.68l0.72-1.01l0.11 1.21l0.21-1.75l0.31 1.49l0.62-1.09l0.52 0.79l0.31-1.08l0.21 1.34l0.73 0.21l0.31-1.2l0.31-0.53l0.63 2.01l0.1-1.73l0.11 1.71l1.35-1.8l0.1 1.31l0.21-0.16l0.42-1.46l0.31 1.68l0.73-1.42l0.41 1.28l0.11-2.15l0.72 1.95l0.32-1.18l0.41 2.09l0.21-1.49l0.83-0.05l0.21 1.11l0.42-0.07l0.31-1.87l0.41 0.62l0.21 1.34l0.63-1l0.2 0.9l0.94-0.18l0.1-1.35l0.52 1.74l0.32-2.06l0.52 0.54l0.2 1.25l0.42-1.05l0.21 0.68l0.93 0.7l0.32-2l0.31-0.16l0.41 2.33l0.42-0.38l0.42-2.18l0.83 0.32l0.21 1.67l0.41 0.81l0.31-1.61l0.42 0.05l0.31 1.24l0.94-0.72l0.1-0.81l0.21 0.16l0.1 1.19l0.73-1.58l0.52 1.38l0.42-1.23l0.52 1.6l0.1-2.41l0.21 1.7l0.73 0.04l0.21-1.04l0.62 1.92l0.42-1.4l0.52-0.46l0.41 1.03l0.73-0.66l0.1 1.07l0.63-0.32l0.31-0.86l0.31-0.4l0.11 1.62l0.52-1.21l0.62 1.8l0.62-0.44l0.11-1.33l0.41 1.13l0.42-1.03l0.31 0.97l0.63-2.2l0.72 2.47l0.11-1.57l0.73 1.5l0.1-0.76l0.21-0.62l0.21 1.39l1.04-1.02l0.2 1.04l0.73-0.06l0.21-1.73l0.1 0.1l0.32 1.57l0.62-1.58l0.31 1.31l0.63-0.72l0.1 1.22l0.52-0.43l0.31-0.88l1.15-0.36l0.1 1.26l0.21-1.67l0.31 1.31l0.52-0.53l0.31 1.39l0.73-0.13l0.31-1.62l0.52 2.08l0.42-2.22l0.73 1.4l0.1-1.03l0.21-0.25l0.52 1.9l0.52 0.68l0.21-2.14l0.41 1.64l0.52-1.92l0.63-0.27l0.31 1.63l0.41 0.35l0.42-1.83l0.73 0.32l0.1 1.09l0.31-0.73l0.11 1.28l0.73 0.06l0.2-1.92l0.73 0.54l0.21 0.7l0.73-1.5l0.21 2.24l0.41-0.33l0.52-1.22l0.63 1.37l0.2-1.46l0.11 0.9l0.1-1.14l0.94 1.02l0.31-1.2l0.73 1.84l0.31-1.81l0.52 1.75l0.1-1.59l0.42 0.09l0.31 1.07l0.63-1.3l0.52 1.86l0.62-0.34l0.21-1.52l0.31-0.3l0.52 2.41l0.21-2.49l0.1 2.13l0.63-1.59l0.62 1.3l0.31-1.4l0.42 1.01l0.31-0.98l0.62 1.69l0.32-1.74l0.52 1.7l0.41-0.44l0.42-1.14l0.31 1.5l0.31-1.99l1.04 1.62l0.11-1.32l0.1 1.69l0.1-1.21l0.73-0.45l0.73 1.82l0.42-0.28l0.2-1.2l0.42 0.1l0.31 1.3l0.52-0.28l0.21-1.15l0.62 1.29l0.11-1.03l0.83 1.92l0.31-1.88l0.52-0.17l0.31 1.41l0.42-1.41l0.52 1.86l0.21-2.13l0.62 1.25l0.52-0.16l0.31-0.6l0.42 0.88l0.31-1.57l0.73 1.76l0.1-1.47l0.42 1.22l0.21-1.02l1.14-0.17l0.11 1.46l0.2 0.68l0.42-2.61l0.42 0.03l0.1 1.66l0.94-1.02l0.31 1.02l0.21-1.11l0.52 1.66l0.41-0.98l0.11-1.14l0.93 2.17l0.31-1.87l0.63 0.27l0.31 1.06l0.42 0.69l0.41-2.1l0.21 2.09l0.1-2.02l0.63 1.56l0.41-0.97l0.42 1.11l0.21-1.77l0.83 0.11l0.42 1.51l0.2-1.34l0.11 1.32l0.73 0.63l0.2-1.85l1.04 1.95l0.21-1.99l0.21 0.88l0.73-1.02l0.21 1.93l0.62-2.52l0.1 2.14l0.42-1.04l0.42-0.9l0.2 1.32l0.73 0.27l0.31-1.41l1.04 2.23l0.11-2.57l0.41 0.87l0.21 2.08l0.73-0.18l0.1-1.81l0.42 1.46l0.52-1.74l0.52 1.29l0.31-0.92l0.63 0.87l0.1-1.65l0.42 1.55l0.41-1.44l0.31 0.36l0.32 1.27l0.52-1.67l0.72 1.55l0.32-1.3l0.31 1.93l0.52-0.14l0.41-1.74l0.42 0.91l0.52-0.95l0.31 0.2l0.52 0.89l0.11-1.82l0.52 2.52l0.83-0.33l0.21-1.3l0.2-0.27l0.52 1.74l0.84 0.06l0.1-1.42l0.21-0.3l0.52 1.97l0.73-2.38l0.2 1.64l0.21-0.94l0.11 1.14l0.83-1.37l0.52 1.19l0.41-1.03l0.42 1.52l0.21-0.03l0.41-1.25l0.52 1.14l0.11-1.71l0.62-0.47l0.11 2.36l0.62-1.79l0.62 1.29l0.52-1.54l0.42 1.68l0.1 0.2l0.73-1.2l0.42-0.19l0.41 1.3l0.21-1.08l0.31 1.21l0.84 0.39l0.2-1.41l0.21 1.42l0.31-2.14l0.63 1.19l0.41-1.01l0.63-0.13l0.31 1.57l0.42 0.64l0.41-1.91l0.21-0.59l0.31 1.65l0.63 0.49l0.41-1.18l0.31-0.4l0.52 1.41l0.32-1.42l0.31 1.61l0.83-0.16l0.1-1.08l0.52 0.98l0.11-1.66l0.93 0.36l0.11 1.12l0.41-1.01l0.63 1.2l0.52-1.83l0.31 1.66l0.83 0.55l0.11-2.18l0.52 1.21l0.31-0.58l0.31-0.33l0.31 1.52l0.42-1.12l0.31 1.39l0.42-1.56l0.62 1.34l0.42-0.26l0.31-1.43l0.93-0.04l0.11 1.58l0.21-1.27l0.2 1.95l0.52-2.4l0.11 2.05l0.73-1.59l0.2 1.01l0.73-0.78l0.52 1.93l0.63-2.94l0.2 2.29l0.63-1.82l0.1 1.97l0.52-1.13l0.31 1.37l0.42-0.56l0.42-1.04l0.41 1.3l0.11-1.53l0.62 1.05l0.52-1.11l0.73 1.52l0.31-1.19l0.21 0.99l0.52-1.75l0.31-0.02l0.1 2.05l1.04-0.46l0.11-1.47l0.31-0.15l0.42 2.09l0.41-0.91l0.73 0.95l0.1-1.68l0.73 2.04l0.31-1.78l0.52 0.75l0.42 0.89l0.1-1.65l0.52-0.21l0.52 1.99l0.42-0.33l0.52-1.99l0.52 2.17l0.31-1.54l0.21 1.55l0.42-1.34l0.31 1.14l0.62-1.15l0.73-0.25l0.21 1.27l0.73 0.04l0.1-1.65l0.1-0.08l0.32 1.74l0.83-0.12l0.31-1.15l0.21-0.55l0.73 1.98l0.2-0.18l0.11-0.84l0.62-0.65l0.73 1.53l0.21-0.01l0.52-1.14l0.21-0.83l0.72 2.12l0.32-0.37l0.1-1.04l0.62 1.14l0.32-1.24l0.41 0.75l0.42-1.25l0.62 0.44l0.21 1.55l0.52 0.37l0.52-1.61l0.62-0.17l0.11 1.63l0.52-0.27l0.52-1.27l0.31 0.9l0.42-1.85l0.52 2.26l0.41-1.9l0.31 0.26l0.32 1.95l0.62-1.52l0.1 1.02l0.63-1.26l0.31 1.93l0.42-1.39l0.52 0.95l0.31 0.07l0.52-1l0.62-0.53l0.31 1.73l0.11 0.26l0.41-2.16l0.94 1.7l0.21-1.25l0.21 1.4l0.2-1.34l1.04-0.76l0.11 2.15l0.31-0.45l0.42-1.36l0.52 0.02l0.2 1.84l0.52-1.68l0.42 1.55l0.73 0l0.31-1.81l0.21 0.35l0.62 1.66l0.52-1.75l0.31 1.99l0.11-1.9l0.62 1.19l0.31-1.41l0.42 1.81l0.62-1.34l0.21 0.76l0.63 0.55l0.1-1.65l0.83 0.33l0.11 1.3l0.31-1.81l0.52 1.42l0.41-1.7l0.42 1.27l0.42-0.87l0.62 1.15l0.42-0.01l0.1-1.19l0.42-0.09l0.31 1.76l0.73-0.35l0.52-1.42l0.52 1.86l0.1-1.31l0.31-0.51l0.63 1.7l0.62-0.34l0.31-1.02l0.31 1.96l0.21-1.88l0.63-0.02l0.31 0.87l0.41-0.99l0.11 1.62l0.83-1.31l0.31 1.21l0.42 0.04l0.21-1.43l0.52 1.36l0.41-1.17l0.42-0.59l0.41 1.54l0.94-1.61l0.1 1.79l0.21-1.77l0.52 1.74l0.63-1.35l0.31 1.82l0.31-2.34l0.1 1.4l0.84 0.74l0.31-1.88l0.52 0.29l0.31 1.49l0.73-2.24l0.31 1.75l0.42-1.38l0.31 1.42l0.52 0.15l0.41-1.02l0.21 1.1l0.31-1.8l0.42 2.16l0.21-2.39l0.62 2.17l0.11-2.09l0.72 1.87l0.32-1.64l0.62 0.3l0.21 1.3l0.73-1.19l0.2 1.58l0.94-0.81l0.1-1.31l0.52 0.75l0.21 1.33l0.42-1.43l0.52 1.38l0.21-1.34l0.52 1.33l0.31-1.83l0.21 1.25l0.62-0.45l0.42 0.65l0.83-1.15l0.21 1.27l0.41 0.47l0.11-1.82l0.83 1.1l0.41-1.13l0.42 0.27l0.31 1.33l0.31 0.53l0.21-2.33l0.83 0.32l0.32 1.35l0.2 0.01l0.52-1.59l0.32 1.93l0.1-2.11l0.73 1.74l0.52-1.58l0.31 1.63l0.73-1.51l0.41 1.66l0.11-1.28l0.52 1.3l0.21-1.57l0.62-0.42l0.52 1.77l0.21 0.25l0.31-0.98l0.62 0.77l0.52-1.23l0.52-0.51l0.21 2.16l0.73-0.38l0.1-1.69l0.63 2.61l0.41-2.61l0.32 0.49l0.31 1.63l0.52-0.65l0.52-1.59l0.21 1.38l0.1-1.07l0.83 0.21l0.11 0.91l1.04-1.21l0.1 1.4l0.42-1.14l0.2 1.05l0.42 1.07l0.42-2.3l0.41 0.01l0.11 1.73l0.72-1.3l0.21 1.11l0.83-1.2l0.21 0.69l0.83 0.63l0.21-1.28l0.21-0.02l0.73 1.16l0.31 0.22l0.1-1.23l0.73-0.6l0.21 1.35l0.52-1.23l0.31 2.03l1.04-0.24l0.11-1.59l0.31-0.06l0.31 1.71l0.31-0.4l0.42-0.69l0.52-0.96l0.41 1.32l0.73 0.51l0.11-1.7l0.52 1.82l0.41-1.79l0.31 0.59l0.63 1.27l0.62-1.48l0.11 1.36l0.62 0.06l0.1-1.69l0.84 0.55l0.2 1.06l0.11-1.27l0.52 1.02l0.93 0.26l0.11-1.28l0.31-0.09l0.52 1.24l0.52 0.06l0.21-1.18l0.21-0.17l0.52 1.36l0.41-1.2l0.11 1.94l0.93-0.68l0.21-0.93l0.52 0.95l0.31-1.77l0.31 1.67l0.52-1.31l0.84 1.22l0.2-1.66l0.21-0.11l0.31 2.17l0.42-0.37l0.21-0.74l0.73 0.96l0.1-1.38l0.94 1.48l0.41-2.35l0.11 2.41l0.52-1.95l0.52 0.76l0.2 1.79l0.73-0.39l0.21-2.14l0.52-0.12l0.31 1.85l0.31-0.42l0.11-0.94l0.83 1.23l0.52-1.81l0.42 0.65l0.1 1.75l0.83-1.45l0.21 1.41l0.31-1.82l0.31 1.38l0.94-1.19l0.31 1.22l0.52 0.32l0.11-1.83l0.31 1.32l0.1-1.28l0.83 1.66l0.21-1.16l0.73 1.82l0.42-2.41l0.31 0.28l0.21 1.54l0.52-0.38l0.1-1.43l1.25 1.72l0.1-1.65l0.63 1.57l0.2-1.71l0.52 0.35l0.21 1.82l0.42-0.82l0.31-1.17l0.73 1.78l0.1-1.9l0.73 1.18l0.21-0.96l0.41 1.75l0.42-1.47l0.31 0.84l0.52-1.12l0.63 1.44l0.31-1.64l0.62 0.14l0.11 1.77l0.52-1.24l0.41 1.81l0.52-1.55l0.42-0.76l0.41-0.13l0.42 1.33l0.1 0.26l0.32-1.57l0.93 1.29l0.31-1.08l0.11 1.47l0.73-1.1l0.2 0.94l0.52-0.99l0.32-0.24l0.62 1.13l0.21-0.07l0.31-1l0.42 0.12l0.62 1.32l0.52-0.18l0.31-1.64l0.42 1.55l0.21-1.88l0.52 0.76l0.62 1.58l0.62-1.47l0.21 1.21l0.52-1.22l0.11 1.28l0.31-1.7l0.1 1.32l0.73-1.38l0.31 1.7l0.63-1.64l0.62 1.62l0.1-1.61l0.42 1.35l0.62-0.99l0.11 0.84l0.73-0.83l0.1 0.86l0.73 0.45l0.31-2.2l0.62 1.69l0.21-0.89l0.52-0.53l0.42 1.18l0.31 0.61l0.31-1.69l0.94 1.56l0.1-1.07l0.83-0.19l0.11 1.66l0.52-1.48l0.31 1.23l0.31-1.15l0.42 1.47l0.21-1.6l0.1 2.49l0.83-0.91l0.31-1.43l0.94 0.97l0.1-0.96l0.52 0.21l0.21 1.27l0.63-0.16l0.31-1.28l0.73-0.01l0.1 1.87l0.31-0.94l0.31-0.92l0.84 1.31l0.31-2.05l0.1 0.6l0.11 1.24l0.72-1.59l0.52 1.26l0.42 0.61l0.21-1.47l0.73 0.67l0.2-1.24l0.63 2.2l0.1-1.75l0.73 0.06l0.42 1.51l0.2-1.16l0.63 0.7l0.62-1.03l0.11 1.01l0.31 0.71l0.1-2.19l1.15 2.45l0.31-1.39l0.21-0.08l0.41 1.16l0.31 0.02l0.11-1.59l0.73 1.21l0.72-1.44l0.11 1.38l0.41-1.14l0.42 1.74l0.73-1.52l0.21-0.22l0.1 1.02l1.04 0.06l0.31-0.71l0.21 0.71l0.31-1.82l0.52 1.57l0.42-0.94l0.31 0.91l0.1-0.59l0.84 0.91l0.1-1.04l0.94 1.52l0.2-1.69l0.52 2l0.42-2.3l0.42 1.74l0.41-1.01l0.42 1.05l0.52-1.21l0.73-0.48l0.1 1.8l0.62-0.14l0.21-1.12l0.11-0.48l0.62 1.19l0.21-1.06l0.21 1.46l0.62-0.34l0.62-1.34l0.21 1.54l0.52-1.48l0.31-0.22l0.11 1.45l1.04 0.55l0.41-1.72l0.11 0.4l0.73 1.41l0.31-1.22l0.31 1.14l0.31-1.06l0.31 0.92l1.15-0.06l0.1-1.19l0.73-0.6l0.1 2.39l0.11 0.02l0.1-2.18l0.83 1.9l0.32-1.5l0.52 0.21l0.31 1.01l0.93-0.68l0.21-0.85l0.11-0.19l0.31 1.54l0.52-1.36l0.1 1.3l0.83 0.04l0.32-1.31l0.52 1.67l0.62-1.62l0.1-0.13l0.73 1.99l0.21-0.61l0.31-0.76l0.63 0.82l0.2-1.25l0.52-0.39l0.42 1.9l0.31-1.55l0.42 0.98l0.73-1.15l0.1 1.47l0.83-0.1l0.31-1.39l0.21 1.7l0.21-1.25l0.83 0.71l0.21-1.12l0.73 2.89l0.1-2.81l0.83 0.15l0.21 1.42l0.21-1.14l0.21 1.54l0.73-0.75l0.2-1.68l0.73 0.29l0.21 1.19l0.83 0.72l0.21-1.97l0.31 0.29l0.42 1.38l0.21-1.17l0.72 1.11l0.21 0.55l0.52-2.01l0.31 0.15l0.32 1.5l0.41-0.18l0.52-1.12l0.52 0.62l0.52-0.84l0.42 1.01l0.41-1.24l0.32 1.67l0.31-0.98l0.83-0.34l0.1 1.19l0.21 0.1l0.52-1.26l0.31 1.43l0.21-1.55l0.73 0.83l0.62-1.45l0.52 0.22l0.32 2.04l0.41-1.38l0.11 1.11l0.62 0.39l0.42-2.28l0.31 2.12l0.62-1.23l0.52 0.99l0.11-1.53l0.41 1.88l0.52-1.15l0.63-0.37l0.2 1.17l0.21 0.04l0.73-1.27l0.31-0.28l0.31 1.65l0.42 0.16l0.62-1.56l0.52 1.57l0.11-1.61l0.41-0.04l0.63 1.43l0.21 0.52l0.41-1.06l0.31-0.56l0.11 1.21l1.04-0.3l0.21-1.26l0.31 1.38l0.21-0.93l0.62 0.98l0.52-1.21l0.31-0.3l0.31 1.87l0.63-1.79l0.41 1.96l0.94-1.16l0.1 1.38l0.11-0.34l0.21-1.15l0.62-0.61l0.52 1.35l0.62 0.16l0.11-1.9l0.52 0.9l0.62 0.53l0.11-1.01l0.72 2.14l0.42 0.28l0.21-2.25l0.31 1.24l0.73-1.02l0.21 1.16l0.52-0.83l0.52-0.54l0.41 1.19l0.11 0.33l0.72-1.82l0.32 1.68l0.2-1.45l0.63 1.5l0.31-1.64l0.42-0.22l0.41 2.16l0.63-1.56l0.31 1.49l0.73-1.62l0.1 1.77l0.31-2.02l0.31 1.22l0.52-0.83l0.11 1.3l0.93-0.5l0.11-1.27l0.41 1.84l0.21-1.51l0.63 1.51l0.1-1.22l0.73 1.08l0.21-1.29l0.62-0.17l0.62 0.82l0.63-0.26l0.21 1.43l0.62-1.76l0.31 1.14l0.31-1.57l0.32 1.91l0.52-2.07l0.31 2.24l0.31-0.41l0.21-1.4l0.62 0.88l0.63-0.66l0.41-0.58l0.21 1.51l0.62-1.28l0.42 1.52l0.31-0.12l0.42-1.48l0.52 1.55l0.31-1.44l0.52 1.39l0.31-1.25l0.52 0.41l0.52 1.04l0.31-1.31l0.21 1.03l0.63-1.22l0.1 1.1l0.52-1.12l0.73 1.51l0.31 0.09l0.52-1.61l0.62 2.05l0.21-1.82l0.21-0.19l0.62 0.65l0.32 0.49l0.2-1.56l0.73 0.24l0.42 1.23l0.21 0.53l0.31-1.67l0.73 1.45l0.31-2.05l0.31 2.29l0.62-1.65l0.11 0.14l0.41 1.41l0.94-2.22l0.1 1.82l0.63-1.31l0.1 1.83l0.52-0.17l0.11-1.04l0.83 0.79l0.31-1.43l0.42 1.55l0.52-1.66l0.1 0.22l0.1 1l0.84-0.78l0.31 1.21l0.52-1.71l0.52 1.78l0.21 0.31l0.52-1.94l0.62 0.34l0.31 1.6l0.42-0.54l0.31-1.68l0.42 0.61l0.62 1.07l0.21-0.93l0.62 1.38l0.21-1.56l0.52 1.83l0.52-2.24l0.21 2.16l0.52 0.07l0.41-2.08l0.21 2.34l0.42-2.06l0.41 1.61l0.32-1.14l0.72 1.18l0.32-1.56l0.52 0.02l0.2 1.7l0.52-2.01l0.42 1.71l0.52-1.83l0.52 1.66l0.62-1.15l0.21 0.78l0.11-1l0.2 1.55l0.63-1.92l0.52 2.04l0.62-0.47l0.11-1.39l0.52 0.48l0.2 1.3l0.84 0l0.2-1.39l0.32 0.67l0.62-0.88l0.31 0.15l0.42 0.89l0.41-1.29l0.11 2.29l0.62-2.12l0.42 1.34l1.04 0.26l0.1-1.1l0.52 1.17l0.11-0.69l0.31-0.65l0.52 1.44l0.31 0.77l0.62-1.86l0.21 1.11l0.63-1.44l0.31-0.27l0.52 1.34l0.31 0.2l0.52-1.37l0.52 1.02l0.1-0.98l0.42 0.27l0.62 0.58l0.32-0.92l0.62 1.65l0.52 0l0.21-1.44l0.31 1.34l0.42-1.15l0.83 1.42l0.1-1.28l0.21 1.15l0.52-1.58l0.73 1.38l0.21-1.23l0.31 1.02l0.62-0.9l0.42 1.35l0.1-1.4l0.73-0.19l0.21 1.7l0.73-0.27l0.31-1.01l0.31-0.58l0.42 1.34l0.2 0.55l0.63-1.67l0.31 0.07l0.1 1.6l0.84-0.7l0.31-0.85l0.31-0.01l0.1 0.76l0.73-1.46l0.73 1.83l0.1-0.75l0.11 1.25l0.93-0.51l0.21-1.91l0.42 0.73l0.1 2.2l1.25-2.02l0.21 1.65l0.62-2.36l0.11 2.15l0.72 0.05l0.11-2.1l0.31 2.22l0.21-1.63l0.62-0.52l0.52 1.9l0.63-1.64l0.31 1.32l0.21-1.68l0.52 1.72l0.2-1.23l0.63 1.36l0.31-0.01l0.52-1.61l0.21 0.61l0.31 1.49l0.52-0.1l0.1-1.42l1.25-0.75l0.21 1.62l0.42 0.12l0.2-1.56l0.42 0.09l0.62 1.25l0.63 0.41l0.21-1.81l0.1 1.75l0.31-1.61l0.83 1.94l0.21-2.24l0.94 0.42l0.1 0.97l0.11-1.05l0.72 1.23l0.21-0.1l0.21-0.82l0.52 2.12l0.42-2.26l0.62 0.97l0.1-0.88l1.15 1.76l0.1-1.92l0.11 1.69l0.1-1.19l0.94 1.14l0.1-1.19l1.14-0.14l0.11 1.4l0.1-1.54l0.42 1.62l0.62-0.27l0.11-1.17l0.62 1.06l0.52-1.31l0.62 1.32l0.21-1.53l0.42 1.58l0.1-1.71l0.94 1.65l0.1-1.08l0.42 0.54l0.21-0.54l0.93 1.35l0.31-1.64l0.63-0.58l0.21 1.97l0.2-0.25l0.11-1.39l1.04 0.53l0.31 1l0.73-1.78l0.1 1.71l0.21 0.21l0.42-1.52l0.31 1.29l0.1-1.42l1.04 0.48l0.42 1.01l0.1-1.07l0.42 1.43l0.93-0.17l0.21-0.71l0.21-0.41l0.52 1.21l0.52-1.37l0.1 1.1l0.63-1.69l0.1 1.86l0.52-1.55l0.52 1.16l0.31 0.55l0.11-1.52l0.83 1.3l0.42-1.19l0.52-0.5l0.1 1.96l1.04-1.51l0.21 1.19l0.52-1.49l0.1 1.94l0.52-1.62l0.31 1.54l0.63 0.11l0.21-1.86l0.31 0.24l0.73 1.48l0.1-0.31l0.62-1.46l0.84 0.42l0.1 1.06l0.62-0.02l0.21-1.11l0.21-0.04l0.31 0.73l0.42 0.84l0.41-1.9l0.63 0.14l0.1 1.75l0.52-1.5l0.11 1.85l0.72-0.04l0.32-2.33l0.62 0.34l0.31 1.53l0.73-1.2l0.21 0.75l0.52 0.42l0.52-1.8l0.31 0.02l0.42 1.51l0.62-1.79l0.1 2.02l0.52-1.94l0.32 1.45l0.62 1.04l0.42-1.91l0.1 0.74"/>
</g>
<path class="sp" d="M69.5 340.5H1213.5V632.5H69.5Z"/>
<path class="tk" d="M121.5 632.5v4.86"/><text class="t" x="120.9" y="653" text-anchor="middle">0</text>
<path class="tk" d="M329.5 632.5v4.86"/><text class="t" x="328.9" y="653" text-anchor="middle">2000</text>
<path class="tk" d="M537.5 632.5v4.86"/><text class="t" x="536.9" y="653" text-anchor="middle">4000</text>
<path class="tk" d="M745.5 632.5v4.86"/><text class="t" x="744.9" y="653" text-anchor="middle">6000</text>
<path class="tk" d="M953.5 632.5v4.86"/><text class="t" x="952.9" y="653" text-anchor="middle">8000</text>
<path class="tk" d="M1161.5 632.5v4.86"/><text class="t" x="1160.9" y="653" text-anchor="middle">10000</text>
<path class="tk" stroke-width=".83" d="M69.5 631.5h-2.78"/><path class="tk" stroke-width=".83" d="M69.5 627.5h-2.78"/><path class="tk" stroke-width=".83" d="M69.5 623.5h-2.78"/><path class="tk" stroke-width=".83" d="M69.5 619.5h-2.78"/><path class="tk" stroke-width=".83" d="M69.5 617.5h-2.78"/><path class="tk" d="M69.5 614.5h-4.86"/><text class="t" x="58.7" y="620.9" text-anchor="end">10<tspan dy="-5.3" style="font-size:9.722px">−4</tspan></text>
<path class="tk" stroke-width=".83" d="M69.5 597.5h-2.78"/><path class="tk" stroke-width=".83" d="M69.5 587.5h-2.78"/><path class="tk" stroke-width=".83" d="M69.5 580.5h-2.78"/><path class="tk" stroke-width=".83" d="M69.5 575.5h-2.78"/><path class="tk" stroke-width=".83" d="M69.5 570.5h-2.78"/><path class="tk" stroke-width=".83" d="M69.5 566.5h-2.78"/><path class="tk" stroke-width=".83" d="M69.5 563.5h-2.78"/><path class="tk" stroke-width=".83" d="M69.5 560.5h-2.78"/><path class="tk" d="M69.5 558.5h-4.86"/><text class="t" x="58.7" y="564.9" text-anchor="end">10<tspan dy="-5.3" style="font-size:9.722px">−3</tspan></text>
<path class="tk" stroke-width=".83" d="M69.5 540.5h-2.78"/><path class="tk" stroke-width=".83" d="M69.5 531.5h-2.78"/><path class="tk" stroke-width=".83" d="M69.5 523.5h-2.78"/><path class="tk" stroke-width=".83" d="M69.5 518.5h-2.78"/><path class="tk" stroke-width=".83" d="M69.5 514.5h-2.78"/><path class="tk" stroke-width=".83" d="M69.5 510.5h-2.78"/><path class="tk" stroke-width=".83" d="M69.5 506.5h-2.78"/><path class="tk" stroke-width=".83" d="M69.5 504.5h-2.78"/><path class="tk" d="M69.5 501.5h-4.86"/><text class="t" x="58.7" y="507.9" text-anchor="end">10<tspan dy="-5.3" style="font-size:9.722px">−2</tspan></text>
<path class="tk" stroke-width=".83" d="M69.5 484.5h-2.78"/><path class="tk" stroke-width=".83" d="M69.5 474.5h-2.78"/><path class="tk" stroke-width=".83" d="M69.5 467.5h-2.78"/><path class="tk" stroke-width=".83" d="M69.5 462.5h-2.78"/><path class="tk" stroke-width=".83" d="M69.5 457.5h-2.78"/><path class="tk" stroke-width=".83" d="M69.5 453.5h-2.78"/><path class="tk" stroke-width=".83" d="M69.5 450.5h-2.78"/><path class="tk" stroke-width=".83" d="M69.5 447.5h-2.78"/><path class="tk" d="M69.5 444.5h-4.86"/><text class="t" x="58.7" y="450.9" text-anchor="end">10<tspan dy="-5.3" style="font-size:9.722px">−1</tspan></text>
<path class="tk" stroke-width=".83" d="M69.5 427.5h-2.78"/><path class="tk" stroke-width=".83" d="M69.5 418.5h-2.78"/><path class="tk" stroke-width=".83" d="M69.5 410.5h-2.78"/><path class="tk" stroke-width=".83" d="M69.5 405.5h-2.78"/><path class="tk" stroke-width=".83" d="M69.5 401.5h-2.78"/><path class="tk" stroke-width=".83" d="M69.5 397.5h-2.78"/><path class="tk" stroke-width=".83" d="M69.5 393.5h-2.78"/><path class="tk" stroke-width=".83" d="M69.5 391.5h-2.78"/><path class="tk" d="M69.5 388.5h-4.86"/><text class="t" x="58.7" y="394.9" text-anchor="end">10<tspan dy="-5.3" style="font-size:9.722px">0</tspan></text>
<path class="tk" stroke-width=".83" d="M69.5 371.5h-2.78"/><path class="tk" stroke-width=".83" d="M69.5 361.5h-2.78"/><path class="tk" stroke-width=".83" d="M69.5 354.5h-2.78"/><path class="tk" stroke-width=".83" d="M69.5 349.5h-2.78"/><path class="tk" stroke-width=".83" d="M69.5 344.5h-2.78"/><path class="tk" stroke-width=".83" d="M69.5 340.5h-2.78"/>
<text transform="translate(17.2 488) rotate(-90)" text-anchor="middle">loss</text>
<rect x="76.44" y="558.13" width="119" height="67.43" rx="2.78" fill="#fff" fill-opacity=".8" stroke="#ccc" stroke-opacity=".8" stroke-width="1.39"/>
<path class="ln" stroke="#1f77b4" stroke-linecap="square" d="M81 569.83h27.78"/><text x="120" y="574.69">fn_1.0</text>
<path class="ln" stroke="#ff7f0e" stroke-linecap="square" d="M81 590.92h27.78"/><text x="120" y="595.78">fn_0.01</text>
<path class="ln" stroke="#2ca02c" stroke-linecap="square" d="M81 612h27.78"/><text x="120" y="616.86">fn_0.0001</text>
</svg>
</body></html>
